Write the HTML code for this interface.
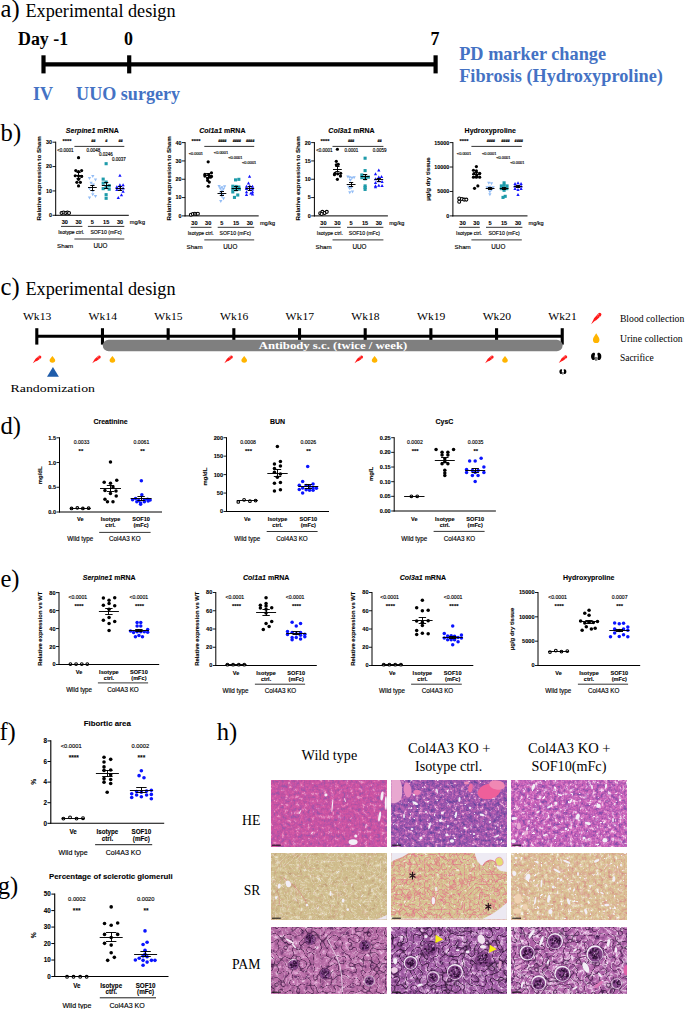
<!DOCTYPE html>
<html><head><meta charset="utf-8"><title>Figure</title>
<style>
html,body{margin:0;padding:0;background:#fff;}
body{width:685px;height:1009px;overflow:hidden;font-family:"Liberation Sans",sans-serif;}
svg{display:block;position:absolute;left:0;top:0;}
.s{font-family:"Liberation Sans",sans-serif;}
.r{font-family:"Liberation Serif",serif;}
text{white-space:pre;}
</style></head><body>
<svg width="685" height="1009" viewBox="0 0 685 1009">
<defs>
<clipPath id="cp00"><rect x="271.2" y="780" width="115.6" height="66.6"/></clipPath>
<clipPath id="cp01"><rect x="391.3" y="780" width="115.6" height="66.6"/></clipPath>
<clipPath id="cp02"><rect x="511.4" y="780" width="115.6" height="66.6"/></clipPath>
<clipPath id="cp10"><rect x="271.2" y="853" width="115.6" height="66.6"/></clipPath>
<clipPath id="cp11"><rect x="391.3" y="853" width="115.6" height="66.6"/></clipPath>
<clipPath id="cp12"><rect x="511.4" y="853" width="115.6" height="66.6"/></clipPath>
<clipPath id="cp20"><rect x="271.2" y="927" width="115.6" height="66.6"/></clipPath>
<clipPath id="cp21"><rect x="391.3" y="927" width="115.6" height="66.6"/></clipPath>
<clipPath id="cp22"><rect x="511.4" y="927" width="115.6" height="66.6"/></clipPath>
<filter id="soft" x="-0.02" y="-0.02" width="1.04" height="1.04"><feGaussianBlur stdDeviation="0.35"/></filter>
<filter id="he1b" x="0" y="0" width="1" height="1" color-interpolation-filters="sRGB"><feTurbulence type="fractalNoise" baseFrequency="0.26" numOctaves="2" seed="11"/><feColorMatrix type="matrix" values="1 0 0 0 0 1 0 0 0 0 1 0 0 0 0 0 0 0 0 1" result="a1"/><feTurbulence type="fractalNoise" baseFrequency="0.7" numOctaves="1" seed="111"/><feColorMatrix type="matrix" values="1 0 0 0 0 1 0 0 0 0 1 0 0 0 0 0 0 0 0 1" result="a2"/><feComposite in="a1" in2="a2" operator="arithmetic" k1="0" k2="0.85" k3="0.4" k4="-0.125"/><feColorMatrix type="matrix" values="2.2 0 0 0 -0.600 2.2 0 0 0 -0.600 2.2 0 0 0 -0.600 0 0 0 0 1"/><feComponentTransfer><feFuncR type="table" tableValues="0.627 0.722 0.776 0.800 0.824 0.855 0.902"/><feFuncG type="table" tableValues="0.337 0.322 0.322 0.329 0.345 0.400 0.565"/><feFuncB type="table" tableValues="0.659 0.635 0.635 0.643 0.643 0.675 0.769"/></feComponentTransfer></filter>
<filter id="he1c" x="0" y="0" width="1" height="1" color-interpolation-filters="sRGB"><feTurbulence type="fractalNoise" baseFrequency="0.2" numOctaves="1" seed="12"/><feColorMatrix type="matrix" values="0 0 0 0 0.604 0 0 0 0 0.329 0 0 0 0 0.706 3.0 0 0 0 -1.000"/><feComponentTransfer><feFuncA type="table" tableValues="0.000 0.000 0.000 0.000 0.400 0.000 0.000 0.000 0.000"/></feComponentTransfer></filter>
<filter id="he1n" x="0" y="0" width="1" height="1" color-interpolation-filters="sRGB"><feTurbulence type="fractalNoise" baseFrequency="0.7" numOctaves="1" seed="13"/><feColorMatrix type="matrix" values="0 0 0 0 0.604 0 0 0 0 0.329 0 0 0 0 0.722 10 0 0 0 -7.000"/><feComponentTransfer><feFuncA type="table" tableValues="0 0.3"/></feComponentTransfer></filter>
<filter id="he2b" x="0" y="0" width="1" height="1" color-interpolation-filters="sRGB"><feTurbulence type="fractalNoise" baseFrequency="0.26" numOctaves="2" seed="21"/><feColorMatrix type="matrix" values="1 0 0 0 0 1 0 0 0 0 1 0 0 0 0 0 0 0 0 1" result="a1"/><feTurbulence type="fractalNoise" baseFrequency="0.7" numOctaves="1" seed="121"/><feColorMatrix type="matrix" values="1 0 0 0 0 1 0 0 0 0 1 0 0 0 0 0 0 0 0 1" result="a2"/><feComposite in="a1" in2="a2" operator="arithmetic" k1="0" k2="0.85" k3="0.4" k4="-0.125"/><feColorMatrix type="matrix" values="2.2 0 0 0 -0.600 2.2 0 0 0 -0.600 2.2 0 0 0 -0.600 0 0 0 0 1"/><feComponentTransfer><feFuncR type="table" tableValues="0.424 0.525 0.604 0.651 0.722 0.800 0.925"/><feFuncG type="table" tableValues="0.282 0.314 0.329 0.345 0.376 0.471 0.722"/><feFuncB type="table" tableValues="0.627 0.651 0.667 0.682 0.698 0.745 0.871"/></feComponentTransfer></filter>
<filter id="he2c" x="0" y="0" width="1" height="1" color-interpolation-filters="sRGB"><feTurbulence type="fractalNoise" baseFrequency="0.2" numOctaves="1" seed="22"/><feColorMatrix type="matrix" values="0 0 0 0 0.392 0 0 0 0 0.267 0 0 0 0 0.643 2.6 0 0 0 -0.800"/><feComponentTransfer><feFuncA type="table" tableValues="0.000 0.000 0.000 0.000 0.450 0.000 0.000 0.000 0.000"/></feComponentTransfer></filter>
<filter id="he2n" x="0" y="0" width="1" height="1" color-interpolation-filters="sRGB"><feTurbulence type="fractalNoise" baseFrequency="0.7" numOctaves="1" seed="23"/><feColorMatrix type="matrix" values="0 0 0 0 0.416 0 0 0 0 0.282 0 0 0 0 0.690 10 0 0 0 -6.800"/><feComponentTransfer><feFuncA type="table" tableValues="0 0.35"/></feComponentTransfer></filter>
<filter id="he2h" x="0" y="0" width="1" height="1" color-interpolation-filters="sRGB"><feTurbulence type="fractalNoise" baseFrequency="0.3" numOctaves="2" seed="24"/><feColorMatrix type="matrix" values="0 0 0 0 0.965 0 0 0 0 0.941 0 0 0 0 0.973 12 0 0 0 -8.820"/><feComponentTransfer><feFuncA type="table" tableValues="0 1.0"/></feComponentTransfer></filter>
<filter id="he3b" x="0" y="0" width="1" height="1" color-interpolation-filters="sRGB"><feTurbulence type="fractalNoise" baseFrequency="0.26" numOctaves="2" seed="31"/><feColorMatrix type="matrix" values="1 0 0 0 0 1 0 0 0 0 1 0 0 0 0 0 0 0 0 1" result="a1"/><feTurbulence type="fractalNoise" baseFrequency="0.7" numOctaves="1" seed="131"/><feColorMatrix type="matrix" values="1 0 0 0 0 1 0 0 0 0 1 0 0 0 0 0 0 0 0 1" result="a2"/><feComposite in="a1" in2="a2" operator="arithmetic" k1="0" k2="0.85" k3="0.4" k4="-0.125"/><feColorMatrix type="matrix" values="2.2 0 0 0 -0.600 2.2 0 0 0 -0.600 2.2 0 0 0 -0.600 0 0 0 0 1"/><feComponentTransfer><feFuncR type="table" tableValues="0.533 0.659 0.753 0.800 0.847 0.894 0.957"/><feFuncG type="table" tableValues="0.314 0.345 0.361 0.392 0.471 0.612 0.831"/><feFuncB type="table" tableValues="0.675 0.690 0.706 0.729 0.769 0.831 0.933"/></feComponentTransfer></filter>
<filter id="he3c" x="0" y="0" width="1" height="1" color-interpolation-filters="sRGB"><feTurbulence type="fractalNoise" baseFrequency="0.2" numOctaves="1" seed="32"/><feColorMatrix type="matrix" values="0 0 0 0 0.502 0 0 0 0 0.314 0 0 0 0 0.690 2.8 0 0 0 -0.900"/><feComponentTransfer><feFuncA type="table" tableValues="0.000 0.000 0.000 0.000 0.400 0.000 0.000 0.000 0.000"/></feComponentTransfer></filter>
<filter id="he3n" x="0" y="0" width="1" height="1" color-interpolation-filters="sRGB"><feTurbulence type="fractalNoise" baseFrequency="0.7" numOctaves="1" seed="33"/><feColorMatrix type="matrix" values="0 0 0 0 0.478 0 0 0 0 0.282 0 0 0 0 0.690 10 0 0 0 -7.000"/><feComponentTransfer><feFuncA type="table" tableValues="0 0.3"/></feComponentTransfer></filter>
<filter id="he3h" x="0" y="0" width="1" height="1" color-interpolation-filters="sRGB"><feTurbulence type="fractalNoise" baseFrequency="0.28" numOctaves="2" seed="34"/><feColorMatrix type="matrix" values="0 0 0 0 0.973 0 0 0 0 0.949 0 0 0 0 0.980 12 0 0 0 -8.580"/><feComponentTransfer><feFuncA type="table" tableValues="0 1.0"/></feComponentTransfer></filter>
<filter id="sr1b" x="0" y="0" width="1" height="1" color-interpolation-filters="sRGB"><feTurbulence type="fractalNoise" baseFrequency="0.25" numOctaves="2" seed="41"/><feColorMatrix type="matrix" values="1 0 0 0 0 1 0 0 0 0 1 0 0 0 0 0 0 0 0 1" result="a1"/><feTurbulence type="fractalNoise" baseFrequency="0.7" numOctaves="1" seed="141"/><feColorMatrix type="matrix" values="1 0 0 0 0 1 0 0 0 0 1 0 0 0 0 0 0 0 0 1" result="a2"/><feComposite in="a1" in2="a2" operator="arithmetic" k1="0" k2="0.8" k3="0.35" k4="-0.075"/><feColorMatrix type="matrix" values="1.7 0 0 0 -0.350 1.7 0 0 0 -0.350 1.7 0 0 0 -0.350 0 0 0 0 1"/><feComponentTransfer><feFuncR type="table" tableValues="0.745 0.784 0.808 0.816 0.831 0.871 0.925"/><feFuncG type="table" tableValues="0.620 0.690 0.729 0.745 0.769 0.816 0.894"/><feFuncB type="table" tableValues="0.471 0.510 0.541 0.557 0.588 0.667 0.816"/></feComponentTransfer></filter>
<filter id="sr1c" x="0" y="0" width="1" height="1" color-interpolation-filters="sRGB"><feTurbulence type="fractalNoise" baseFrequency="0.21" numOctaves="1" seed="42"/><feColorMatrix type="matrix" values="0 0 0 0 0.933 0 0 0 0 0.902 0 0 0 0 0.855 3.2 0 0 0 -1.100"/><feComponentTransfer><feFuncA type="table" tableValues="0.000 0.000 0.000 0.000 0.500 0.000 0.000 0.000 0.000"/></feComponentTransfer></filter>
<filter id="sr1r" x="0" y="0" width="1" height="1" color-interpolation-filters="sRGB"><feTurbulence type="fractalNoise" baseFrequency="0.13" numOctaves="1" seed="43"/><feColorMatrix type="matrix" values="0 0 0 0 0.847 0 0 0 0 0.549 0 0 0 0 0.549 4 0 0 0 -1.500"/><feComponentTransfer><feFuncA type="table" tableValues="0.000 0.000 0.000 0.000 0.300 0.000 0.000 0.000 0.000"/></feComponentTransfer></filter>
<filter id="sr2b" x="0" y="0" width="1" height="1" color-interpolation-filters="sRGB"><feTurbulence type="fractalNoise" baseFrequency="0.25" numOctaves="2" seed="51"/><feColorMatrix type="matrix" values="1 0 0 0 0 1 0 0 0 0 1 0 0 0 0 0 0 0 0 1" result="a1"/><feTurbulence type="fractalNoise" baseFrequency="0.7" numOctaves="1" seed="151"/><feColorMatrix type="matrix" values="1 0 0 0 0 1 0 0 0 0 1 0 0 0 0 0 0 0 0 1" result="a2"/><feComposite in="a1" in2="a2" operator="arithmetic" k1="0" k2="0.8" k3="0.35" k4="-0.075"/><feColorMatrix type="matrix" values="1.8 0 0 0 -0.400 1.8 0 0 0 -0.400 1.8 0 0 0 -0.400 0 0 0 0 1"/><feComponentTransfer><feFuncR type="table" tableValues="0.878 0.863 0.847 0.839 0.847 0.886 0.949"/><feFuncG type="table" tableValues="0.486 0.627 0.729 0.761 0.784 0.831 0.925"/><feFuncB type="table" tableValues="0.565 0.565 0.557 0.565 0.580 0.667 0.878"/></feComponentTransfer></filter>
<filter id="sr2c" x="0" y="0" width="1" height="1" color-interpolation-filters="sRGB"><feTurbulence type="fractalNoise" baseFrequency="0.2" numOctaves="1" seed="52"/><feColorMatrix type="matrix" values="0 0 0 0 0.886 0 0 0 0 0.376 0 0 0 0 0.498 2.2 0 0 0 -0.600"/><feComponentTransfer><feFuncA type="table" tableValues="0.000 0.000 0.000 0.000 0.620 0.000 0.000 0.000 0.000"/></feComponentTransfer></filter>
<filter id="sr2w" x="0" y="0" width="1" height="1" color-interpolation-filters="sRGB"><feTurbulence type="fractalNoise" baseFrequency="0.2" numOctaves="1" seed="53"/><feColorMatrix type="matrix" values="0 0 0 0 0.957 0 0 0 0 0.933 0 0 0 0 0.902 4 0 0 0 -1.500"/><feComponentTransfer><feFuncA type="table" tableValues="0.000 0.000 0.000 0.000 0.350 0.000 0.000 0.000 0.000"/></feComponentTransfer></filter>
<filter id="sr3b" x="0" y="0" width="1" height="1" color-interpolation-filters="sRGB"><feTurbulence type="fractalNoise" baseFrequency="0.25" numOctaves="2" seed="61"/><feColorMatrix type="matrix" values="1 0 0 0 0 1 0 0 0 0 1 0 0 0 0 0 0 0 0 1" result="a1"/><feTurbulence type="fractalNoise" baseFrequency="0.7" numOctaves="1" seed="161"/><feColorMatrix type="matrix" values="1 0 0 0 0 1 0 0 0 0 1 0 0 0 0 0 0 0 0 1" result="a2"/><feComposite in="a1" in2="a2" operator="arithmetic" k1="0" k2="0.8" k3="0.35" k4="-0.075"/><feColorMatrix type="matrix" values="1.8 0 0 0 -0.400 1.8 0 0 0 -0.400 1.8 0 0 0 -0.400 0 0 0 0 1"/><feComponentTransfer><feFuncR type="table" tableValues="0.831 0.847 0.855 0.855 0.878 0.918 0.973"/><feFuncG type="table" tableValues="0.565 0.675 0.737 0.765 0.800 0.863 0.957"/><feFuncB type="table" tableValues="0.533 0.549 0.573 0.588 0.643 0.753 0.941"/></feComponentTransfer></filter>
<filter id="sr3c" x="0" y="0" width="1" height="1" color-interpolation-filters="sRGB"><feTurbulence type="fractalNoise" baseFrequency="0.2" numOctaves="1" seed="62"/><feColorMatrix type="matrix" values="0 0 0 0 0.863 0 0 0 0 0.518 0 0 0 0 0.580 2.6 0 0 0 -0.800"/><feComponentTransfer><feFuncA type="table" tableValues="0.000 0.000 0.000 0.000 0.420 0.000 0.000 0.000 0.000"/></feComponentTransfer></filter>
<filter id="sr3h" x="0" y="0" width="1" height="1" color-interpolation-filters="sRGB"><feTurbulence type="fractalNoise" baseFrequency="0.3" numOctaves="2" seed="63"/><feColorMatrix type="matrix" values="0 0 0 0 0.965 0 0 0 0 0.949 0 0 0 0 0.965 12 0 0 0 -8.400"/><feComponentTransfer><feFuncA type="table" tableValues="0 1.0"/></feComponentTransfer></filter>
<filter id="pm1b" x="0" y="0" width="1" height="1" color-interpolation-filters="sRGB"><feTurbulence type="fractalNoise" baseFrequency="0.2" numOctaves="2" seed="71"/><feColorMatrix type="matrix" values="1 0 0 0 0 1 0 0 0 0 1 0 0 0 0 0 0 0 0 1" result="a1"/><feTurbulence type="fractalNoise" baseFrequency="0.6" numOctaves="1" seed="171"/><feColorMatrix type="matrix" values="1 0 0 0 0 1 0 0 0 0 1 0 0 0 0 0 0 0 0 1" result="a2"/><feComposite in="a1" in2="a2" operator="arithmetic" k1="0" k2="0.85" k3="0.25" k4="-0.050"/><feColorMatrix type="matrix" values="1.8 0 0 0 -0.400 1.8 0 0 0 -0.400 1.8 0 0 0 -0.400 0 0 0 0 1"/><feComponentTransfer><feFuncR type="table" tableValues="0.424 0.596 0.682 0.722 0.761 0.831 0.925"/><feFuncG type="table" tableValues="0.220 0.329 0.400 0.431 0.471 0.573 0.784"/><feFuncB type="table" tableValues="0.439 0.557 0.620 0.659 0.690 0.776 0.894"/></feComponentTransfer></filter>
<filter id="pm1d" x="0" y="0" width="1" height="1" color-interpolation-filters="sRGB"><feTurbulence type="fractalNoise" baseFrequency="0.14" numOctaves="1" seed="72"/><feColorMatrix type="matrix" values="0 0 0 0 0.173 0 0 0 0 0.047 0 0 0 0 0.204 3.2 0 0 0 -1.100"/><feComponentTransfer><feFuncA type="table" tableValues="0.000 0.000 0.000 0.000 0.700 0.000 0.000 0.000 0.000"/></feComponentTransfer></filter>
<filter id="pm1w" x="0" y="0" width="1" height="1" color-interpolation-filters="sRGB"><feTurbulence type="fractalNoise" baseFrequency="0.19" numOctaves="1" seed="73"/><feColorMatrix type="matrix" values="0 0 0 0 0.925 0 0 0 0 0.847 0 0 0 0 0.918 3.4 0 0 0 -1.200"/><feComponentTransfer><feFuncA type="table" tableValues="0.000 0.000 0.000 0.000 0.450 0.000 0.000 0.000 0.000"/></feComponentTransfer></filter>
<filter id="pm2b" x="0" y="0" width="1" height="1" color-interpolation-filters="sRGB"><feTurbulence type="fractalNoise" baseFrequency="0.2" numOctaves="2" seed="81"/><feColorMatrix type="matrix" values="1 0 0 0 0 1 0 0 0 0 1 0 0 0 0 0 0 0 0 1" result="a1"/><feTurbulence type="fractalNoise" baseFrequency="0.6" numOctaves="1" seed="181"/><feColorMatrix type="matrix" values="1 0 0 0 0 1 0 0 0 0 1 0 0 0 0 0 0 0 0 1" result="a2"/><feComposite in="a1" in2="a2" operator="arithmetic" k1="0" k2="0.85" k3="0.25" k4="-0.050"/><feColorMatrix type="matrix" values="1.9 0 0 0 -0.450 1.9 0 0 0 -0.450 1.9 0 0 0 -0.450 0 0 0 0 1"/><feComponentTransfer><feFuncR type="table" tableValues="0.329 0.494 0.588 0.627 0.690 0.800 0.941"/><feFuncG type="table" tableValues="0.157 0.267 0.329 0.361 0.424 0.580 0.847"/><feFuncB type="table" tableValues="0.376 0.518 0.604 0.643 0.698 0.800 0.941"/></feComponentTransfer></filter>
<filter id="pm2d" x="0" y="0" width="1" height="1" color-interpolation-filters="sRGB"><feTurbulence type="fractalNoise" baseFrequency="0.14" numOctaves="1" seed="82"/><feColorMatrix type="matrix" values="0 0 0 0 0.133 0 0 0 0 0.031 0 0 0 0 0.157 2.8 0 0 0 -0.900"/><feComponentTransfer><feFuncA type="table" tableValues="0.000 0.000 0.000 0.000 0.780 0.000 0.000 0.000 0.000"/></feComponentTransfer></filter>
<filter id="pm2w" x="0" y="0" width="1" height="1" color-interpolation-filters="sRGB"><feTurbulence type="fractalNoise" baseFrequency="0.19" numOctaves="1" seed="83"/><feColorMatrix type="matrix" values="0 0 0 0 0.949 0 0 0 0 0.894 0 0 0 0 0.949 3.0 0 0 0 -1.000"/><feComponentTransfer><feFuncA type="table" tableValues="0.000 0.000 0.000 0.000 0.550 0.000 0.000 0.000 0.000"/></feComponentTransfer></filter>
<filter id="pm3b" x="0" y="0" width="1" height="1" color-interpolation-filters="sRGB"><feTurbulence type="fractalNoise" baseFrequency="0.2" numOctaves="2" seed="91"/><feColorMatrix type="matrix" values="1 0 0 0 0 1 0 0 0 0 1 0 0 0 0 0 0 0 0 1" result="a1"/><feTurbulence type="fractalNoise" baseFrequency="0.6" numOctaves="1" seed="191"/><feColorMatrix type="matrix" values="1 0 0 0 0 1 0 0 0 0 1 0 0 0 0 0 0 0 0 1" result="a2"/><feComposite in="a1" in2="a2" operator="arithmetic" k1="0" k2="0.85" k3="0.25" k4="-0.050"/><feColorMatrix type="matrix" values="1.9 0 0 0 -0.450 1.9 0 0 0 -0.450 1.9 0 0 0 -0.450 0 0 0 0 1"/><feComponentTransfer><feFuncR type="table" tableValues="0.369 0.549 0.651 0.698 0.753 0.847 0.965"/><feFuncG type="table" tableValues="0.173 0.298 0.369 0.400 0.471 0.627 0.894"/><feFuncB type="table" tableValues="0.416 0.549 0.635 0.667 0.722 0.824 0.965"/></feComponentTransfer></filter>
<filter id="pm3d" x="0" y="0" width="1" height="1" color-interpolation-filters="sRGB"><feTurbulence type="fractalNoise" baseFrequency="0.14" numOctaves="1" seed="92"/><feColorMatrix type="matrix" values="0 0 0 0 0.165 0 0 0 0 0.047 0 0 0 0 0.204 3.0 0 0 0 -1.000"/><feComponentTransfer><feFuncA type="table" tableValues="0.000 0.000 0.000 0.000 0.700 0.000 0.000 0.000 0.000"/></feComponentTransfer></filter>
<filter id="pm3w" x="0" y="0" width="1" height="1" color-interpolation-filters="sRGB"><feTurbulence type="fractalNoise" baseFrequency="0.17" numOctaves="1" seed="93"/><feColorMatrix type="matrix" values="0 0 0 0 0.965 0 0 0 0 0.918 0 0 0 0 0.965 2.4 0 0 0 -0.700"/><feComponentTransfer><feFuncA type="table" tableValues="0.000 0.000 0.000 0.000 0.700 0.000 0.000 0.000 0.000"/></feComponentTransfer></filter>
</defs>
<rect width="685" height="1009" fill="#fff"/>
<text class="r" x="0.50" y="16.70" font-size="24.6">a)</text>
<text class="r" x="25.50" y="16.80" font-size="18.2">Experimental design</text>
<text class="r" x="18.00" y="45.30" font-size="17.9" font-weight="bold">Day -1</text>
<text class="r" x="124.10" y="45.30" font-size="17.9" font-weight="bold">0</text>
<text class="r" x="430.60" y="45.30" font-size="17.9" font-weight="bold">7</text>
<line x1="43.40" y1="64.30" x2="435.60" y2="64.30" stroke="#000" stroke-width="4.3"/>
<line x1="43.50" y1="55.30" x2="43.50" y2="73.40" stroke="#000" stroke-width="4.2"/>
<line x1="129.20" y1="55.30" x2="129.20" y2="73.40" stroke="#000" stroke-width="4.2"/>
<line x1="435.60" y1="55.30" x2="435.60" y2="73.40" stroke="#000" stroke-width="4.2"/>
<text class="r" x="33.00" y="100.40" font-size="18.1" font-weight="bold" fill="#4472C4">IV</text>
<text class="r" x="76.10" y="100.40" font-size="18.1" font-weight="bold" fill="#4472C4">UUO surgery</text>
<text class="r" x="459.20" y="59.90" font-size="18.3" font-weight="bold" fill="#4472C4">PD marker change</text>
<text class="r" x="459.20" y="82.30" font-size="18.3" font-weight="bold" fill="#4472C4">Fibrosis (Hydroxyproline)</text>
<text class="r" x="0.60" y="141.00" font-size="24.6">b)</text>
<text class="s" x="92.30" y="133.29" font-size="7" font-weight="bold" text-anchor="middle" stroke="#000" stroke-width="0.1"><tspan font-style="italic">Serpine1</tspan><tspan font-style="normal"> mRNA</tspan></text>
<line x1="55.70" y1="141.70" x2="55.70" y2="215.80" stroke="#000" stroke-width="1"/>
<line x1="55.20" y1="215.30" x2="128.80" y2="215.30" stroke="#000" stroke-width="1"/>
<line x1="52.50" y1="215.30" x2="55.70" y2="215.30" stroke="#000" stroke-width="0.9"/>
<text class="s" x="52.10" y="217.22" font-size="5.4" font-weight="bold" text-anchor="end" stroke="#000" stroke-width="0.1">0</text>
<line x1="52.50" y1="190.93" x2="55.70" y2="190.93" stroke="#000" stroke-width="0.9"/>
<text class="s" x="52.10" y="192.85" font-size="5.4" font-weight="bold" text-anchor="end" stroke="#000" stroke-width="0.1">10</text>
<line x1="52.50" y1="166.57" x2="55.70" y2="166.57" stroke="#000" stroke-width="0.9"/>
<text class="s" x="52.10" y="168.48" font-size="5.4" font-weight="bold" text-anchor="end" stroke="#000" stroke-width="0.1">20</text>
<line x1="52.50" y1="142.20" x2="55.70" y2="142.20" stroke="#000" stroke-width="0.9"/>
<text class="s" x="52.10" y="144.12" font-size="5.4" font-weight="bold" text-anchor="end" stroke="#000" stroke-width="0.1">30</text>
<text class="s" transform="translate(41.40,178.40) rotate(-90)" font-size="6.2" font-weight="bold" text-anchor="middle" stroke="#000" stroke-width="0.1">Relative expression to Sham</text>
<circle cx="61.57" cy="212.96" r="1.50" fill="#fff" stroke="#000" stroke-width="1.05"/>
<circle cx="63.54" cy="212.52" r="1.50" fill="#fff" stroke="#000" stroke-width="1.05"/>
<circle cx="65.51" cy="212.96" r="1.50" fill="#fff" stroke="#000" stroke-width="1.05"/>
<circle cx="67.48" cy="212.52" r="1.50" fill="#fff" stroke="#000" stroke-width="1.05"/>
<circle cx="69.02" cy="212.96" r="1.50" fill="#fff" stroke="#000" stroke-width="1.05"/>
<circle cx="78.54" cy="157.67" r="1.6" fill="#000"/>
<circle cx="75.80" cy="170.59" r="1.6" fill="#000"/>
<circle cx="78.54" cy="171.68" r="1.6" fill="#000"/>
<circle cx="81.61" cy="170.59" r="1.6" fill="#000"/>
<circle cx="75.26" cy="175.73" r="1.6" fill="#000"/>
<circle cx="78.54" cy="176.06" r="1.6" fill="#000"/>
<circle cx="81.61" cy="176.39" r="1.6" fill="#000"/>
<circle cx="78.54" cy="179.34" r="1.6" fill="#000"/>
<circle cx="76.90" cy="182.30" r="1.6" fill="#000"/>
<circle cx="80.40" cy="182.30" r="1.6" fill="#000"/>
<circle cx="78.54" cy="185.91" r="1.6" fill="#000"/>
<line x1="74.20" y1="175.50" x2="83.00" y2="175.50" stroke="#000" stroke-width="0.95"/>
<line x1="78.50" y1="172.00" x2="78.50" y2="179.00" stroke="#000" stroke-width="0.95"/>
<line x1="76.50" y1="172.50" x2="80.70" y2="172.50" stroke="#000" stroke-width="0.95"/>
<line x1="76.50" y1="178.50" x2="80.70" y2="178.50" stroke="#000" stroke-width="0.95"/>
<path d="M91.13 175.04h3.30L92.78 178.04z" fill="#93BDF5"/>
<path d="M87.84 176.90h3.30L89.49 179.90z" fill="#93BDF5"/>
<path d="M93.86 178.54h3.30L95.51 181.54z" fill="#93BDF5"/>
<path d="M89.48 181.83h3.30L91.13 184.83z" fill="#93BDF5"/>
<path d="M91.67 183.47h3.30L93.32 186.47z" fill="#93BDF5"/>
<path d="M87.84 187.30h3.30L89.49 190.30z" fill="#93BDF5"/>
<path d="M91.13 190.04h3.30L92.78 193.04z" fill="#93BDF5"/>
<path d="M91.13 193.32h3.30L92.78 196.32z" fill="#93BDF5"/>
<path d="M93.86 194.97h3.30L95.51 197.97z" fill="#93BDF5"/>
<path d="M87.84 196.61h3.30L89.49 199.61z" fill="#93BDF5"/>
<line x1="88.00" y1="187.50" x2="96.80" y2="187.50" stroke="#000" stroke-width="0.95"/>
<line x1="92.50" y1="185.00" x2="92.50" y2="191.00" stroke="#000" stroke-width="0.95"/>
<line x1="90.30" y1="185.50" x2="94.50" y2="185.50" stroke="#000" stroke-width="0.95"/>
<line x1="90.30" y1="190.50" x2="94.50" y2="190.50" stroke="#000" stroke-width="0.95"/>
<rect x="104.58" y="162.14" width="3.1" height="3.1" fill="#1E9BAA"/>
<rect x="101.63" y="177.58" width="3.1" height="3.1" fill="#1E9BAA"/>
<rect x="104.58" y="180.53" width="3.1" height="3.1" fill="#1E9BAA"/>
<rect x="101.63" y="181.63" width="3.1" height="3.1" fill="#1E9BAA"/>
<rect x="107.65" y="184.04" width="3.1" height="3.1" fill="#1E9BAA"/>
<rect x="101.63" y="187.10" width="3.1" height="3.1" fill="#1E9BAA"/>
<rect x="107.65" y="187.65" width="3.1" height="3.1" fill="#1E9BAA"/>
<rect x="104.58" y="186.01" width="3.1" height="3.1" fill="#1E9BAA"/>
<rect x="104.58" y="193.12" width="3.1" height="3.1" fill="#1E9BAA"/>
<rect x="104.58" y="196.74" width="3.1" height="3.1" fill="#1E9BAA"/>
<line x1="101.80" y1="185.50" x2="110.60" y2="185.50" stroke="#000" stroke-width="0.95"/>
<line x1="106.50" y1="182.00" x2="106.50" y2="189.00" stroke="#000" stroke-width="0.95"/>
<line x1="104.10" y1="182.50" x2="108.30" y2="182.50" stroke="#000" stroke-width="0.95"/>
<line x1="104.10" y1="188.50" x2="108.30" y2="188.50" stroke="#000" stroke-width="0.95"/>
<path d="M118.28 176.64h3.30L119.93 173.64z" fill="#1414FF"/>
<path d="M118.28 186.17h3.30L119.93 183.17z" fill="#1414FF"/>
<path d="M121.45 186.17h3.30L123.10 183.17z" fill="#1414FF"/>
<path d="M115.21 188.36h3.30L116.86 185.36z" fill="#1414FF"/>
<path d="M118.28 189.45h3.30L119.93 186.45z" fill="#1414FF"/>
<path d="M121.45 189.45h3.30L123.10 186.45z" fill="#1414FF"/>
<path d="M121.45 192.74h3.30L123.10 189.74z" fill="#1414FF"/>
<path d="M115.21 191.10h3.30L116.86 188.10z" fill="#1414FF"/>
<path d="M119.81 196.35h3.30L121.46 193.35z" fill="#1414FF"/>
<path d="M116.64 199.09h3.30L118.29 196.09z" fill="#1414FF"/>
<line x1="115.60" y1="188.50" x2="124.40" y2="188.50" stroke="#000" stroke-width="0.95"/>
<line x1="120.50" y1="186.00" x2="120.50" y2="191.00" stroke="#000" stroke-width="0.95"/>
<line x1="117.90" y1="186.50" x2="122.10" y2="186.50" stroke="#000" stroke-width="0.95"/>
<line x1="117.90" y1="190.50" x2="122.10" y2="190.50" stroke="#000" stroke-width="0.95"/>
<text class="s" x="67.00" y="143.46" font-size="5.8" font-weight="bold" text-anchor="middle" stroke="#000" stroke-width="0.1">****</text>
<text class="s" x="93.20" y="142.11" font-size="3.7" font-weight="bold" font-style="italic" text-anchor="middle" stroke="#000" stroke-width="0.1">##</text>
<text class="s" x="106.20" y="142.11" font-size="3.7" font-weight="bold" font-style="italic" text-anchor="middle" stroke="#000" stroke-width="0.1">#</text>
<text class="s" x="120.50" y="142.11" font-size="3.7" font-weight="bold" font-style="italic" text-anchor="middle" stroke="#000" stroke-width="0.1">##</text>
<text class="s" x="65.40" y="151.90" font-size="4.5" text-anchor="middle" stroke="#000" stroke-width="0.14">&lt;0.0001</text>
<text class="s" x="93.30" y="151.90" font-size="4.5" text-anchor="middle" stroke="#000" stroke-width="0.14">0.0048</text>
<text class="s" x="105.80" y="156.40" font-size="4.5" text-anchor="middle" stroke="#000" stroke-width="0.14">0.0246</text>
<text class="s" x="119.00" y="161.10" font-size="4.5" text-anchor="middle" stroke="#000" stroke-width="0.14">0.0037</text>
<text class="s" x="64.80" y="223.89" font-size="5.6" font-weight="bold" text-anchor="middle" stroke="#000" stroke-width="0.1">30</text>
<text class="s" x="78.60" y="223.89" font-size="5.6" font-weight="bold" text-anchor="middle" stroke="#000" stroke-width="0.1">30</text>
<text class="s" x="92.40" y="223.89" font-size="5.6" font-weight="bold" text-anchor="middle" stroke="#000" stroke-width="0.1">5</text>
<text class="s" x="106.20" y="223.89" font-size="5.6" font-weight="bold" text-anchor="middle" stroke="#000" stroke-width="0.1">15</text>
<text class="s" x="120.00" y="223.89" font-size="5.6" font-weight="bold" text-anchor="middle" stroke="#000" stroke-width="0.1">30</text>
<text class="s" x="129.80" y="223.89" font-size="5.6" stroke="#000" stroke-width="0.14">mg/kg</text>
<line x1="61.00" y1="226.40" x2="82.40" y2="226.40" stroke="#000" stroke-width="0.8"/>
<line x1="87.90" y1="226.40" x2="124.30" y2="226.40" stroke="#000" stroke-width="0.8"/>
<text class="s" x="71.20" y="234.21" font-size="5.1" text-anchor="middle" stroke="#000" stroke-width="0.14">Isotype ctrl.</text>
<text class="s" x="106.10" y="234.25" font-size="5.2" text-anchor="middle" stroke="#000" stroke-width="0.14">SOF10 (mFc)</text>
<line x1="74.40" y1="239.00" x2="124.30" y2="239.00" stroke="#000" stroke-width="0.8"/>
<line x1="74.40" y1="146.40" x2="124.30" y2="146.40" stroke="#000" stroke-width="0.8"/>
<text class="s" x="65.20" y="247.90" font-size="6.2" text-anchor="middle" stroke="#000" stroke-width="0.14">Sham</text>
<text class="s" x="100.40" y="247.94" font-size="6.3" text-anchor="middle" stroke="#000" stroke-width="0.14">UUO</text>
<text class="s" x="222.30" y="133.29" font-size="7" font-weight="bold" text-anchor="middle" stroke="#000" stroke-width="0.1"><tspan font-style="italic">Col1a1</tspan><tspan font-style="normal"> mRNA</tspan></text>
<line x1="185.10" y1="142.10" x2="185.10" y2="216.40" stroke="#000" stroke-width="1"/>
<line x1="184.60" y1="215.90" x2="258.70" y2="215.90" stroke="#000" stroke-width="1"/>
<line x1="181.90" y1="215.90" x2="185.10" y2="215.90" stroke="#000" stroke-width="0.9"/>
<text class="s" x="181.50" y="217.82" font-size="5.4" font-weight="bold" text-anchor="end" stroke="#000" stroke-width="0.1">0</text>
<line x1="181.90" y1="197.57" x2="185.10" y2="197.57" stroke="#000" stroke-width="0.9"/>
<text class="s" x="181.50" y="199.49" font-size="5.4" font-weight="bold" text-anchor="end" stroke="#000" stroke-width="0.1">10</text>
<line x1="181.90" y1="179.25" x2="185.10" y2="179.25" stroke="#000" stroke-width="0.9"/>
<text class="s" x="181.50" y="181.17" font-size="5.4" font-weight="bold" text-anchor="end" stroke="#000" stroke-width="0.1">20</text>
<line x1="181.90" y1="160.93" x2="185.10" y2="160.93" stroke="#000" stroke-width="0.9"/>
<text class="s" x="181.50" y="162.84" font-size="5.4" font-weight="bold" text-anchor="end" stroke="#000" stroke-width="0.1">30</text>
<line x1="181.90" y1="142.60" x2="185.10" y2="142.60" stroke="#000" stroke-width="0.9"/>
<text class="s" x="181.50" y="144.52" font-size="5.4" font-weight="bold" text-anchor="end" stroke="#000" stroke-width="0.1">40</text>
<text class="s" transform="translate(171.00,178.40) rotate(-90)" font-size="6.2" font-weight="bold" text-anchor="middle" stroke="#000" stroke-width="0.1">Relative expression to Sham</text>
<circle cx="190.88" cy="214.71" r="1.50" fill="#fff" stroke="#000" stroke-width="1.05"/>
<circle cx="192.85" cy="214.05" r="1.50" fill="#fff" stroke="#000" stroke-width="1.05"/>
<circle cx="194.83" cy="213.83" r="1.50" fill="#fff" stroke="#000" stroke-width="1.05"/>
<circle cx="196.36" cy="214.05" r="1.50" fill="#fff" stroke="#000" stroke-width="1.05"/>
<circle cx="197.89" cy="213.83" r="1.50" fill="#fff" stroke="#000" stroke-width="1.05"/>
<circle cx="208.18" cy="161.83" r="1.6" fill="#000"/>
<circle cx="211.47" cy="172.78" r="1.6" fill="#000"/>
<circle cx="204.90" cy="174.42" r="1.6" fill="#000"/>
<circle cx="208.73" cy="174.64" r="1.6" fill="#000"/>
<circle cx="211.47" cy="176.61" r="1.6" fill="#000"/>
<circle cx="204.90" cy="176.06" r="1.6" fill="#000"/>
<circle cx="207.64" cy="178.25" r="1.6" fill="#000"/>
<circle cx="210.37" cy="177.15" r="1.6" fill="#000"/>
<circle cx="207.64" cy="180.44" r="1.6" fill="#000"/>
<circle cx="209.28" cy="182.08" r="1.6" fill="#000"/>
<circle cx="208.18" cy="186.24" r="1.6" fill="#000"/>
<line x1="203.80" y1="175.50" x2="212.60" y2="175.50" stroke="#000" stroke-width="0.95"/>
<line x1="208.50" y1="173.00" x2="208.50" y2="178.00" stroke="#000" stroke-width="0.95"/>
<line x1="206.10" y1="173.50" x2="210.30" y2="173.50" stroke="#000" stroke-width="0.95"/>
<line x1="206.10" y1="177.50" x2="210.30" y2="177.50" stroke="#000" stroke-width="0.95"/>
<path d="M217.48 185.11h3.30L219.13 188.11z" fill="#93BDF5"/>
<path d="M220.22 186.21h3.30L221.87 189.21z" fill="#93BDF5"/>
<path d="M222.96 185.33h3.30L224.61 188.33z" fill="#93BDF5"/>
<path d="M218.58 187.30h3.30L220.23 190.30z" fill="#93BDF5"/>
<path d="M221.86 187.85h3.30L223.51 190.85z" fill="#93BDF5"/>
<path d="M220.22 189.49h3.30L221.87 192.49z" fill="#93BDF5"/>
<path d="M219.13 191.68h3.30L220.78 194.68z" fill="#93BDF5"/>
<path d="M221.31 193.32h3.30L222.96 196.32z" fill="#93BDF5"/>
<path d="M220.22 194.97h3.30L221.87 197.97z" fill="#93BDF5"/>
<path d="M221.86 197.16h3.30L223.51 200.16z" fill="#93BDF5"/>
<path d="M219.13 199.89h3.30L220.78 202.89z" fill="#93BDF5"/>
<line x1="217.50" y1="193.50" x2="226.30" y2="193.50" stroke="#000" stroke-width="0.95"/>
<line x1="221.50" y1="191.00" x2="221.50" y2="196.00" stroke="#000" stroke-width="0.95"/>
<line x1="219.80" y1="191.50" x2="224.00" y2="191.50" stroke="#000" stroke-width="0.95"/>
<line x1="219.80" y1="195.50" x2="224.00" y2="195.50" stroke="#000" stroke-width="0.95"/>
<rect x="234.01" y="178.34" width="3.1" height="3.1" fill="#1E9BAA"/>
<rect x="237.29" y="177.79" width="3.1" height="3.1" fill="#1E9BAA"/>
<rect x="231.27" y="184.69" width="3.1" height="3.1" fill="#1E9BAA"/>
<rect x="234.55" y="184.91" width="3.1" height="3.1" fill="#1E9BAA"/>
<rect x="237.29" y="185.46" width="3.1" height="3.1" fill="#1E9BAA"/>
<rect x="231.27" y="187.65" width="3.1" height="3.1" fill="#1E9BAA"/>
<rect x="234.55" y="188.20" width="3.1" height="3.1" fill="#1E9BAA"/>
<rect x="237.84" y="187.65" width="3.1" height="3.1" fill="#1E9BAA"/>
<rect x="231.27" y="190.39" width="3.1" height="3.1" fill="#1E9BAA"/>
<rect x="236.20" y="193.45" width="3.1" height="3.1" fill="#1E9BAA"/>
<rect x="232.91" y="195.86" width="3.1" height="3.1" fill="#1E9BAA"/>
<line x1="231.70" y1="188.50" x2="240.50" y2="188.50" stroke="#000" stroke-width="0.95"/>
<line x1="236.50" y1="186.00" x2="236.50" y2="191.00" stroke="#000" stroke-width="0.95"/>
<line x1="234.00" y1="186.50" x2="238.20" y2="186.50" stroke="#000" stroke-width="0.95"/>
<line x1="234.00" y1="190.50" x2="238.20" y2="190.50" stroke="#000" stroke-width="0.95"/>
<path d="M247.92 177.74h3.30L249.57 174.74z" fill="#1414FF"/>
<path d="M246.83 184.53h3.30L248.48 181.53z" fill="#1414FF"/>
<path d="M244.86 187.81h3.30L246.51 184.81z" fill="#1414FF"/>
<path d="M248.14 187.26h3.30L249.79 184.26z" fill="#1414FF"/>
<path d="M250.88 187.81h3.30L252.53 184.81z" fill="#1414FF"/>
<path d="M244.86 190.00h3.30L246.51 187.00z" fill="#1414FF"/>
<path d="M250.88 190.55h3.30L252.53 187.55z" fill="#1414FF"/>
<path d="M244.86 193.29h3.30L246.51 190.29z" fill="#1414FF"/>
<path d="M248.14 191.10h3.30L249.79 188.10z" fill="#1414FF"/>
<path d="M250.88 193.29h3.30L252.53 190.29z" fill="#1414FF"/>
<path d="M244.86 196.02h3.30L246.51 193.02z" fill="#1414FF"/>
<path d="M250.88 195.48h3.30L252.53 192.48z" fill="#1414FF"/>
<path d="M249.24 194.38h3.30L250.89 191.38z" fill="#1414FF"/>
<line x1="245.40" y1="188.50" x2="254.20" y2="188.50" stroke="#000" stroke-width="0.95"/>
<line x1="249.50" y1="186.00" x2="249.50" y2="191.00" stroke="#000" stroke-width="0.95"/>
<line x1="247.70" y1="186.50" x2="251.90" y2="186.50" stroke="#000" stroke-width="0.95"/>
<line x1="247.70" y1="190.50" x2="251.90" y2="190.50" stroke="#000" stroke-width="0.95"/>
<text class="s" x="196.00" y="143.46" font-size="5.8" font-weight="bold" text-anchor="middle" stroke="#000" stroke-width="0.1">****</text>
<text class="s" x="222.30" y="142.11" font-size="3.7" font-weight="bold" font-style="italic" text-anchor="middle" stroke="#000" stroke-width="0.1">####</text>
<text class="s" x="236.80" y="142.11" font-size="3.7" font-weight="bold" font-style="italic" text-anchor="middle" stroke="#000" stroke-width="0.1">####</text>
<text class="s" x="250.10" y="142.11" font-size="3.7" font-weight="bold" font-style="italic" text-anchor="middle" stroke="#000" stroke-width="0.1">####</text>
<text class="s" x="195.90" y="154.60" font-size="3.95" text-anchor="middle" stroke="#000" stroke-width="0.14">&lt;0.0001</text>
<text class="s" x="221.00" y="154.10" font-size="3.95" text-anchor="middle" stroke="#000" stroke-width="0.14">&lt;0.0001</text>
<text class="s" x="235.30" y="159.10" font-size="3.95" text-anchor="middle" stroke="#000" stroke-width="0.14">&lt;0.0001</text>
<text class="s" x="249.10" y="163.60" font-size="3.95" text-anchor="middle" stroke="#000" stroke-width="0.14">&lt;0.0001</text>
<text class="s" x="194.40" y="224.79" font-size="5.6" font-weight="bold" text-anchor="middle" stroke="#000" stroke-width="0.1">30</text>
<text class="s" x="208.20" y="224.79" font-size="5.6" font-weight="bold" text-anchor="middle" stroke="#000" stroke-width="0.1">30</text>
<text class="s" x="221.90" y="224.79" font-size="5.6" font-weight="bold" text-anchor="middle" stroke="#000" stroke-width="0.1">5</text>
<text class="s" x="236.10" y="224.79" font-size="5.6" font-weight="bold" text-anchor="middle" stroke="#000" stroke-width="0.1">15</text>
<text class="s" x="249.80" y="224.79" font-size="5.6" font-weight="bold" text-anchor="middle" stroke="#000" stroke-width="0.1">30</text>
<text class="s" x="259.90" y="224.79" font-size="5.6" stroke="#000" stroke-width="0.14">mg/kg</text>
<line x1="190.60" y1="227.30" x2="211.50" y2="227.30" stroke="#000" stroke-width="0.8"/>
<line x1="217.70" y1="227.30" x2="254.20" y2="227.30" stroke="#000" stroke-width="0.8"/>
<text class="s" x="200.70" y="235.11" font-size="5.1" text-anchor="middle" stroke="#000" stroke-width="0.14">Isotype ctrl.</text>
<text class="s" x="235.30" y="235.15" font-size="5.2" text-anchor="middle" stroke="#000" stroke-width="0.14">SOF10 (mFc)</text>
<line x1="204.30" y1="239.90" x2="254.20" y2="239.90" stroke="#000" stroke-width="0.8"/>
<line x1="204.30" y1="146.40" x2="254.20" y2="146.40" stroke="#000" stroke-width="0.8"/>
<text class="s" x="194.60" y="248.80" font-size="6.2" text-anchor="middle" stroke="#000" stroke-width="0.14">Sham</text>
<text class="s" x="230.30" y="248.84" font-size="6.3" text-anchor="middle" stroke="#000" stroke-width="0.14">UUO</text>
<text class="s" x="351.50" y="133.29" font-size="7" font-weight="bold" text-anchor="middle" stroke="#000" stroke-width="0.1"><tspan font-style="italic">Col3a1</tspan><tspan font-style="normal"> mRNA</tspan></text>
<line x1="314.40" y1="142.10" x2="314.40" y2="216.40" stroke="#000" stroke-width="1"/>
<line x1="313.90" y1="215.90" x2="387.90" y2="215.90" stroke="#000" stroke-width="1"/>
<line x1="311.20" y1="215.90" x2="314.40" y2="215.90" stroke="#000" stroke-width="0.9"/>
<text class="s" x="310.80" y="217.82" font-size="5.4" font-weight="bold" text-anchor="end" stroke="#000" stroke-width="0.1">0</text>
<line x1="311.20" y1="197.57" x2="314.40" y2="197.57" stroke="#000" stroke-width="0.9"/>
<text class="s" x="310.80" y="199.49" font-size="5.4" font-weight="bold" text-anchor="end" stroke="#000" stroke-width="0.1">5</text>
<line x1="311.20" y1="179.25" x2="314.40" y2="179.25" stroke="#000" stroke-width="0.9"/>
<text class="s" x="310.80" y="181.17" font-size="5.4" font-weight="bold" text-anchor="end" stroke="#000" stroke-width="0.1">10</text>
<line x1="311.20" y1="160.93" x2="314.40" y2="160.93" stroke="#000" stroke-width="0.9"/>
<text class="s" x="310.80" y="162.84" font-size="5.4" font-weight="bold" text-anchor="end" stroke="#000" stroke-width="0.1">15</text>
<line x1="311.20" y1="142.60" x2="314.40" y2="142.60" stroke="#000" stroke-width="0.9"/>
<text class="s" x="310.80" y="144.52" font-size="5.4" font-weight="bold" text-anchor="end" stroke="#000" stroke-width="0.1">20</text>
<text class="s" transform="translate(300.20,178.40) rotate(-90)" font-size="6.2" font-weight="bold" text-anchor="middle" stroke="#000" stroke-width="0.1">Relative expression to Sham</text>
<circle cx="320.21" cy="213.29" r="1.50" fill="#fff" stroke="#000" stroke-width="1.05"/>
<circle cx="322.40" cy="211.86" r="1.50" fill="#fff" stroke="#000" stroke-width="1.05"/>
<circle cx="324.59" cy="212.96" r="1.50" fill="#fff" stroke="#000" stroke-width="1.05"/>
<circle cx="326.78" cy="211.86" r="1.50" fill="#fff" stroke="#000" stroke-width="1.05"/>
<circle cx="321.64" cy="214.05" r="1.50" fill="#fff" stroke="#000" stroke-width="1.05"/>
<circle cx="337.40" cy="149.23" r="1.6" fill="#000"/>
<circle cx="336.31" cy="161.28" r="1.6" fill="#000"/>
<circle cx="338.28" cy="164.34" r="1.6" fill="#000"/>
<circle cx="336.31" cy="164.78" r="1.6" fill="#000"/>
<circle cx="334.99" cy="173.32" r="1.6" fill="#000"/>
<circle cx="337.73" cy="173.87" r="1.6" fill="#000"/>
<circle cx="340.69" cy="173.32" r="1.6" fill="#000"/>
<circle cx="334.45" cy="174.64" r="1.6" fill="#000"/>
<circle cx="340.47" cy="176.06" r="1.6" fill="#000"/>
<circle cx="337.40" cy="179.34" r="1.6" fill="#000"/>
<line x1="333.00" y1="169.50" x2="341.80" y2="169.50" stroke="#000" stroke-width="0.95"/>
<line x1="337.50" y1="166.00" x2="337.50" y2="172.00" stroke="#000" stroke-width="0.95"/>
<line x1="335.30" y1="166.50" x2="339.50" y2="166.50" stroke="#000" stroke-width="0.95"/>
<line x1="335.30" y1="171.50" x2="339.50" y2="171.50" stroke="#000" stroke-width="0.95"/>
<path d="M346.26 175.59h3.30L347.91 178.59z" fill="#93BDF5"/>
<path d="M348.13 176.35h3.30L349.78 179.35z" fill="#93BDF5"/>
<path d="M350.31 176.68h3.30L351.96 179.68z" fill="#93BDF5"/>
<path d="M352.50 176.35h3.30L354.15 179.35z" fill="#93BDF5"/>
<path d="M348.67 179.09h3.30L350.32 182.09z" fill="#93BDF5"/>
<path d="M347.03 185.66h3.30L348.68 188.66z" fill="#93BDF5"/>
<path d="M349.77 186.21h3.30L351.42 189.21z" fill="#93BDF5"/>
<path d="M348.13 187.30h3.30L349.78 190.30z" fill="#93BDF5"/>
<path d="M348.13 191.13h3.30L349.78 194.13z" fill="#93BDF5"/>
<path d="M350.86 190.59h3.30L352.51 193.59z" fill="#93BDF5"/>
<line x1="346.70" y1="184.50" x2="355.50" y2="184.50" stroke="#000" stroke-width="0.95"/>
<line x1="351.50" y1="182.00" x2="351.50" y2="187.00" stroke="#000" stroke-width="0.95"/>
<line x1="349.00" y1="182.50" x2="353.20" y2="182.50" stroke="#000" stroke-width="0.95"/>
<line x1="349.00" y1="186.50" x2="353.20" y2="186.50" stroke="#000" stroke-width="0.95"/>
<rect x="363.55" y="156.66" width="3.1" height="3.1" fill="#1E9BAA"/>
<rect x="363.55" y="169.04" width="3.1" height="3.1" fill="#1E9BAA"/>
<rect x="360.27" y="173.41" width="3.1" height="3.1" fill="#1E9BAA"/>
<rect x="363.55" y="175.60" width="3.1" height="3.1" fill="#1E9BAA"/>
<rect x="366.84" y="175.60" width="3.1" height="3.1" fill="#1E9BAA"/>
<rect x="360.27" y="176.15" width="3.1" height="3.1" fill="#1E9BAA"/>
<rect x="363.55" y="177.25" width="3.1" height="3.1" fill="#1E9BAA"/>
<rect x="363.55" y="184.36" width="3.1" height="3.1" fill="#1E9BAA"/>
<rect x="363.55" y="186.01" width="3.1" height="3.1" fill="#1E9BAA"/>
<rect x="363.55" y="187.87" width="3.1" height="3.1" fill="#1E9BAA"/>
<line x1="360.70" y1="176.50" x2="369.50" y2="176.50" stroke="#000" stroke-width="0.95"/>
<line x1="365.50" y1="174.00" x2="365.50" y2="180.00" stroke="#000" stroke-width="0.95"/>
<line x1="363.00" y1="174.50" x2="367.20" y2="174.50" stroke="#000" stroke-width="0.95"/>
<line x1="363.00" y1="179.50" x2="367.20" y2="179.50" stroke="#000" stroke-width="0.95"/>
<path d="M377.14 171.61h3.30L378.79 168.61z" fill="#1414FF"/>
<path d="M373.86 175.22h3.30L375.51 172.22z" fill="#1414FF"/>
<path d="M379.88 177.96h3.30L381.53 174.96z" fill="#1414FF"/>
<path d="M377.14 178.50h3.30L378.79 175.50z" fill="#1414FF"/>
<path d="M373.86 180.15h3.30L375.51 177.15z" fill="#1414FF"/>
<path d="M377.14 182.34h3.30L378.79 179.34z" fill="#1414FF"/>
<path d="M380.43 182.88h3.30L382.08 179.88z" fill="#1414FF"/>
<path d="M373.86 183.98h3.30L375.51 180.98z" fill="#1414FF"/>
<path d="M373.86 187.26h3.30L375.51 184.26z" fill="#1414FF"/>
<path d="M377.14 186.72h3.30L378.79 183.72z" fill="#1414FF"/>
<path d="M380.43 186.94h3.30L382.08 183.94z" fill="#1414FF"/>
<path d="M373.86 188.36h3.30L375.51 185.36z" fill="#1414FF"/>
<line x1="374.40" y1="179.50" x2="383.20" y2="179.50" stroke="#000" stroke-width="0.95"/>
<line x1="378.50" y1="178.00" x2="378.50" y2="182.00" stroke="#000" stroke-width="0.95"/>
<line x1="376.70" y1="178.50" x2="380.90" y2="178.50" stroke="#000" stroke-width="0.95"/>
<line x1="376.70" y1="181.50" x2="380.90" y2="181.50" stroke="#000" stroke-width="0.95"/>
<text class="s" x="325.10" y="143.46" font-size="5.8" font-weight="bold" text-anchor="middle" stroke="#000" stroke-width="0.1">****</text>
<text class="s" x="351.00" y="142.11" font-size="3.7" font-weight="bold" font-style="italic" text-anchor="middle" stroke="#000" stroke-width="0.1">###</text>
<text class="s" x="379.60" y="142.11" font-size="3.7" font-weight="bold" font-style="italic" text-anchor="middle" stroke="#000" stroke-width="0.1">##</text>
<text class="s" x="324.40" y="152.30" font-size="4.5" text-anchor="middle" stroke="#000" stroke-width="0.14">&lt;0.0001</text>
<text class="s" x="351.50" y="152.30" font-size="4.5" text-anchor="middle" stroke="#000" stroke-width="0.14">0.0001</text>
<text class="s" x="379.60" y="152.30" font-size="4.5" text-anchor="middle" stroke="#000" stroke-width="0.14">0.0059</text>
<text class="s" x="323.40" y="224.79" font-size="5.6" font-weight="bold" text-anchor="middle" stroke="#000" stroke-width="0.1">30</text>
<text class="s" x="337.40" y="224.79" font-size="5.6" font-weight="bold" text-anchor="middle" stroke="#000" stroke-width="0.1">30</text>
<text class="s" x="351.10" y="224.79" font-size="5.6" font-weight="bold" text-anchor="middle" stroke="#000" stroke-width="0.1">5</text>
<text class="s" x="365.10" y="224.79" font-size="5.6" font-weight="bold" text-anchor="middle" stroke="#000" stroke-width="0.1">15</text>
<text class="s" x="378.80" y="224.79" font-size="5.6" font-weight="bold" text-anchor="middle" stroke="#000" stroke-width="0.1">30</text>
<text class="s" x="389.20" y="224.79" font-size="5.6" stroke="#000" stroke-width="0.14">mg/kg</text>
<line x1="319.60" y1="227.30" x2="340.70" y2="227.30" stroke="#000" stroke-width="0.8"/>
<line x1="347.00" y1="227.30" x2="383.40" y2="227.30" stroke="#000" stroke-width="0.8"/>
<text class="s" x="329.80" y="235.11" font-size="5.1" text-anchor="middle" stroke="#000" stroke-width="0.14">Isotype ctrl.</text>
<text class="s" x="364.40" y="235.15" font-size="5.2" text-anchor="middle" stroke="#000" stroke-width="0.14">SOF10 (mFc)</text>
<line x1="332.50" y1="239.90" x2="383.40" y2="239.90" stroke="#000" stroke-width="0.8"/>
<line x1="332.50" y1="146.40" x2="383.40" y2="146.40" stroke="#000" stroke-width="0.8"/>
<text class="s" x="323.60" y="248.80" font-size="6.2" text-anchor="middle" stroke="#000" stroke-width="0.14">Sham</text>
<text class="s" x="359.50" y="248.84" font-size="6.3" text-anchor="middle" stroke="#000" stroke-width="0.14">UUO</text>
<text class="s" x="490.30" y="133.29" font-size="7" font-weight="bold" text-anchor="middle" stroke="#000" stroke-width="0.1"><tspan font-style="normal">Hydroxyproline</tspan></text>
<line x1="452.90" y1="142.10" x2="452.90" y2="216.40" stroke="#000" stroke-width="1"/>
<line x1="452.40" y1="215.90" x2="527.50" y2="215.90" stroke="#000" stroke-width="1"/>
<line x1="449.70" y1="215.90" x2="452.90" y2="215.90" stroke="#000" stroke-width="0.9"/>
<text class="s" x="449.30" y="217.82" font-size="5.4" font-weight="bold" text-anchor="end" stroke="#000" stroke-width="0.1">0</text>
<line x1="449.70" y1="191.47" x2="452.90" y2="191.47" stroke="#000" stroke-width="0.9"/>
<text class="s" x="449.30" y="193.38" font-size="5.4" font-weight="bold" text-anchor="end" stroke="#000" stroke-width="0.1">5000</text>
<line x1="449.70" y1="167.03" x2="452.90" y2="167.03" stroke="#000" stroke-width="0.9"/>
<text class="s" x="449.30" y="168.95" font-size="5.4" font-weight="bold" text-anchor="end" stroke="#000" stroke-width="0.1">10000</text>
<line x1="449.70" y1="142.60" x2="452.90" y2="142.60" stroke="#000" stroke-width="0.9"/>
<text class="s" x="449.30" y="144.52" font-size="5.4" font-weight="bold" text-anchor="end" stroke="#000" stroke-width="0.1">15000</text>
<text class="s" transform="translate(430.48,179.00) rotate(-90)" font-size="6.15" font-weight="bold" text-anchor="middle" stroke="#000" stroke-width="0.1">µg/g dry tissue</text>
<circle cx="459.21" cy="198.51" r="1.50" fill="#fff" stroke="#000" stroke-width="1.05"/>
<circle cx="461.95" cy="199.05" r="1.50" fill="#fff" stroke="#000" stroke-width="1.05"/>
<circle cx="464.14" cy="199.60" r="1.50" fill="#fff" stroke="#000" stroke-width="1.05"/>
<circle cx="466.33" cy="199.60" r="1.50" fill="#fff" stroke="#000" stroke-width="1.05"/>
<circle cx="459.21" cy="201.79" r="1.50" fill="#fff" stroke="#000" stroke-width="1.05"/>
<circle cx="476.40" cy="166.53" r="1.6" fill="#000"/>
<circle cx="473.45" cy="170.26" r="1.6" fill="#000"/>
<circle cx="476.40" cy="170.91" r="1.6" fill="#000"/>
<circle cx="479.69" cy="173.32" r="1.6" fill="#000"/>
<circle cx="473.99" cy="173.54" r="1.6" fill="#000"/>
<circle cx="476.73" cy="174.96" r="1.6" fill="#000"/>
<circle cx="473.45" cy="177.15" r="1.6" fill="#000"/>
<circle cx="476.40" cy="177.15" r="1.6" fill="#000"/>
<circle cx="479.69" cy="177.15" r="1.6" fill="#000"/>
<circle cx="477.83" cy="185.91" r="1.6" fill="#000"/>
<circle cx="474.54" cy="188.32" r="1.6" fill="#000"/>
<line x1="472.00" y1="174.50" x2="480.80" y2="174.50" stroke="#000" stroke-width="0.95"/>
<line x1="476.50" y1="172.00" x2="476.50" y2="177.00" stroke="#000" stroke-width="0.95"/>
<line x1="474.30" y1="172.50" x2="478.50" y2="172.50" stroke="#000" stroke-width="0.95"/>
<line x1="474.30" y1="176.50" x2="478.50" y2="176.50" stroke="#000" stroke-width="0.95"/>
<path d="M487.13 181.83h3.30L488.78 184.83z" fill="#93BDF5"/>
<path d="M489.86 182.37h3.30L491.51 185.37z" fill="#93BDF5"/>
<path d="M485.48 186.21h3.30L487.13 189.21z" fill="#93BDF5"/>
<path d="M488.22 185.66h3.30L489.87 188.66z" fill="#93BDF5"/>
<path d="M491.50 186.21h3.30L493.15 189.21z" fill="#93BDF5"/>
<path d="M487.13 187.85h3.30L488.78 190.85z" fill="#93BDF5"/>
<path d="M489.86 188.40h3.30L491.51 191.40z" fill="#93BDF5"/>
<path d="M488.22 190.59h3.30L489.87 193.59z" fill="#93BDF5"/>
<path d="M488.22 193.32h3.30L489.87 196.32z" fill="#93BDF5"/>
<line x1="485.70" y1="188.50" x2="494.50" y2="188.50" stroke="#000" stroke-width="0.95"/>
<line x1="490.50" y1="187.00" x2="490.50" y2="190.00" stroke="#000" stroke-width="0.95"/>
<line x1="488.00" y1="187.50" x2="492.20" y2="187.50" stroke="#000" stroke-width="0.95"/>
<line x1="488.00" y1="189.50" x2="492.20" y2="189.50" stroke="#000" stroke-width="0.95"/>
<rect x="502.55" y="181.30" width="3.1" height="3.1" fill="#1E9BAA"/>
<rect x="499.82" y="184.36" width="3.1" height="3.1" fill="#1E9BAA"/>
<rect x="502.55" y="183.82" width="3.1" height="3.1" fill="#1E9BAA"/>
<rect x="505.51" y="184.36" width="3.1" height="3.1" fill="#1E9BAA"/>
<rect x="499.82" y="187.10" width="3.1" height="3.1" fill="#1E9BAA"/>
<rect x="505.29" y="187.10" width="3.1" height="3.1" fill="#1E9BAA"/>
<rect x="502.55" y="188.74" width="3.1" height="3.1" fill="#1E9BAA"/>
<rect x="503.65" y="194.77" width="3.1" height="3.1" fill="#1E9BAA"/>
<rect x="501.46" y="195.86" width="3.1" height="3.1" fill="#1E9BAA"/>
<line x1="499.70" y1="188.50" x2="508.50" y2="188.50" stroke="#000" stroke-width="0.95"/>
<line x1="504.50" y1="187.00" x2="504.50" y2="190.00" stroke="#000" stroke-width="0.95"/>
<line x1="502.00" y1="187.50" x2="506.20" y2="187.50" stroke="#000" stroke-width="0.95"/>
<line x1="502.00" y1="189.50" x2="506.20" y2="189.50" stroke="#000" stroke-width="0.95"/>
<path d="M516.36 184.20h3.30L518.01 181.20z" fill="#1414FF"/>
<path d="M513.40 185.07h3.30L515.05 182.07z" fill="#1414FF"/>
<path d="M519.43 185.07h3.30L521.08 182.07z" fill="#1414FF"/>
<path d="M513.40 187.59h3.30L515.05 184.59z" fill="#1414FF"/>
<path d="M516.36 187.81h3.30L518.01 184.81z" fill="#1414FF"/>
<path d="M519.43 187.59h3.30L521.08 184.59z" fill="#1414FF"/>
<path d="M513.40 190.00h3.30L515.05 187.00z" fill="#1414FF"/>
<path d="M519.43 190.00h3.30L521.08 187.00z" fill="#1414FF"/>
<path d="M516.36 191.10h3.30L518.01 188.10z" fill="#1414FF"/>
<path d="M516.36 196.02h3.30L518.01 193.02z" fill="#1414FF"/>
<line x1="513.60" y1="186.50" x2="522.40" y2="186.50" stroke="#000" stroke-width="0.95"/>
<line x1="518.50" y1="185.00" x2="518.50" y2="188.00" stroke="#000" stroke-width="0.95"/>
<line x1="515.90" y1="185.50" x2="520.10" y2="185.50" stroke="#000" stroke-width="0.95"/>
<line x1="515.90" y1="187.50" x2="520.10" y2="187.50" stroke="#000" stroke-width="0.95"/>
<text class="s" x="463.90" y="143.46" font-size="5.8" font-weight="bold" text-anchor="middle" stroke="#000" stroke-width="0.1">****</text>
<text class="s" x="490.80" y="142.11" font-size="3.7" font-weight="bold" font-style="italic" text-anchor="middle" stroke="#000" stroke-width="0.1">####</text>
<text class="s" x="505.40" y="142.11" font-size="3.7" font-weight="bold" font-style="italic" text-anchor="middle" stroke="#000" stroke-width="0.1">####</text>
<text class="s" x="518.70" y="142.11" font-size="3.7" font-weight="bold" font-style="italic" text-anchor="middle" stroke="#000" stroke-width="0.1">####</text>
<text class="s" x="464.00" y="154.50" font-size="3.95" text-anchor="middle" stroke="#000" stroke-width="0.14">&lt;0.0001</text>
<text class="s" x="489.20" y="154.50" font-size="3.95" text-anchor="middle" stroke="#000" stroke-width="0.14">&lt;0.0001</text>
<text class="s" x="503.30" y="159.20" font-size="3.95" text-anchor="middle" stroke="#000" stroke-width="0.14">&lt;0.0001</text>
<text class="s" x="517.30" y="163.80" font-size="3.95" text-anchor="middle" stroke="#000" stroke-width="0.14">&lt;0.0001</text>
<text class="s" x="462.70" y="224.79" font-size="5.6" font-weight="bold" text-anchor="middle" stroke="#000" stroke-width="0.1">30</text>
<text class="s" x="476.40" y="224.79" font-size="5.6" font-weight="bold" text-anchor="middle" stroke="#000" stroke-width="0.1">30</text>
<text class="s" x="490.10" y="224.79" font-size="5.6" font-weight="bold" text-anchor="middle" stroke="#000" stroke-width="0.1">5</text>
<text class="s" x="504.10" y="224.79" font-size="5.6" font-weight="bold" text-anchor="middle" stroke="#000" stroke-width="0.1">15</text>
<text class="s" x="518.00" y="224.79" font-size="5.6" font-weight="bold" text-anchor="middle" stroke="#000" stroke-width="0.1">30</text>
<text class="s" x="528.50" y="224.79" font-size="5.6" stroke="#000" stroke-width="0.14">mg/kg</text>
<line x1="458.90" y1="227.30" x2="479.80" y2="227.30" stroke="#000" stroke-width="0.8"/>
<line x1="486.00" y1="227.30" x2="522.40" y2="227.30" stroke="#000" stroke-width="0.8"/>
<text class="s" x="469.00" y="235.11" font-size="5.1" text-anchor="middle" stroke="#000" stroke-width="0.14">Isotype ctrl.</text>
<text class="s" x="504.10" y="235.15" font-size="5.2" text-anchor="middle" stroke="#000" stroke-width="0.14">SOF10 (mFc)</text>
<line x1="471.40" y1="239.90" x2="521.80" y2="239.90" stroke="#000" stroke-width="0.8"/>
<line x1="471.40" y1="146.40" x2="521.80" y2="146.40" stroke="#000" stroke-width="0.8"/>
<text class="s" x="462.70" y="248.80" font-size="6.2" text-anchor="middle" stroke="#000" stroke-width="0.14">Sham</text>
<text class="s" x="498.30" y="248.84" font-size="6.3" text-anchor="middle" stroke="#000" stroke-width="0.14">UUO</text>
<text class="r" x="0.50" y="294.50" font-size="24.6">c)</text>
<text class="r" x="25.50" y="294.50" font-size="18.2">Experimental design</text>
<text class="r" x="37.10" y="320.20" font-size="10" text-anchor="middle" textLength="28.4" lengthAdjust="spacingAndGlyphs">Wk13</text>
<text class="r" x="102.78" y="320.20" font-size="10" text-anchor="middle" textLength="28.4" lengthAdjust="spacingAndGlyphs">Wk14</text>
<text class="r" x="168.46" y="320.20" font-size="10" text-anchor="middle" textLength="28.4" lengthAdjust="spacingAndGlyphs">Wk15</text>
<text class="r" x="234.14" y="320.20" font-size="10" text-anchor="middle" textLength="28.4" lengthAdjust="spacingAndGlyphs">Wk16</text>
<text class="r" x="299.82" y="320.20" font-size="10" text-anchor="middle" textLength="28.4" lengthAdjust="spacingAndGlyphs">Wk17</text>
<text class="r" x="365.50" y="320.20" font-size="10" text-anchor="middle" textLength="28.4" lengthAdjust="spacingAndGlyphs">Wk18</text>
<text class="r" x="431.18" y="320.20" font-size="10" text-anchor="middle" textLength="28.4" lengthAdjust="spacingAndGlyphs">Wk19</text>
<text class="r" x="496.86" y="320.20" font-size="10" text-anchor="middle" textLength="28.4" lengthAdjust="spacingAndGlyphs">Wk20</text>
<text class="r" x="562.54" y="320.20" font-size="10" text-anchor="middle" textLength="28.4" lengthAdjust="spacingAndGlyphs">Wk21</text>
<line x1="36.80" y1="336.30" x2="562.24" y2="336.30" stroke="#000" stroke-width="3.1"/>
<line x1="36.80" y1="328.20" x2="36.80" y2="344.60" stroke="#000" stroke-width="3.1"/>
<line x1="102.48" y1="328.20" x2="102.48" y2="344.60" stroke="#000" stroke-width="3.1"/>
<line x1="168.16" y1="328.20" x2="168.16" y2="344.60" stroke="#000" stroke-width="3.1"/>
<line x1="233.84" y1="328.20" x2="233.84" y2="344.60" stroke="#000" stroke-width="3.1"/>
<line x1="299.52" y1="328.20" x2="299.52" y2="344.60" stroke="#000" stroke-width="3.1"/>
<line x1="365.20" y1="328.20" x2="365.20" y2="344.60" stroke="#000" stroke-width="3.1"/>
<line x1="430.88" y1="328.20" x2="430.88" y2="344.60" stroke="#000" stroke-width="3.1"/>
<line x1="496.56" y1="328.20" x2="496.56" y2="344.60" stroke="#000" stroke-width="3.1"/>
<line x1="562.24" y1="328.20" x2="562.24" y2="344.60" stroke="#000" stroke-width="3.1"/>
<rect x="102.8" y="339.7" width="459.8" height="11.6" rx="5.8" fill="#7F7F7F"/>
<text class="r" x="333.00" y="349.20" font-size="10.2" font-weight="bold" text-anchor="middle" fill="#fff" textLength="148.5" lengthAdjust="spacingAndGlyphs">Antibody s.c. (twice / week)</text>
<g transform="translate(36.80,359.50) rotate(-40) scale(0.74,0.888)"><path d="M-7.3 0.3 L-2.6 -1.0 L-1.0 -1.6 L5.4 -1.8 Q7.5 -1.5 7.3 0 Q7.5 1.5 5.4 1.8 L-1.0 1.4 L-2.6 0.8 Z" fill="#FF1A1A"/><path d="M3.0 -1.8v1.4M4.7 -1.8v1.4M3.8 1.8v-1.2" stroke="#fff" stroke-width="0.5" fill="none"/></g>
<g transform="translate(52.40,359.30) scale(1.3125,1.05)"><path d="M0 -3.2 C0.7 -1.8 2.15 -0.3 2.15 1.0 A2.15 2.2 0 0 1 -2.15 1.0 C-2.15 -0.3 -0.7 -1.8 0 -3.2Z" fill="#FFB400"/></g>
<g transform="translate(96.20,359.50) rotate(-40) scale(0.74,0.888)"><path d="M-7.3 0.3 L-2.6 -1.0 L-1.0 -1.6 L5.4 -1.8 Q7.5 -1.5 7.3 0 Q7.5 1.5 5.4 1.8 L-1.0 1.4 L-2.6 0.8 Z" fill="#FF1A1A"/><path d="M3.0 -1.8v1.4M4.7 -1.8v1.4M3.8 1.8v-1.2" stroke="#fff" stroke-width="0.5" fill="none"/></g>
<g transform="translate(112.40,359.30) scale(1.3125,1.05)"><path d="M0 -3.2 C0.7 -1.8 2.15 -0.3 2.15 1.0 A2.15 2.2 0 0 1 -2.15 1.0 C-2.15 -0.3 -0.7 -1.8 0 -3.2Z" fill="#FFB400"/></g>
<g transform="translate(228.30,359.50) rotate(-40) scale(0.74,0.888)"><path d="M-7.3 0.3 L-2.6 -1.0 L-1.0 -1.6 L5.4 -1.8 Q7.5 -1.5 7.3 0 Q7.5 1.5 5.4 1.8 L-1.0 1.4 L-2.6 0.8 Z" fill="#FF1A1A"/><path d="M3.0 -1.8v1.4M4.7 -1.8v1.4M3.8 1.8v-1.2" stroke="#fff" stroke-width="0.5" fill="none"/></g>
<g transform="translate(244.20,359.30) scale(1.3125,1.05)"><path d="M0 -3.2 C0.7 -1.8 2.15 -0.3 2.15 1.0 A2.15 2.2 0 0 1 -2.15 1.0 C-2.15 -0.3 -0.7 -1.8 0 -3.2Z" fill="#FFB400"/></g>
<g transform="translate(358.50,359.50) rotate(-40) scale(0.74,0.888)"><path d="M-7.3 0.3 L-2.6 -1.0 L-1.0 -1.6 L5.4 -1.8 Q7.5 -1.5 7.3 0 Q7.5 1.5 5.4 1.8 L-1.0 1.4 L-2.6 0.8 Z" fill="#FF1A1A"/><path d="M3.0 -1.8v1.4M4.7 -1.8v1.4M3.8 1.8v-1.2" stroke="#fff" stroke-width="0.5" fill="none"/></g>
<g transform="translate(374.60,359.30) scale(1.3125,1.05)"><path d="M0 -3.2 C0.7 -1.8 2.15 -0.3 2.15 1.0 A2.15 2.2 0 0 1 -2.15 1.0 C-2.15 -0.3 -0.7 -1.8 0 -3.2Z" fill="#FFB400"/></g>
<g transform="translate(489.10,359.50) rotate(-40) scale(0.74,0.888)"><path d="M-7.3 0.3 L-2.6 -1.0 L-1.0 -1.6 L5.4 -1.8 Q7.5 -1.5 7.3 0 Q7.5 1.5 5.4 1.8 L-1.0 1.4 L-2.6 0.8 Z" fill="#FF1A1A"/><path d="M3.0 -1.8v1.4M4.7 -1.8v1.4M3.8 1.8v-1.2" stroke="#fff" stroke-width="0.5" fill="none"/></g>
<g transform="translate(505.00,359.30) scale(1.3125,1.05)"><path d="M0 -3.2 C0.7 -1.8 2.15 -0.3 2.15 1.0 A2.15 2.2 0 0 1 -2.15 1.0 C-2.15 -0.3 -0.7 -1.8 0 -3.2Z" fill="#FFB400"/></g>
<g transform="translate(562.70,359.40) rotate(-40) scale(0.74,0.888)"><path d="M-7.3 0.3 L-2.6 -1.0 L-1.0 -1.6 L5.4 -1.8 Q7.5 -1.5 7.3 0 Q7.5 1.5 5.4 1.8 L-1.0 1.4 L-2.6 0.8 Z" fill="#FF1A1A"/><path d="M3.0 -1.8v1.4M4.7 -1.8v1.4M3.8 1.8v-1.2" stroke="#fff" stroke-width="0.5" fill="none"/></g>
<g transform="translate(562.90,371.80) scale(0.7)"><path d="M-1.5 -3.7 C-4.3 -4.3 -5.3 -1.5 -4.9 0.7 C-4.5 2.9 -2.5 4.0 -1.5 2.7 C-0.9 1.8 -1.6 1.0 -1.6 -0.3 C-1.6 -1.6 -0.6 -2.7 -1.5 -3.7Z" fill="#000"/><path d="M1.5 -3.7 C4.3 -4.3 5.3 -1.5 4.9 0.7 C4.5 2.9 2.5 4.0 1.5 2.7 C0.9 1.8 1.6 1.0 1.6 -0.3 C1.6 -1.6 0.6 -2.7 1.5 -3.7Z" fill="#000"/><path d="M-0.55 0.3v3.7M0.55 0.3v3.7" stroke="#000" stroke-width="0.6"/></g>
<path d="M47 376.7 L58.9 376.7 L52.95 366.9 Z" fill="#1F5CAA"/>
<text class="r" x="10.60" y="392.00" font-size="10.3" textLength="84.4" lengthAdjust="spacingAndGlyphs">Randomization</text>
<g transform="translate(595.90,318.60) rotate(-47) scale(1.0,1.0)"><path d="M-7.3 0.3 L-2.6 -1.0 L-1.0 -1.6 L5.4 -1.8 Q7.5 -1.5 7.3 0 Q7.5 1.5 5.4 1.8 L-1.0 1.4 L-2.6 0.8 Z" fill="#FF1A1A"/><path d="M3.0 -1.8v1.4M4.7 -1.8v1.4M3.8 1.8v-1.2" stroke="#fff" stroke-width="0.5" fill="none"/></g>
<g transform="translate(596.20,338.20) scale(1.52,1.52)"><path d="M0 -3.2 C0.7 -1.8 2.15 -0.3 2.15 1.0 A2.15 2.2 0 0 1 -2.15 1.0 C-2.15 -0.3 -0.7 -1.8 0 -3.2Z" fill="#FFB400"/></g>
<g transform="translate(596.20,356.70) scale(1.03)"><path d="M-1.5 -3.7 C-4.3 -4.3 -5.3 -1.5 -4.9 0.7 C-4.5 2.9 -2.5 4.0 -1.5 2.7 C-0.9 1.8 -1.6 1.0 -1.6 -0.3 C-1.6 -1.6 -0.6 -2.7 -1.5 -3.7Z" fill="#000"/><path d="M1.5 -3.7 C4.3 -4.3 5.3 -1.5 4.9 0.7 C4.5 2.9 2.5 4.0 1.5 2.7 C0.9 1.8 1.6 1.0 1.6 -0.3 C1.6 -1.6 0.6 -2.7 1.5 -3.7Z" fill="#000"/><path d="M-0.55 0.3v3.7M0.55 0.3v3.7" stroke="#000" stroke-width="0.6"/></g>
<text class="r" x="619.90" y="322.30" font-size="11.2" textLength="64.4" lengthAdjust="spacingAndGlyphs">Blood collection</text>
<text class="r" x="619.90" y="342.10" font-size="11.2" textLength="62.8" lengthAdjust="spacingAndGlyphs">Urine collection</text>
<text class="r" x="619.90" y="360.90" font-size="11.2" textLength="33.8" lengthAdjust="spacingAndGlyphs">Sacrifice</text>
<text class="r" x="0.40" y="433.60" font-size="24.6">d)</text>
<text class="s" x="110.50" y="424.49" font-size="7.0" font-weight="bold" text-anchor="middle" stroke="#000" stroke-width="0.1">Creatinine</text>
<line x1="59.50" y1="437.30" x2="59.50" y2="512.50" stroke="#000" stroke-width="1.0"/>
<line x1="59.00" y1="512.00" x2="162.00" y2="512.00" stroke="#000" stroke-width="1.0"/>
<line x1="56.50" y1="512.00" x2="59.50" y2="512.00" stroke="#000" stroke-width="0.9"/>
<text class="s" x="56.00" y="513.99" font-size="5.6" font-weight="bold" text-anchor="end" stroke="#000" stroke-width="0.1">0.0</text>
<line x1="56.50" y1="487.27" x2="59.50" y2="487.27" stroke="#000" stroke-width="0.9"/>
<text class="s" x="56.00" y="489.25" font-size="5.6" font-weight="bold" text-anchor="end" stroke="#000" stroke-width="0.1">0.5</text>
<line x1="56.50" y1="462.53" x2="59.50" y2="462.53" stroke="#000" stroke-width="0.9"/>
<text class="s" x="56.00" y="464.52" font-size="5.6" font-weight="bold" text-anchor="end" stroke="#000" stroke-width="0.1">1.0</text>
<line x1="56.50" y1="437.80" x2="59.50" y2="437.80" stroke="#000" stroke-width="0.9"/>
<text class="s" x="56.00" y="439.79" font-size="5.6" font-weight="bold" text-anchor="end" stroke="#000" stroke-width="0.1">1.5</text>
<text class="s" transform="translate(41.79,475.30) rotate(-90)" font-size="5.9" font-weight="bold" text-anchor="middle" stroke="#000" stroke-width="0.1">mg/dL</text>
<circle cx="71.55" cy="508.46" r="1.35" fill="#fff" stroke="#000" stroke-width="1.05"/>
<circle cx="77.33" cy="507.96" r="1.35" fill="#fff" stroke="#000" stroke-width="1.05"/>
<circle cx="82.85" cy="508.46" r="1.35" fill="#fff" stroke="#000" stroke-width="1.05"/>
<circle cx="88.63" cy="508.21" r="1.35" fill="#fff" stroke="#000" stroke-width="1.05"/>
<line x1="69.80" y1="508.50" x2="90.80" y2="508.50" stroke="#000" stroke-width="0.95"/>
<circle cx="110.47" cy="462.01" r="1.75" fill="#000"/>
<circle cx="116.75" cy="480.34" r="1.75" fill="#000"/>
<circle cx="104.19" cy="482.35" r="1.75" fill="#000"/>
<circle cx="110.47" cy="483.35" r="1.75" fill="#000"/>
<circle cx="112.98" cy="487.12" r="1.75" fill="#000"/>
<circle cx="104.95" cy="490.38" r="1.75" fill="#000"/>
<circle cx="115.99" cy="490.89" r="1.75" fill="#000"/>
<circle cx="110.47" cy="493.40" r="1.75" fill="#000"/>
<circle cx="116.24" cy="495.91" r="1.75" fill="#000"/>
<circle cx="104.95" cy="499.17" r="1.75" fill="#000"/>
<circle cx="107.46" cy="501.68" r="1.75" fill="#000"/>
<circle cx="112.98" cy="501.68" r="1.75" fill="#000"/>
<line x1="100.00" y1="488.50" x2="121.00" y2="488.50" stroke="#000" stroke-width="0.95"/>
<line x1="110.50" y1="485.00" x2="110.50" y2="492.00" stroke="#000" stroke-width="0.95"/>
<line x1="106.80" y1="485.50" x2="114.20" y2="485.50" stroke="#000" stroke-width="0.95"/>
<line x1="106.80" y1="491.50" x2="114.20" y2="491.50" stroke="#000" stroke-width="0.95"/>
<circle cx="141.35" cy="480.84" r="1.75" fill="#0A14FF"/>
<circle cx="141.85" cy="494.65" r="1.75" fill="#0A14FF"/>
<circle cx="132.56" cy="499.67" r="1.75" fill="#0A14FF"/>
<circle cx="135.58" cy="498.42" r="1.75" fill="#0A14FF"/>
<circle cx="138.59" cy="500.43" r="1.75" fill="#0A14FF"/>
<circle cx="144.36" cy="499.92" r="1.75" fill="#0A14FF"/>
<circle cx="147.63" cy="499.17" r="1.75" fill="#0A14FF"/>
<circle cx="150.14" cy="499.92" r="1.75" fill="#0A14FF"/>
<circle cx="136.83" cy="501.68" r="1.75" fill="#0A14FF"/>
<circle cx="140.60" cy="502.94" r="1.75" fill="#0A14FF"/>
<circle cx="144.36" cy="501.68" r="1.75" fill="#0A14FF"/>
<circle cx="140.60" cy="504.19" r="1.75" fill="#0A14FF"/>
<circle cx="148.13" cy="500.93" r="1.75" fill="#0A14FF"/>
<line x1="130.60" y1="498.50" x2="151.60" y2="498.50" stroke="#000" stroke-width="0.95"/>
<line x1="141.50" y1="496.00" x2="141.50" y2="501.00" stroke="#000" stroke-width="0.95"/>
<line x1="137.40" y1="496.50" x2="144.80" y2="496.50" stroke="#000" stroke-width="0.95"/>
<line x1="137.40" y1="500.50" x2="144.80" y2="500.50" stroke="#000" stroke-width="0.95"/>
<text class="s" x="81.60" y="444.43" font-size="5.15" text-anchor="middle" stroke="#000" stroke-width="0.14">0.0033</text>
<text class="s" x="80.90" y="453.49" font-size="5.9" font-weight="bold" text-anchor="middle" stroke="#000" stroke-width="0.1">**</text>
<text class="s" x="141.40" y="444.43" font-size="5.15" text-anchor="middle" stroke="#000" stroke-width="0.14">0.0061</text>
<text class="s" x="142.60" y="453.49" font-size="5.9" font-weight="bold" text-anchor="middle" stroke="#000" stroke-width="0.1">**</text>
<text class="s" x="80.30" y="520.99" font-size="5.6" font-weight="bold" text-anchor="middle" stroke="#000" stroke-width="0.1">Ve</text>
<text class="s" x="110.50" y="520.99" font-size="5.6" font-weight="bold" text-anchor="middle" stroke="#000" stroke-width="0.1">Isotype</text>
<text class="s" x="110.50" y="526.79" font-size="5.6" font-weight="bold" text-anchor="middle" stroke="#000" stroke-width="0.1">ctrl.</text>
<text class="s" x="141.10" y="520.99" font-size="5.6" font-weight="bold" text-anchor="middle" stroke="#000" stroke-width="0.1">SOF10</text>
<text class="s" x="141.10" y="526.79" font-size="5.6" font-weight="bold" text-anchor="middle" stroke="#000" stroke-width="0.1">(mFc)</text>
<line x1="99.20" y1="532.40" x2="150.60" y2="532.40" stroke="#000" stroke-width="0.8"/>
<text class="s" x="80.30" y="540.84" font-size="6.3" text-anchor="middle" stroke="#000" stroke-width="0.14">Wild type</text>
<text class="s" x="124.80" y="540.84" font-size="6.3" text-anchor="middle" stroke="#000" stroke-width="0.14">Col4A3 KO</text>
<text class="s" x="277.50" y="424.49" font-size="7.0" font-weight="bold" text-anchor="middle" stroke="#000" stroke-width="0.1">BUN</text>
<line x1="226.50" y1="437.20" x2="226.50" y2="512.00" stroke="#000" stroke-width="1.0"/>
<line x1="226.00" y1="511.50" x2="329.00" y2="511.50" stroke="#000" stroke-width="1.0"/>
<line x1="223.50" y1="511.50" x2="226.50" y2="511.50" stroke="#000" stroke-width="0.9"/>
<text class="s" x="223.00" y="513.49" font-size="5.6" font-weight="bold" text-anchor="end" stroke="#000" stroke-width="0.1">0</text>
<line x1="223.50" y1="493.05" x2="226.50" y2="493.05" stroke="#000" stroke-width="0.9"/>
<text class="s" x="223.00" y="495.04" font-size="5.6" font-weight="bold" text-anchor="end" stroke="#000" stroke-width="0.1">50</text>
<line x1="223.50" y1="474.60" x2="226.50" y2="474.60" stroke="#000" stroke-width="0.9"/>
<text class="s" x="223.00" y="476.59" font-size="5.6" font-weight="bold" text-anchor="end" stroke="#000" stroke-width="0.1">100</text>
<line x1="223.50" y1="456.15" x2="226.50" y2="456.15" stroke="#000" stroke-width="0.9"/>
<text class="s" x="223.00" y="458.14" font-size="5.6" font-weight="bold" text-anchor="end" stroke="#000" stroke-width="0.1">150</text>
<line x1="223.50" y1="437.70" x2="226.50" y2="437.70" stroke="#000" stroke-width="0.9"/>
<text class="s" x="223.00" y="439.69" font-size="5.6" font-weight="bold" text-anchor="end" stroke="#000" stroke-width="0.1">200</text>
<text class="s" transform="translate(207.49,476.60) rotate(-90)" font-size="5.9" font-weight="bold" text-anchor="middle" stroke="#000" stroke-width="0.1">mg/dL</text>
<circle cx="238.27" cy="501.98" r="1.35" fill="#fff" stroke="#000" stroke-width="1.05"/>
<circle cx="244.09" cy="499.84" r="1.35" fill="#fff" stroke="#000" stroke-width="1.05"/>
<circle cx="249.92" cy="501.22" r="1.35" fill="#fff" stroke="#000" stroke-width="1.05"/>
<circle cx="255.59" cy="500.60" r="1.35" fill="#fff" stroke="#000" stroke-width="1.05"/>
<line x1="236.80" y1="500.50" x2="257.80" y2="500.50" stroke="#000" stroke-width="0.95"/>
<circle cx="277.36" cy="446.50" r="1.75" fill="#000"/>
<circle cx="280.42" cy="461.52" r="1.75" fill="#000"/>
<circle cx="274.44" cy="464.12" r="1.75" fill="#000"/>
<circle cx="280.42" cy="466.12" r="1.75" fill="#000"/>
<circle cx="274.44" cy="468.42" r="1.75" fill="#000"/>
<circle cx="274.44" cy="472.25" r="1.75" fill="#000"/>
<circle cx="280.42" cy="474.09" r="1.75" fill="#000"/>
<circle cx="277.36" cy="477.15" r="1.75" fill="#000"/>
<circle cx="274.44" cy="483.28" r="1.75" fill="#000"/>
<circle cx="280.42" cy="482.52" r="1.75" fill="#000"/>
<circle cx="274.44" cy="490.95" r="1.75" fill="#000"/>
<circle cx="280.42" cy="489.87" r="1.75" fill="#000"/>
<line x1="267.30" y1="473.50" x2="287.70" y2="473.50" stroke="#000" stroke-width="0.95"/>
<line x1="277.50" y1="469.00" x2="277.50" y2="477.00" stroke="#000" stroke-width="0.95"/>
<line x1="273.80" y1="469.50" x2="281.20" y2="469.50" stroke="#000" stroke-width="0.95"/>
<line x1="273.80" y1="476.50" x2="281.20" y2="476.50" stroke="#000" stroke-width="0.95"/>
<circle cx="307.71" cy="466.42" r="1.75" fill="#0A14FF"/>
<circle cx="302.65" cy="481.44" r="1.75" fill="#0A14FF"/>
<circle cx="313.07" cy="484.05" r="1.75" fill="#0A14FF"/>
<circle cx="299.28" cy="485.28" r="1.75" fill="#0A14FF"/>
<circle cx="306.17" cy="485.58" r="1.75" fill="#0A14FF"/>
<circle cx="309.55" cy="486.35" r="1.75" fill="#0A14FF"/>
<circle cx="302.65" cy="487.88" r="1.75" fill="#0A14FF"/>
<circle cx="313.07" cy="487.88" r="1.75" fill="#0A14FF"/>
<circle cx="316.44" cy="488.19" r="1.75" fill="#0A14FF"/>
<circle cx="299.28" cy="489.41" r="1.75" fill="#0A14FF"/>
<circle cx="306.17" cy="489.87" r="1.75" fill="#0A14FF"/>
<circle cx="309.55" cy="490.18" r="1.75" fill="#0A14FF"/>
<circle cx="313.07" cy="490.18" r="1.75" fill="#0A14FF"/>
<circle cx="302.65" cy="492.94" r="1.75" fill="#0A14FF"/>
<line x1="298.30" y1="486.50" x2="318.30" y2="486.50" stroke="#000" stroke-width="0.95"/>
<line x1="308.50" y1="484.00" x2="308.50" y2="489.00" stroke="#000" stroke-width="0.95"/>
<line x1="304.60" y1="484.50" x2="312.00" y2="484.50" stroke="#000" stroke-width="0.95"/>
<line x1="304.60" y1="488.50" x2="312.00" y2="488.50" stroke="#000" stroke-width="0.95"/>
<text class="s" x="248.10" y="444.43" font-size="5.15" text-anchor="middle" stroke="#000" stroke-width="0.14">0.0008</text>
<text class="s" x="248.50" y="453.49" font-size="5.9" font-weight="bold" text-anchor="middle" stroke="#000" stroke-width="0.1">***</text>
<text class="s" x="308.30" y="444.43" font-size="5.15" text-anchor="middle" stroke="#000" stroke-width="0.14">0.0026</text>
<text class="s" x="308.60" y="453.49" font-size="5.9" font-weight="bold" text-anchor="middle" stroke="#000" stroke-width="0.1">**</text>
<text class="s" x="247.30" y="520.99" font-size="5.6" font-weight="bold" text-anchor="middle" stroke="#000" stroke-width="0.1">Ve</text>
<text class="s" x="277.50" y="520.99" font-size="5.6" font-weight="bold" text-anchor="middle" stroke="#000" stroke-width="0.1">Isotype</text>
<text class="s" x="277.50" y="526.79" font-size="5.6" font-weight="bold" text-anchor="middle" stroke="#000" stroke-width="0.1">ctrl.</text>
<text class="s" x="308.30" y="520.99" font-size="5.6" font-weight="bold" text-anchor="middle" stroke="#000" stroke-width="0.1">SOF10</text>
<text class="s" x="308.30" y="526.79" font-size="5.6" font-weight="bold" text-anchor="middle" stroke="#000" stroke-width="0.1">(mFc)</text>
<line x1="266.70" y1="531.50" x2="317.60" y2="531.50" stroke="#000" stroke-width="0.8"/>
<text class="s" x="247.30" y="540.84" font-size="6.3" text-anchor="middle" stroke="#000" stroke-width="0.14">Wild type</text>
<text class="s" x="292.00" y="540.84" font-size="6.3" text-anchor="middle" stroke="#000" stroke-width="0.14">Col4A3 KO</text>
<text class="s" x="444.40" y="424.49" font-size="7.0" font-weight="bold" text-anchor="middle" stroke="#000" stroke-width="0.1">CysC</text>
<line x1="394.20" y1="437.20" x2="394.20" y2="511.50" stroke="#000" stroke-width="1.0"/>
<line x1="393.70" y1="511.00" x2="495.90" y2="511.00" stroke="#000" stroke-width="1.0"/>
<line x1="391.20" y1="511.00" x2="394.20" y2="511.00" stroke="#000" stroke-width="0.9"/>
<text class="s" x="390.70" y="512.99" font-size="5.6" font-weight="bold" text-anchor="end" stroke="#000" stroke-width="0.1">0.00</text>
<line x1="391.20" y1="496.34" x2="394.20" y2="496.34" stroke="#000" stroke-width="0.9"/>
<text class="s" x="390.70" y="498.33" font-size="5.6" font-weight="bold" text-anchor="end" stroke="#000" stroke-width="0.1">0.05</text>
<line x1="391.20" y1="481.68" x2="394.20" y2="481.68" stroke="#000" stroke-width="0.9"/>
<text class="s" x="390.70" y="483.67" font-size="5.6" font-weight="bold" text-anchor="end" stroke="#000" stroke-width="0.1">0.10</text>
<line x1="391.20" y1="467.02" x2="394.20" y2="467.02" stroke="#000" stroke-width="0.9"/>
<text class="s" x="390.70" y="469.01" font-size="5.6" font-weight="bold" text-anchor="end" stroke="#000" stroke-width="0.1">0.15</text>
<line x1="391.20" y1="452.36" x2="394.20" y2="452.36" stroke="#000" stroke-width="0.9"/>
<text class="s" x="390.70" y="454.35" font-size="5.6" font-weight="bold" text-anchor="end" stroke="#000" stroke-width="0.1">0.20</text>
<line x1="391.20" y1="437.70" x2="394.20" y2="437.70" stroke="#000" stroke-width="0.9"/>
<text class="s" x="390.70" y="439.69" font-size="5.6" font-weight="bold" text-anchor="end" stroke="#000" stroke-width="0.1">0.25</text>
<text class="s" transform="translate(373.19,474.00) rotate(-90)" font-size="5.9" font-weight="bold" text-anchor="middle" stroke="#000" stroke-width="0.1">mg/L</text>
<circle cx="411.40" cy="496.31" r="1.35" fill="#fff" stroke="#000" stroke-width="1.05"/>
<circle cx="417.23" cy="496.31" r="1.35" fill="#fff" stroke="#000" stroke-width="1.05"/>
<line x1="404.10" y1="496.50" x2="424.50" y2="496.50" stroke="#000" stroke-width="0.95"/>
<circle cx="436.08" cy="449.56" r="1.75" fill="#000"/>
<circle cx="453.55" cy="449.56" r="1.75" fill="#000"/>
<circle cx="442.06" cy="452.32" r="1.75" fill="#000"/>
<circle cx="447.88" cy="452.32" r="1.75" fill="#000"/>
<circle cx="442.06" cy="454.93" r="1.75" fill="#000"/>
<circle cx="447.88" cy="454.93" r="1.75" fill="#000"/>
<circle cx="444.82" cy="458.76" r="1.75" fill="#000"/>
<circle cx="444.82" cy="461.82" r="1.75" fill="#000"/>
<circle cx="442.06" cy="463.82" r="1.75" fill="#000"/>
<circle cx="447.88" cy="463.82" r="1.75" fill="#000"/>
<circle cx="444.82" cy="470.25" r="1.75" fill="#000"/>
<circle cx="444.82" cy="473.01" r="1.75" fill="#000"/>
<circle cx="444.82" cy="475.62" r="1.75" fill="#000"/>
<line x1="434.80" y1="460.50" x2="454.80" y2="460.50" stroke="#000" stroke-width="0.95"/>
<line x1="444.50" y1="457.00" x2="444.50" y2="463.00" stroke="#000" stroke-width="0.95"/>
<line x1="441.10" y1="457.50" x2="448.50" y2="457.50" stroke="#000" stroke-width="0.95"/>
<line x1="441.10" y1="462.50" x2="448.50" y2="462.50" stroke="#000" stroke-width="0.95"/>
<circle cx="481.14" cy="458.30" r="1.75" fill="#0A14FF"/>
<circle cx="469.65" cy="461.06" r="1.75" fill="#0A14FF"/>
<circle cx="475.17" cy="461.06" r="1.75" fill="#0A14FF"/>
<circle cx="483.90" cy="466.88" r="1.75" fill="#0A14FF"/>
<circle cx="466.58" cy="469.49" r="1.75" fill="#0A14FF"/>
<circle cx="472.41" cy="470.56" r="1.75" fill="#0A14FF"/>
<circle cx="478.08" cy="470.56" r="1.75" fill="#0A14FF"/>
<circle cx="466.58" cy="472.55" r="1.75" fill="#0A14FF"/>
<circle cx="483.90" cy="472.55" r="1.75" fill="#0A14FF"/>
<circle cx="475.17" cy="472.55" r="1.75" fill="#0A14FF"/>
<circle cx="472.41" cy="475.62" r="1.75" fill="#0A14FF"/>
<circle cx="478.08" cy="475.62" r="1.75" fill="#0A14FF"/>
<circle cx="475.17" cy="481.44" r="1.75" fill="#0A14FF"/>
<line x1="465.20" y1="470.50" x2="485.20" y2="470.50" stroke="#000" stroke-width="0.95"/>
<line x1="475.50" y1="468.00" x2="475.50" y2="473.00" stroke="#000" stroke-width="0.95"/>
<line x1="471.50" y1="468.50" x2="478.90" y2="468.50" stroke="#000" stroke-width="0.95"/>
<line x1="471.50" y1="472.50" x2="478.90" y2="472.50" stroke="#000" stroke-width="0.95"/>
<text class="s" x="414.90" y="444.43" font-size="5.15" text-anchor="middle" stroke="#000" stroke-width="0.14">0.0002</text>
<text class="s" x="415.20" y="453.49" font-size="5.9" font-weight="bold" text-anchor="middle" stroke="#000" stroke-width="0.1">***</text>
<text class="s" x="475.50" y="444.43" font-size="5.15" text-anchor="middle" stroke="#000" stroke-width="0.14">0.0035</text>
<text class="s" x="475.80" y="453.49" font-size="5.9" font-weight="bold" text-anchor="middle" stroke="#000" stroke-width="0.1">**</text>
<text class="s" x="414.30" y="520.99" font-size="5.6" font-weight="bold" text-anchor="middle" stroke="#000" stroke-width="0.1">Ve</text>
<text class="s" x="444.80" y="520.99" font-size="5.6" font-weight="bold" text-anchor="middle" stroke="#000" stroke-width="0.1">Isotype</text>
<text class="s" x="444.80" y="526.79" font-size="5.6" font-weight="bold" text-anchor="middle" stroke="#000" stroke-width="0.1">ctrl.</text>
<text class="s" x="475.20" y="520.99" font-size="5.6" font-weight="bold" text-anchor="middle" stroke="#000" stroke-width="0.1">SOF10</text>
<text class="s" x="475.20" y="526.79" font-size="5.6" font-weight="bold" text-anchor="middle" stroke="#000" stroke-width="0.1">(mFc)</text>
<line x1="433.60" y1="531.40" x2="484.60" y2="531.40" stroke="#000" stroke-width="0.8"/>
<text class="s" x="414.30" y="540.84" font-size="6.3" text-anchor="middle" stroke="#000" stroke-width="0.14">Wild type</text>
<text class="s" x="459.50" y="540.84" font-size="6.3" text-anchor="middle" stroke="#000" stroke-width="0.14">Col4A3 KO</text>
<text class="r" x="0.40" y="586.70" font-size="24.6">e)</text>
<text class="s" x="109.20" y="579.59" font-size="7.0" font-weight="bold" text-anchor="middle" stroke="#000" stroke-width="0.1"><tspan font-style="italic">Serpine1</tspan><tspan font-style="normal"> mRNA</tspan></text>
<line x1="59.00" y1="592.10" x2="59.00" y2="665.00" stroke="#000" stroke-width="1.0"/>
<line x1="58.50" y1="664.50" x2="159.20" y2="664.50" stroke="#000" stroke-width="1.0"/>
<line x1="56.00" y1="664.50" x2="59.00" y2="664.50" stroke="#000" stroke-width="0.9"/>
<text class="s" x="55.50" y="666.49" font-size="5.6" font-weight="bold" text-anchor="end" stroke="#000" stroke-width="0.1">0</text>
<line x1="56.00" y1="646.52" x2="59.00" y2="646.52" stroke="#000" stroke-width="0.9"/>
<text class="s" x="55.50" y="648.51" font-size="5.6" font-weight="bold" text-anchor="end" stroke="#000" stroke-width="0.1">20</text>
<line x1="56.00" y1="628.55" x2="59.00" y2="628.55" stroke="#000" stroke-width="0.9"/>
<text class="s" x="55.50" y="630.54" font-size="5.6" font-weight="bold" text-anchor="end" stroke="#000" stroke-width="0.1">40</text>
<line x1="56.00" y1="610.58" x2="59.00" y2="610.58" stroke="#000" stroke-width="0.9"/>
<text class="s" x="55.50" y="612.56" font-size="5.6" font-weight="bold" text-anchor="end" stroke="#000" stroke-width="0.1">60</text>
<line x1="56.00" y1="592.60" x2="59.00" y2="592.60" stroke="#000" stroke-width="0.9"/>
<text class="s" x="55.50" y="594.59" font-size="5.6" font-weight="bold" text-anchor="end" stroke="#000" stroke-width="0.1">80</text>
<text class="s" transform="translate(42.29,628.70) rotate(-90)" font-size="5.9" font-weight="bold" text-anchor="middle" stroke="#000" stroke-width="0.1">Relative expression vs WT</text>
<circle cx="70.42" cy="664.03" r="1.35" fill="#fff" stroke="#000" stroke-width="1.05"/>
<circle cx="76.09" cy="664.03" r="1.35" fill="#fff" stroke="#000" stroke-width="1.05"/>
<circle cx="81.77" cy="664.03" r="1.35" fill="#fff" stroke="#000" stroke-width="1.05"/>
<circle cx="87.28" cy="664.03" r="1.35" fill="#fff" stroke="#000" stroke-width="1.05"/>
<line x1="68.60" y1="664.50" x2="89.60" y2="664.50" stroke="#000" stroke-width="0.95"/>
<circle cx="103.38" cy="597.97" r="1.75" fill="#000"/>
<circle cx="114.72" cy="597.66" r="1.75" fill="#000"/>
<circle cx="109.05" cy="600.27" r="1.75" fill="#000"/>
<circle cx="109.05" cy="603.49" r="1.75" fill="#000"/>
<circle cx="103.38" cy="605.33" r="1.75" fill="#000"/>
<circle cx="114.72" cy="605.79" r="1.75" fill="#000"/>
<circle cx="109.05" cy="609.16" r="1.75" fill="#000"/>
<circle cx="109.05" cy="617.59" r="1.75" fill="#000"/>
<circle cx="103.38" cy="620.35" r="1.75" fill="#000"/>
<circle cx="114.72" cy="621.42" r="1.75" fill="#000"/>
<circle cx="109.05" cy="623.42" r="1.75" fill="#000"/>
<circle cx="109.05" cy="630.62" r="1.75" fill="#000"/>
<line x1="98.90" y1="611.50" x2="118.90" y2="611.50" stroke="#000" stroke-width="0.95"/>
<line x1="108.50" y1="608.00" x2="108.50" y2="615.00" stroke="#000" stroke-width="0.95"/>
<line x1="105.20" y1="608.50" x2="112.60" y2="608.50" stroke="#000" stroke-width="0.95"/>
<line x1="105.20" y1="614.50" x2="112.60" y2="614.50" stroke="#000" stroke-width="0.95"/>
<circle cx="137.10" cy="622.50" r="1.75" fill="#0A14FF"/>
<circle cx="140.78" cy="622.50" r="1.75" fill="#0A14FF"/>
<circle cx="137.10" cy="626.02" r="1.75" fill="#0A14FF"/>
<circle cx="140.78" cy="626.02" r="1.75" fill="#0A14FF"/>
<circle cx="130.51" cy="631.08" r="1.75" fill="#0A14FF"/>
<circle cx="147.68" cy="629.55" r="1.75" fill="#0A14FF"/>
<circle cx="133.57" cy="632.61" r="1.75" fill="#0A14FF"/>
<circle cx="137.10" cy="631.69" r="1.75" fill="#0A14FF"/>
<circle cx="140.78" cy="631.69" r="1.75" fill="#0A14FF"/>
<circle cx="144.30" cy="631.69" r="1.75" fill="#0A14FF"/>
<circle cx="147.68" cy="632.15" r="1.75" fill="#0A14FF"/>
<circle cx="135.41" cy="636.75" r="1.75" fill="#0A14FF"/>
<circle cx="138.94" cy="635.52" r="1.75" fill="#0A14FF"/>
<circle cx="142.46" cy="636.75" r="1.75" fill="#0A14FF"/>
<line x1="128.90" y1="630.50" x2="148.90" y2="630.50" stroke="#000" stroke-width="0.95"/>
<line x1="138.50" y1="629.00" x2="138.50" y2="632.00" stroke="#000" stroke-width="0.95"/>
<line x1="135.20" y1="629.50" x2="142.60" y2="629.50" stroke="#000" stroke-width="0.95"/>
<line x1="135.20" y1="631.50" x2="142.60" y2="631.50" stroke="#000" stroke-width="0.95"/>
<text class="s" x="77.80" y="598.73" font-size="5.15" text-anchor="middle" stroke="#000" stroke-width="0.14">&lt;0.0001</text>
<text class="s" x="79.00" y="608.19" font-size="5.9" font-weight="bold" text-anchor="middle" stroke="#000" stroke-width="0.1">****</text>
<text class="s" x="138.80" y="598.73" font-size="5.15" text-anchor="middle" stroke="#000" stroke-width="0.14">&lt;0.0001</text>
<text class="s" x="139.50" y="608.19" font-size="5.9" font-weight="bold" text-anchor="middle" stroke="#000" stroke-width="0.1">****</text>
<text class="s" x="79.10" y="673.89" font-size="5.6" font-weight="bold" text-anchor="middle" stroke="#000" stroke-width="0.1">Ve</text>
<text class="s" x="108.90" y="673.89" font-size="5.6" font-weight="bold" text-anchor="middle" stroke="#000" stroke-width="0.1">Isotype</text>
<text class="s" x="108.90" y="679.69" font-size="5.6" font-weight="bold" text-anchor="middle" stroke="#000" stroke-width="0.1">ctrl.</text>
<text class="s" x="138.90" y="673.89" font-size="5.6" font-weight="bold" text-anchor="middle" stroke="#000" stroke-width="0.1">SOF10</text>
<text class="s" x="138.90" y="679.69" font-size="5.6" font-weight="bold" text-anchor="middle" stroke="#000" stroke-width="0.1">(mFc)</text>
<line x1="97.90" y1="682.90" x2="148.10" y2="682.90" stroke="#000" stroke-width="0.8"/>
<text class="s" x="79.10" y="691.64" font-size="6.3" text-anchor="middle" stroke="#000" stroke-width="0.14">Wild type</text>
<text class="s" x="123.00" y="691.64" font-size="6.3" text-anchor="middle" stroke="#000" stroke-width="0.14">Col4A3 KO</text>
<text class="s" x="266.20" y="579.59" font-size="7.0" font-weight="bold" text-anchor="middle" stroke="#000" stroke-width="0.1"><tspan font-style="italic">Col1a1</tspan><tspan font-style="normal"> mRNA</tspan></text>
<line x1="215.80" y1="592.00" x2="215.80" y2="666.00" stroke="#000" stroke-width="1.0"/>
<line x1="215.30" y1="665.50" x2="316.80" y2="665.50" stroke="#000" stroke-width="1.0"/>
<line x1="212.80" y1="665.50" x2="215.80" y2="665.50" stroke="#000" stroke-width="0.9"/>
<text class="s" x="212.30" y="667.49" font-size="5.6" font-weight="bold" text-anchor="end" stroke="#000" stroke-width="0.1">0</text>
<line x1="212.80" y1="647.25" x2="215.80" y2="647.25" stroke="#000" stroke-width="0.9"/>
<text class="s" x="212.30" y="649.24" font-size="5.6" font-weight="bold" text-anchor="end" stroke="#000" stroke-width="0.1">20</text>
<line x1="212.80" y1="629.00" x2="215.80" y2="629.00" stroke="#000" stroke-width="0.9"/>
<text class="s" x="212.30" y="630.99" font-size="5.6" font-weight="bold" text-anchor="end" stroke="#000" stroke-width="0.1">40</text>
<line x1="212.80" y1="610.75" x2="215.80" y2="610.75" stroke="#000" stroke-width="0.9"/>
<text class="s" x="212.30" y="612.74" font-size="5.6" font-weight="bold" text-anchor="end" stroke="#000" stroke-width="0.1">60</text>
<line x1="212.80" y1="592.50" x2="215.80" y2="592.50" stroke="#000" stroke-width="0.9"/>
<text class="s" x="212.30" y="594.49" font-size="5.6" font-weight="bold" text-anchor="end" stroke="#000" stroke-width="0.1">80</text>
<text class="s" transform="translate(199.19,628.70) rotate(-90)" font-size="5.9" font-weight="bold" text-anchor="middle" stroke="#000" stroke-width="0.1">Relative expression vs WT</text>
<circle cx="227.42" cy="664.65" r="1.35" fill="#fff" stroke="#000" stroke-width="1.05"/>
<circle cx="233.09" cy="664.65" r="1.35" fill="#fff" stroke="#000" stroke-width="1.05"/>
<circle cx="238.77" cy="664.65" r="1.35" fill="#fff" stroke="#000" stroke-width="1.05"/>
<circle cx="244.28" cy="664.65" r="1.35" fill="#fff" stroke="#000" stroke-width="1.05"/>
<line x1="225.50" y1="664.50" x2="246.50" y2="664.50" stroke="#000" stroke-width="0.95"/>
<circle cx="266.05" cy="597.66" r="1.75" fill="#000"/>
<circle cx="266.05" cy="603.49" r="1.75" fill="#000"/>
<circle cx="260.38" cy="605.33" r="1.75" fill="#000"/>
<circle cx="266.05" cy="606.09" r="1.75" fill="#000"/>
<circle cx="260.38" cy="608.09" r="1.75" fill="#000"/>
<circle cx="271.72" cy="607.63" r="1.75" fill="#000"/>
<circle cx="266.05" cy="609.16" r="1.75" fill="#000"/>
<circle cx="266.05" cy="612.99" r="1.75" fill="#000"/>
<circle cx="271.72" cy="621.42" r="1.75" fill="#000"/>
<circle cx="266.05" cy="623.42" r="1.75" fill="#000"/>
<circle cx="269.12" cy="626.48" r="1.75" fill="#000"/>
<circle cx="263.29" cy="629.39" r="1.75" fill="#000"/>
<line x1="256.10" y1="612.50" x2="276.10" y2="612.50" stroke="#000" stroke-width="0.95"/>
<line x1="266.50" y1="609.00" x2="266.50" y2="616.00" stroke="#000" stroke-width="0.95"/>
<line x1="262.40" y1="609.50" x2="269.80" y2="609.50" stroke="#000" stroke-width="0.95"/>
<line x1="262.40" y1="615.50" x2="269.80" y2="615.50" stroke="#000" stroke-width="0.95"/>
<circle cx="292.11" cy="622.19" r="1.75" fill="#0A14FF"/>
<circle cx="300.54" cy="623.42" r="1.75" fill="#0A14FF"/>
<circle cx="296.25" cy="626.02" r="1.75" fill="#0A14FF"/>
<circle cx="287.51" cy="631.39" r="1.75" fill="#0A14FF"/>
<circle cx="292.11" cy="632.61" r="1.75" fill="#0A14FF"/>
<circle cx="300.54" cy="632.61" r="1.75" fill="#0A14FF"/>
<circle cx="287.51" cy="634.45" r="1.75" fill="#0A14FF"/>
<circle cx="296.25" cy="633.68" r="1.75" fill="#0A14FF"/>
<circle cx="304.83" cy="634.14" r="1.75" fill="#0A14FF"/>
<circle cx="300.54" cy="635.22" r="1.75" fill="#0A14FF"/>
<circle cx="292.11" cy="637.52" r="1.75" fill="#0A14FF"/>
<circle cx="296.25" cy="637.52" r="1.75" fill="#0A14FF"/>
<circle cx="304.83" cy="636.75" r="1.75" fill="#0A14FF"/>
<circle cx="300.54" cy="639.05" r="1.75" fill="#0A14FF"/>
<circle cx="292.11" cy="639.82" r="1.75" fill="#0A14FF"/>
<line x1="286.20" y1="633.50" x2="306.20" y2="633.50" stroke="#000" stroke-width="0.95"/>
<line x1="296.50" y1="631.00" x2="296.50" y2="635.00" stroke="#000" stroke-width="0.95"/>
<line x1="292.50" y1="631.50" x2="299.90" y2="631.50" stroke="#000" stroke-width="0.95"/>
<line x1="292.50" y1="634.50" x2="299.90" y2="634.50" stroke="#000" stroke-width="0.95"/>
<text class="s" x="234.80" y="598.93" font-size="5.15" text-anchor="middle" stroke="#000" stroke-width="0.14">&lt;0.0001</text>
<text class="s" x="236.50" y="608.29" font-size="5.9" font-weight="bold" text-anchor="middle" stroke="#000" stroke-width="0.1">****</text>
<text class="s" x="295.00" y="598.93" font-size="5.15" text-anchor="middle" stroke="#000" stroke-width="0.14">&lt;0.0001</text>
<text class="s" x="296.50" y="608.29" font-size="5.9" font-weight="bold" text-anchor="middle" stroke="#000" stroke-width="0.1">****</text>
<text class="s" x="236.00" y="674.79" font-size="5.6" font-weight="bold" text-anchor="middle" stroke="#000" stroke-width="0.1">Ve</text>
<text class="s" x="266.10" y="674.79" font-size="5.6" font-weight="bold" text-anchor="middle" stroke="#000" stroke-width="0.1">Isotype</text>
<text class="s" x="266.10" y="680.59" font-size="5.6" font-weight="bold" text-anchor="middle" stroke="#000" stroke-width="0.1">ctrl.</text>
<text class="s" x="296.20" y="674.79" font-size="5.6" font-weight="bold" text-anchor="middle" stroke="#000" stroke-width="0.1">SOF10</text>
<text class="s" x="296.20" y="680.59" font-size="5.6" font-weight="bold" text-anchor="middle" stroke="#000" stroke-width="0.1">(mFc)</text>
<line x1="254.90" y1="684.20" x2="305.10" y2="684.20" stroke="#000" stroke-width="0.8"/>
<text class="s" x="235.50" y="692.84" font-size="6.3" text-anchor="middle" stroke="#000" stroke-width="0.14">Wild type</text>
<text class="s" x="280.50" y="692.84" font-size="6.3" text-anchor="middle" stroke="#000" stroke-width="0.14">Col4A3 KO</text>
<text class="s" x="422.90" y="579.59" font-size="7.0" font-weight="bold" text-anchor="middle" stroke="#000" stroke-width="0.1"><tspan font-style="italic">Col3a1</tspan><tspan font-style="normal"> mRNA</tspan></text>
<line x1="372.00" y1="592.00" x2="372.00" y2="666.00" stroke="#000" stroke-width="1.0"/>
<line x1="371.50" y1="665.50" x2="473.30" y2="665.50" stroke="#000" stroke-width="1.0"/>
<line x1="369.00" y1="665.50" x2="372.00" y2="665.50" stroke="#000" stroke-width="0.9"/>
<text class="s" x="368.50" y="667.49" font-size="5.6" font-weight="bold" text-anchor="end" stroke="#000" stroke-width="0.1">0</text>
<line x1="369.00" y1="647.25" x2="372.00" y2="647.25" stroke="#000" stroke-width="0.9"/>
<text class="s" x="368.50" y="649.24" font-size="5.6" font-weight="bold" text-anchor="end" stroke="#000" stroke-width="0.1">20</text>
<line x1="369.00" y1="629.00" x2="372.00" y2="629.00" stroke="#000" stroke-width="0.9"/>
<text class="s" x="368.50" y="630.99" font-size="5.6" font-weight="bold" text-anchor="end" stroke="#000" stroke-width="0.1">40</text>
<line x1="369.00" y1="610.75" x2="372.00" y2="610.75" stroke="#000" stroke-width="0.9"/>
<text class="s" x="368.50" y="612.74" font-size="5.6" font-weight="bold" text-anchor="end" stroke="#000" stroke-width="0.1">60</text>
<line x1="369.00" y1="592.50" x2="372.00" y2="592.50" stroke="#000" stroke-width="0.9"/>
<text class="s" x="368.50" y="594.49" font-size="5.6" font-weight="bold" text-anchor="end" stroke="#000" stroke-width="0.1">80</text>
<text class="s" transform="translate(355.39,628.70) rotate(-90)" font-size="5.9" font-weight="bold" text-anchor="middle" stroke="#000" stroke-width="0.1">Relative expression vs WT</text>
<circle cx="383.73" cy="664.65" r="1.35" fill="#fff" stroke="#000" stroke-width="1.05"/>
<circle cx="389.40" cy="664.65" r="1.35" fill="#fff" stroke="#000" stroke-width="1.05"/>
<circle cx="395.23" cy="664.65" r="1.35" fill="#fff" stroke="#000" stroke-width="1.05"/>
<circle cx="400.90" cy="664.65" r="1.35" fill="#fff" stroke="#000" stroke-width="1.05"/>
<line x1="381.80" y1="664.50" x2="402.80" y2="664.50" stroke="#000" stroke-width="0.95"/>
<circle cx="422.36" cy="600.27" r="1.75" fill="#000"/>
<circle cx="416.68" cy="607.63" r="1.75" fill="#000"/>
<circle cx="422.36" cy="610.69" r="1.75" fill="#000"/>
<circle cx="428.18" cy="610.23" r="1.75" fill="#000"/>
<circle cx="416.68" cy="620.96" r="1.75" fill="#000"/>
<circle cx="428.18" cy="620.66" r="1.75" fill="#000"/>
<circle cx="422.36" cy="622.19" r="1.75" fill="#000"/>
<circle cx="422.36" cy="625.56" r="1.75" fill="#000"/>
<circle cx="416.68" cy="630.62" r="1.75" fill="#000"/>
<circle cx="416.68" cy="634.45" r="1.75" fill="#000"/>
<circle cx="422.36" cy="633.23" r="1.75" fill="#000"/>
<circle cx="428.18" cy="633.68" r="1.75" fill="#000"/>
<line x1="412.20" y1="620.50" x2="432.60" y2="620.50" stroke="#000" stroke-width="0.95"/>
<line x1="422.50" y1="617.00" x2="422.50" y2="624.00" stroke="#000" stroke-width="0.95"/>
<line x1="418.70" y1="617.50" x2="426.10" y2="617.50" stroke="#000" stroke-width="0.95"/>
<line x1="418.70" y1="623.50" x2="426.10" y2="623.50" stroke="#000" stroke-width="0.95"/>
<circle cx="452.71" cy="626.02" r="1.75" fill="#0A14FF"/>
<circle cx="444.28" cy="633.38" r="1.75" fill="#0A14FF"/>
<circle cx="461.44" cy="634.91" r="1.75" fill="#0A14FF"/>
<circle cx="447.65" cy="635.98" r="1.75" fill="#0A14FF"/>
<circle cx="451.17" cy="635.68" r="1.75" fill="#0A14FF"/>
<circle cx="454.55" cy="636.29" r="1.75" fill="#0A14FF"/>
<circle cx="444.28" cy="637.98" r="1.75" fill="#0A14FF"/>
<circle cx="458.07" cy="637.52" r="1.75" fill="#0A14FF"/>
<circle cx="461.44" cy="637.98" r="1.75" fill="#0A14FF"/>
<circle cx="447.65" cy="639.82" r="1.75" fill="#0A14FF"/>
<circle cx="451.17" cy="639.82" r="1.75" fill="#0A14FF"/>
<circle cx="454.55" cy="639.82" r="1.75" fill="#0A14FF"/>
<circle cx="458.07" cy="641.81" r="1.75" fill="#0A14FF"/>
<circle cx="452.71" cy="644.87" r="1.75" fill="#0A14FF"/>
<line x1="442.70" y1="637.50" x2="462.70" y2="637.50" stroke="#000" stroke-width="0.95"/>
<line x1="452.50" y1="636.00" x2="452.50" y2="639.00" stroke="#000" stroke-width="0.95"/>
<line x1="449.00" y1="636.50" x2="456.40" y2="636.50" stroke="#000" stroke-width="0.95"/>
<line x1="449.00" y1="638.50" x2="456.40" y2="638.50" stroke="#000" stroke-width="0.95"/>
<text class="s" x="389.60" y="598.93" font-size="5.15" text-anchor="middle" stroke="#000" stroke-width="0.14">&lt;0.0001</text>
<text class="s" x="390.40" y="608.29" font-size="5.9" font-weight="bold" text-anchor="middle" stroke="#000" stroke-width="0.1">****</text>
<text class="s" x="453.00" y="598.93" font-size="5.15" text-anchor="middle" stroke="#000" stroke-width="0.14">&lt;0.0001</text>
<text class="s" x="453.90" y="608.29" font-size="5.9" font-weight="bold" text-anchor="middle" stroke="#000" stroke-width="0.1">****</text>
<text class="s" x="392.30" y="674.79" font-size="5.6" font-weight="bold" text-anchor="middle" stroke="#000" stroke-width="0.1">Ve</text>
<text class="s" x="422.40" y="674.79" font-size="5.6" font-weight="bold" text-anchor="middle" stroke="#000" stroke-width="0.1">Isotype</text>
<text class="s" x="422.40" y="680.59" font-size="5.6" font-weight="bold" text-anchor="middle" stroke="#000" stroke-width="0.1">ctrl.</text>
<text class="s" x="452.70" y="674.79" font-size="5.6" font-weight="bold" text-anchor="middle" stroke="#000" stroke-width="0.1">SOF10</text>
<text class="s" x="452.70" y="680.59" font-size="5.6" font-weight="bold" text-anchor="middle" stroke="#000" stroke-width="0.1">(mFc)</text>
<line x1="411.10" y1="684.20" x2="461.80" y2="684.20" stroke="#000" stroke-width="0.8"/>
<text class="s" x="392.00" y="692.84" font-size="6.3" text-anchor="middle" stroke="#000" stroke-width="0.14">Wild type</text>
<text class="s" x="437.50" y="692.84" font-size="6.3" text-anchor="middle" stroke="#000" stroke-width="0.14">Col4A3 KO</text>
<text class="s" x="588.70" y="579.59" font-size="7.0" font-weight="bold" text-anchor="middle" stroke="#000" stroke-width="0.1">Hydroxyproline</text>
<line x1="538.00" y1="592.00" x2="538.00" y2="666.00" stroke="#000" stroke-width="1.0"/>
<line x1="537.50" y1="665.50" x2="640.20" y2="665.50" stroke="#000" stroke-width="1.0"/>
<line x1="535.00" y1="665.50" x2="538.00" y2="665.50" stroke="#000" stroke-width="0.9"/>
<text class="s" x="534.50" y="667.49" font-size="5.6" font-weight="bold" text-anchor="end" stroke="#000" stroke-width="0.1">0</text>
<line x1="535.00" y1="641.17" x2="538.00" y2="641.17" stroke="#000" stroke-width="0.9"/>
<text class="s" x="534.50" y="643.15" font-size="5.6" font-weight="bold" text-anchor="end" stroke="#000" stroke-width="0.1">5000</text>
<line x1="535.00" y1="616.83" x2="538.00" y2="616.83" stroke="#000" stroke-width="0.9"/>
<text class="s" x="534.50" y="618.82" font-size="5.6" font-weight="bold" text-anchor="end" stroke="#000" stroke-width="0.1">10000</text>
<line x1="535.00" y1="592.50" x2="538.00" y2="592.50" stroke="#000" stroke-width="0.9"/>
<text class="s" x="534.50" y="594.49" font-size="5.6" font-weight="bold" text-anchor="end" stroke="#000" stroke-width="0.1">15000</text>
<text class="s" transform="translate(514.23,629.00) rotate(-90)" font-size="6.0" font-weight="bold" text-anchor="middle" stroke="#000" stroke-width="0.1">µg/g dry tissue</text>
<circle cx="549.96" cy="652.08" r="1.35" fill="#fff" stroke="#000" stroke-width="1.05"/>
<circle cx="555.79" cy="650.55" r="1.35" fill="#fff" stroke="#000" stroke-width="1.05"/>
<circle cx="561.46" cy="651.62" r="1.35" fill="#fff" stroke="#000" stroke-width="1.05"/>
<circle cx="567.28" cy="651.01" r="1.35" fill="#fff" stroke="#000" stroke-width="1.05"/>
<line x1="548.10" y1="651.50" x2="569.10" y2="651.50" stroke="#000" stroke-width="0.95"/>
<circle cx="589.05" cy="610.23" r="1.75" fill="#000"/>
<circle cx="584.76" cy="613.30" r="1.75" fill="#000"/>
<circle cx="589.05" cy="615.29" r="1.75" fill="#000"/>
<circle cx="580.62" cy="621.12" r="1.75" fill="#000"/>
<circle cx="597.48" cy="621.42" r="1.75" fill="#000"/>
<circle cx="584.76" cy="622.96" r="1.75" fill="#000"/>
<circle cx="589.05" cy="622.19" r="1.75" fill="#000"/>
<circle cx="593.34" cy="622.50" r="1.75" fill="#000"/>
<circle cx="586.29" cy="626.79" r="1.75" fill="#000"/>
<circle cx="582.15" cy="630.16" r="1.75" fill="#000"/>
<circle cx="591.35" cy="629.09" r="1.75" fill="#000"/>
<circle cx="595.18" cy="628.32" r="1.75" fill="#000"/>
<line x1="579.00" y1="621.50" x2="599.00" y2="621.50" stroke="#000" stroke-width="0.95"/>
<line x1="589.50" y1="620.00" x2="589.50" y2="624.00" stroke="#000" stroke-width="0.95"/>
<line x1="585.30" y1="620.50" x2="592.70" y2="620.50" stroke="#000" stroke-width="0.95"/>
<line x1="585.30" y1="623.50" x2="592.70" y2="623.50" stroke="#000" stroke-width="0.95"/>
<circle cx="614.65" cy="622.96" r="1.75" fill="#0A14FF"/>
<circle cx="619.25" cy="623.72" r="1.75" fill="#0A14FF"/>
<circle cx="623.54" cy="623.26" r="1.75" fill="#0A14FF"/>
<circle cx="627.83" cy="627.09" r="1.75" fill="#0A14FF"/>
<circle cx="614.65" cy="629.09" r="1.75" fill="#0A14FF"/>
<circle cx="623.54" cy="629.09" r="1.75" fill="#0A14FF"/>
<circle cx="627.83" cy="630.16" r="1.75" fill="#0A14FF"/>
<circle cx="619.25" cy="630.62" r="1.75" fill="#0A14FF"/>
<circle cx="614.65" cy="632.92" r="1.75" fill="#0A14FF"/>
<circle cx="623.54" cy="634.76" r="1.75" fill="#0A14FF"/>
<circle cx="610.51" cy="636.75" r="1.75" fill="#0A14FF"/>
<circle cx="619.25" cy="636.44" r="1.75" fill="#0A14FF"/>
<circle cx="627.83" cy="636.75" r="1.75" fill="#0A14FF"/>
<line x1="609.30" y1="630.50" x2="629.30" y2="630.50" stroke="#000" stroke-width="0.95"/>
<line x1="619.50" y1="629.00" x2="619.50" y2="632.00" stroke="#000" stroke-width="0.95"/>
<line x1="615.60" y1="629.50" x2="623.00" y2="629.50" stroke="#000" stroke-width="0.95"/>
<line x1="615.60" y1="631.50" x2="623.00" y2="631.50" stroke="#000" stroke-width="0.95"/>
<text class="s" x="557.60" y="598.93" font-size="5.15" text-anchor="middle" stroke="#000" stroke-width="0.14">&lt;0.0001</text>
<text class="s" x="559.20" y="608.29" font-size="5.9" font-weight="bold" text-anchor="middle" stroke="#000" stroke-width="0.1">****</text>
<text class="s" x="619.70" y="598.93" font-size="5.15" text-anchor="middle" stroke="#000" stroke-width="0.14">0.0007</text>
<text class="s" x="619.70" y="608.29" font-size="5.9" font-weight="bold" text-anchor="middle" stroke="#000" stroke-width="0.1">***</text>
<text class="s" x="558.60" y="674.79" font-size="5.6" font-weight="bold" text-anchor="middle" stroke="#000" stroke-width="0.1">Ve</text>
<text class="s" x="589.00" y="674.79" font-size="5.6" font-weight="bold" text-anchor="middle" stroke="#000" stroke-width="0.1">Isotype</text>
<text class="s" x="589.00" y="680.59" font-size="5.6" font-weight="bold" text-anchor="middle" stroke="#000" stroke-width="0.1">ctrl.</text>
<text class="s" x="619.30" y="674.79" font-size="5.6" font-weight="bold" text-anchor="middle" stroke="#000" stroke-width="0.1">SOF10</text>
<text class="s" x="619.30" y="680.59" font-size="5.6" font-weight="bold" text-anchor="middle" stroke="#000" stroke-width="0.1">(mFc)</text>
<line x1="577.90" y1="684.20" x2="628.10" y2="684.20" stroke="#000" stroke-width="0.8"/>
<text class="s" x="558.30" y="692.84" font-size="6.3" text-anchor="middle" stroke="#000" stroke-width="0.14">Wild type</text>
<text class="s" x="603.70" y="692.84" font-size="6.3" text-anchor="middle" stroke="#000" stroke-width="0.14">Col4A3 KO</text>
<text class="r" x="-0.60" y="740.40" font-size="24.6">f)</text>
<text class="s" x="107.30" y="725.68" font-size="7.840000000000001" font-weight="bold" text-anchor="middle" stroke="#000" stroke-width="0.1">Fibortic area</text>
<line x1="50.80" y1="740.34" x2="50.80" y2="823.86" stroke="#000" stroke-width="1.12"/>
<line x1="50.24" y1="823.30" x2="164.20" y2="823.30" stroke="#000" stroke-width="1.12"/>
<line x1="47.44" y1="823.30" x2="50.80" y2="823.30" stroke="#000" stroke-width="1.0080000000000002"/>
<text class="s" x="46.88" y="825.53" font-size="6.272" font-weight="bold" text-anchor="end" stroke="#000" stroke-width="0.1">0</text>
<line x1="47.44" y1="802.70" x2="50.80" y2="802.70" stroke="#000" stroke-width="1.0080000000000002"/>
<text class="s" x="46.88" y="804.93" font-size="6.272" font-weight="bold" text-anchor="end" stroke="#000" stroke-width="0.1">2</text>
<line x1="47.44" y1="782.10" x2="50.80" y2="782.10" stroke="#000" stroke-width="1.0080000000000002"/>
<text class="s" x="46.88" y="784.33" font-size="6.272" font-weight="bold" text-anchor="end" stroke="#000" stroke-width="0.1">4</text>
<line x1="47.44" y1="761.50" x2="50.80" y2="761.50" stroke="#000" stroke-width="1.0080000000000002"/>
<text class="s" x="46.88" y="763.73" font-size="6.272" font-weight="bold" text-anchor="end" stroke="#000" stroke-width="0.1">6</text>
<line x1="47.44" y1="740.90" x2="50.80" y2="740.90" stroke="#000" stroke-width="1.0080000000000002"/>
<text class="s" x="46.88" y="743.13" font-size="6.272" font-weight="bold" text-anchor="end" stroke="#000" stroke-width="0.1">8</text>
<text class="s" transform="translate(35.65,781.70) rotate(-90)" font-size="6.608000000000001" font-weight="bold" text-anchor="middle" stroke="#000" stroke-width="0.1">%</text>
<circle cx="63.39" cy="818.59" r="1.40" fill="#fff" stroke="#000" stroke-width="1.05"/>
<circle cx="70.04" cy="817.36" r="1.40" fill="#fff" stroke="#000" stroke-width="1.05"/>
<circle cx="76.53" cy="818.59" r="1.40" fill="#fff" stroke="#000" stroke-width="1.05"/>
<circle cx="83.01" cy="818.24" r="1.40" fill="#fff" stroke="#000" stroke-width="1.05"/>
<line x1="61.70" y1="818.50" x2="84.70" y2="818.50" stroke="#000" stroke-width="0.95"/>
<circle cx="104.03" cy="757.27" r="1.8" fill="#000"/>
<circle cx="110.69" cy="759.37" r="1.8" fill="#000"/>
<circle cx="104.03" cy="762.00" r="1.8" fill="#000"/>
<circle cx="104.03" cy="766.91" r="1.8" fill="#000"/>
<circle cx="104.03" cy="770.41" r="1.8" fill="#000"/>
<circle cx="110.69" cy="770.06" r="1.8" fill="#000"/>
<circle cx="110.69" cy="774.79" r="1.8" fill="#000"/>
<circle cx="104.03" cy="778.64" r="1.8" fill="#000"/>
<circle cx="110.69" cy="779.52" r="1.8" fill="#000"/>
<circle cx="104.03" cy="782.15" r="1.8" fill="#000"/>
<circle cx="110.69" cy="783.55" r="1.8" fill="#000"/>
<circle cx="107.19" cy="792.31" r="1.8" fill="#000"/>
<line x1="95.90" y1="773.50" x2="118.90" y2="773.50" stroke="#000" stroke-width="0.95"/>
<line x1="107.50" y1="770.00" x2="107.50" y2="777.00" stroke="#000" stroke-width="0.95"/>
<line x1="102.20" y1="770.50" x2="112.60" y2="770.50" stroke="#000" stroke-width="0.95"/>
<line x1="102.20" y1="776.50" x2="112.60" y2="776.50" stroke="#000" stroke-width="0.95"/>
<circle cx="141.35" cy="770.76" r="1.8" fill="#0A14FF"/>
<circle cx="139.07" cy="775.67" r="1.8" fill="#0A14FF"/>
<circle cx="143.98" cy="777.77" r="1.8" fill="#0A14FF"/>
<circle cx="131.71" cy="793.71" r="1.8" fill="#0A14FF"/>
<circle cx="136.62" cy="794.94" r="1.8" fill="#0A14FF"/>
<circle cx="141.35" cy="792.31" r="1.8" fill="#0A14FF"/>
<circle cx="146.60" cy="794.94" r="1.8" fill="#0A14FF"/>
<circle cx="151.33" cy="790.21" r="1.8" fill="#0A14FF"/>
<circle cx="151.33" cy="794.41" r="1.8" fill="#0A14FF"/>
<circle cx="131.71" cy="797.57" r="1.8" fill="#0A14FF"/>
<circle cx="141.35" cy="796.69" r="1.8" fill="#0A14FF"/>
<circle cx="151.33" cy="798.79" r="1.8" fill="#0A14FF"/>
<circle cx="136.62" cy="791.43" r="1.8" fill="#0A14FF"/>
<circle cx="146.60" cy="791.08" r="1.8" fill="#0A14FF"/>
<line x1="129.90" y1="790.50" x2="152.90" y2="790.50" stroke="#000" stroke-width="0.95"/>
<line x1="141.50" y1="787.00" x2="141.50" y2="793.00" stroke="#000" stroke-width="0.95"/>
<line x1="136.20" y1="787.50" x2="146.60" y2="787.50" stroke="#000" stroke-width="0.95"/>
<line x1="136.20" y1="792.50" x2="146.60" y2="792.50" stroke="#000" stroke-width="0.95"/>
<text class="s" x="71.20" y="748.05" font-size="5.768000000000001" text-anchor="middle" stroke="#000" stroke-width="0.14">&lt;0.0001</text>
<text class="s" x="73.80" y="759.55" font-size="6.608000000000001" font-weight="bold" text-anchor="middle" stroke="#000" stroke-width="0.1">****</text>
<text class="s" x="140.30" y="748.05" font-size="5.768000000000001" text-anchor="middle" stroke="#000" stroke-width="0.14">0.0002</text>
<text class="s" x="141.40" y="759.55" font-size="6.608000000000001" font-weight="bold" text-anchor="middle" stroke="#000" stroke-width="0.1">***</text>
<text class="s" x="73.20" y="834.23" font-size="6.272" font-weight="bold" text-anchor="middle" stroke="#000" stroke-width="0.1">Ve</text>
<text class="s" x="107.40" y="834.23" font-size="6.272" font-weight="bold" text-anchor="middle" stroke="#000" stroke-width="0.1">Isotype</text>
<text class="s" x="107.40" y="840.72" font-size="6.272" font-weight="bold" text-anchor="middle" stroke="#000" stroke-width="0.1">ctrl.</text>
<text class="s" x="141.40" y="834.23" font-size="6.272" font-weight="bold" text-anchor="middle" stroke="#000" stroke-width="0.1">SOF10</text>
<text class="s" x="141.40" y="840.72" font-size="6.272" font-weight="bold" text-anchor="middle" stroke="#000" stroke-width="0.1">(mFc)</text>
<line x1="95.10" y1="844.70" x2="152.20" y2="844.70" stroke="#000" stroke-width="0.8960000000000001"/>
<text class="s" x="73.10" y="854.60" font-size="7.056" text-anchor="middle" stroke="#000" stroke-width="0.14">Wild type</text>
<text class="s" x="123.40" y="854.60" font-size="7.056" text-anchor="middle" stroke="#000" stroke-width="0.14">Col4A3 KO</text>
<text class="r" x="-2.20" y="893.80" font-size="24.6">g)</text>
<text class="s" x="110.80" y="879.48" font-size="7.840000000000001" font-weight="bold" text-anchor="middle" stroke="#000" stroke-width="0.1">Percentage of sclerotic glomeruli</text>
<line x1="54.70" y1="893.54" x2="54.70" y2="977.06" stroke="#000" stroke-width="1.12"/>
<line x1="54.14" y1="976.50" x2="168.50" y2="976.50" stroke="#000" stroke-width="1.12"/>
<line x1="51.34" y1="976.50" x2="54.70" y2="976.50" stroke="#000" stroke-width="1.0080000000000002"/>
<text class="s" x="50.78" y="978.73" font-size="6.272" font-weight="bold" text-anchor="end" stroke="#000" stroke-width="0.1">0</text>
<line x1="51.34" y1="960.02" x2="54.70" y2="960.02" stroke="#000" stroke-width="1.0080000000000002"/>
<text class="s" x="50.78" y="962.25" font-size="6.272" font-weight="bold" text-anchor="end" stroke="#000" stroke-width="0.1">10</text>
<line x1="51.34" y1="943.54" x2="54.70" y2="943.54" stroke="#000" stroke-width="1.0080000000000002"/>
<text class="s" x="50.78" y="945.77" font-size="6.272" font-weight="bold" text-anchor="end" stroke="#000" stroke-width="0.1">20</text>
<line x1="51.34" y1="927.06" x2="54.70" y2="927.06" stroke="#000" stroke-width="1.0080000000000002"/>
<text class="s" x="50.78" y="929.29" font-size="6.272" font-weight="bold" text-anchor="end" stroke="#000" stroke-width="0.1">30</text>
<line x1="51.34" y1="910.58" x2="54.70" y2="910.58" stroke="#000" stroke-width="1.0080000000000002"/>
<text class="s" x="50.78" y="912.81" font-size="6.272" font-weight="bold" text-anchor="end" stroke="#000" stroke-width="0.1">40</text>
<line x1="51.34" y1="894.10" x2="54.70" y2="894.10" stroke="#000" stroke-width="1.0080000000000002"/>
<text class="s" x="50.78" y="896.33" font-size="6.272" font-weight="bold" text-anchor="end" stroke="#000" stroke-width="0.1">50</text>
<text class="s" transform="translate(35.65,935.20) rotate(-90)" font-size="6.608000000000001" font-weight="bold" text-anchor="middle" stroke="#000" stroke-width="0.1">%</text>
<circle cx="67.04" cy="976.79" r="1.40" fill="#fff" stroke="#000" stroke-width="1.05"/>
<circle cx="73.52" cy="976.79" r="1.40" fill="#fff" stroke="#000" stroke-width="1.05"/>
<circle cx="80.18" cy="976.79" r="1.40" fill="#fff" stroke="#000" stroke-width="1.05"/>
<circle cx="86.66" cy="976.79" r="1.40" fill="#fff" stroke="#000" stroke-width="1.05"/>
<line x1="65.40" y1="976.50" x2="88.40" y2="976.50" stroke="#000" stroke-width="0.95"/>
<circle cx="111.19" cy="906.89" r="1.8" fill="#000"/>
<circle cx="104.53" cy="923.53" r="1.8" fill="#000"/>
<circle cx="117.67" cy="923.01" r="1.8" fill="#000"/>
<circle cx="111.19" cy="925.29" r="1.8" fill="#000"/>
<circle cx="104.53" cy="934.40" r="1.8" fill="#000"/>
<circle cx="117.67" cy="934.40" r="1.8" fill="#000"/>
<circle cx="111.19" cy="937.55" r="1.8" fill="#000"/>
<circle cx="104.53" cy="943.33" r="1.8" fill="#000"/>
<circle cx="111.19" cy="945.08" r="1.8" fill="#000"/>
<circle cx="111.19" cy="952.79" r="1.8" fill="#000"/>
<circle cx="114.34" cy="957.35" r="1.8" fill="#000"/>
<circle cx="107.68" cy="960.33" r="1.8" fill="#000"/>
<line x1="99.70" y1="937.50" x2="122.70" y2="937.50" stroke="#000" stroke-width="0.95"/>
<line x1="111.50" y1="932.00" x2="111.50" y2="942.00" stroke="#000" stroke-width="0.95"/>
<line x1="106.00" y1="932.50" x2="116.40" y2="932.50" stroke="#000" stroke-width="0.95"/>
<line x1="106.00" y1="941.50" x2="116.40" y2="941.50" stroke="#000" stroke-width="0.95"/>
<circle cx="145.00" cy="930.89" r="1.8" fill="#0A14FF"/>
<circle cx="147.10" cy="942.28" r="1.8" fill="#0A14FF"/>
<circle cx="143.07" cy="944.56" r="1.8" fill="#0A14FF"/>
<circle cx="145.00" cy="950.34" r="1.8" fill="#0A14FF"/>
<circle cx="145.00" cy="954.19" r="1.8" fill="#0A14FF"/>
<circle cx="143.07" cy="955.95" r="1.8" fill="#0A14FF"/>
<circle cx="147.10" cy="956.82" r="1.8" fill="#0A14FF"/>
<circle cx="139.22" cy="958.22" r="1.8" fill="#0A14FF"/>
<circle cx="135.36" cy="959.97" r="1.8" fill="#0A14FF"/>
<circle cx="143.07" cy="960.33" r="1.8" fill="#0A14FF"/>
<circle cx="151.48" cy="960.33" r="1.8" fill="#0A14FF"/>
<circle cx="154.98" cy="960.33" r="1.8" fill="#0A14FF"/>
<circle cx="147.10" cy="962.08" r="1.8" fill="#0A14FF"/>
<circle cx="143.07" cy="965.23" r="1.8" fill="#0A14FF"/>
<line x1="134.10" y1="954.50" x2="157.10" y2="954.50" stroke="#000" stroke-width="0.95"/>
<line x1="145.50" y1="951.00" x2="145.50" y2="957.00" stroke="#000" stroke-width="0.95"/>
<line x1="140.40" y1="951.50" x2="150.80" y2="951.50" stroke="#000" stroke-width="0.95"/>
<line x1="140.40" y1="956.50" x2="150.80" y2="956.50" stroke="#000" stroke-width="0.95"/>
<text class="s" x="76.90" y="901.35" font-size="5.768000000000001" text-anchor="middle" stroke="#000" stroke-width="0.14">0.0002</text>
<text class="s" x="76.70" y="913.25" font-size="6.608000000000001" font-weight="bold" text-anchor="middle" stroke="#000" stroke-width="0.1">***</text>
<text class="s" x="145.70" y="901.35" font-size="5.768000000000001" text-anchor="middle" stroke="#000" stroke-width="0.14">0.0020</text>
<text class="s" x="146.00" y="913.25" font-size="6.608000000000001" font-weight="bold" text-anchor="middle" stroke="#000" stroke-width="0.1">**</text>
<text class="s" x="76.90" y="987.83" font-size="6.272" font-weight="bold" text-anchor="middle" stroke="#000" stroke-width="0.1">Ve</text>
<text class="s" x="111.20" y="987.83" font-size="6.272" font-weight="bold" text-anchor="middle" stroke="#000" stroke-width="0.1">Isotype</text>
<text class="s" x="111.20" y="994.32" font-size="6.272" font-weight="bold" text-anchor="middle" stroke="#000" stroke-width="0.1">ctrl.</text>
<text class="s" x="145.60" y="987.83" font-size="6.272" font-weight="bold" text-anchor="middle" stroke="#000" stroke-width="0.1">SOF10</text>
<text class="s" x="145.60" y="994.32" font-size="6.272" font-weight="bold" text-anchor="middle" stroke="#000" stroke-width="0.1">(mFc)</text>
<line x1="99.80" y1="997.80" x2="156.00" y2="997.80" stroke="#000" stroke-width="0.8960000000000001"/>
<text class="s" x="76.90" y="1008.10" font-size="7.056" text-anchor="middle" stroke="#000" stroke-width="0.14">Wild type</text>
<text class="s" x="127.10" y="1008.10" font-size="7.056" text-anchor="middle" stroke="#000" stroke-width="0.14">Col4A3 KO</text>
<text class="r" x="216.80" y="740.40" font-size="24.6">h)</text>
<text class="r" x="301.60" y="759.60" font-size="14.1" textLength="55.6" lengthAdjust="spacingAndGlyphs">Wild type</text>
<text class="r" x="408.10" y="752.90" font-size="14.1" textLength="82.4" lengthAdjust="spacingAndGlyphs">Col4A3 KO +</text>
<text class="r" x="415.10" y="770.90" font-size="14.1" textLength="67.1" lengthAdjust="spacingAndGlyphs">Isotype ctrl.</text>
<text class="r" x="528.10" y="752.90" font-size="14.1" textLength="82.4" lengthAdjust="spacingAndGlyphs">Col4A3 KO +</text>
<text class="r" x="531.60" y="770.90" font-size="14.1" textLength="74.8" lengthAdjust="spacingAndGlyphs">SOF10(mFc)</text>
<text class="r" x="260.40" y="824.60" font-size="14.2" text-anchor="end" textLength="18.4" lengthAdjust="spacingAndGlyphs">HE</text>
<text class="r" x="260.40" y="895.10" font-size="14.2" text-anchor="end" textLength="16.6" lengthAdjust="spacingAndGlyphs">SR</text>
<text class="r" x="260.40" y="968.60" font-size="14.2" text-anchor="end" textLength="28.5" lengthAdjust="spacingAndGlyphs">PAM</text>
<rect x="271.2" y="780" width="115.6" height="66.6" fill="#888" filter="url(#he1b)"/>
<rect x="271.2" y="780" width="115.6" height="66.6" fill="#888" filter="url(#he1n)"/>
<rect x="271.2" y="780" width="115.6" height="66.6" fill="#888" filter="url(#he1c)"/>
<g clip-path="url(#cp00)">
<g filter="url(#soft)">
<ellipse cx="325.9" cy="795.0" rx="1.6" ry="1.4" fill="#F3EFF7"/>
<ellipse cx="332.3" cy="806.0" rx="0.6" ry="6.2" fill="#F3EFF7" transform="rotate(5 332.3 806.0)"/>
<ellipse cx="353.1" cy="842.1" rx="4.5" ry="2.8" fill="#F3EFF7"/>
<ellipse cx="355.8" cy="836.0" rx="1.6" ry="1.5" fill="#F3EFF7"/>
<ellipse cx="382.0" cy="796.0" rx="1.4" ry="4.5" fill="#F3EFF7" transform="rotate(8 382.0 796.0)"/>
<ellipse cx="379.6" cy="816.5" rx="1.2" ry="5" fill="#F3EFF7" transform="rotate(10 379.6 816.5)"/>
<ellipse cx="386.0" cy="803.0" rx="1.2" ry="7" fill="#F3EFF7"/>
<ellipse cx="300.0" cy="812.0" rx="0.5" ry="2.5" fill="#F3EFF7" transform="rotate(30 300.0 812.0)"/>
<ellipse cx="345.0" cy="800.0" rx="0.5" ry="2.2" fill="#F3EFF7" transform="rotate(-20 345.0 800.0)"/>
<ellipse cx="312.0" cy="833.0" rx="0.5" ry="2" fill="#F3EFF7" transform="rotate(40 312.0 833.0)"/>
<ellipse cx="366.0" cy="826.0" rx="0.5" ry="2.2" fill="#F3EFF7" transform="rotate(10 366.0 826.0)"/>
</g>
</g>
<rect x="272.0" y="844.7" width="8.8" height="1" fill="#111"/>
<rect x="391.3" y="780" width="115.6" height="66.6" fill="#888" filter="url(#he2b)"/>
<rect x="391.3" y="780" width="115.6" height="66.6" fill="#888" filter="url(#he2n)"/>
<rect x="391.3" y="780" width="115.6" height="66.6" fill="#888" filter="url(#he2c)"/>
<rect x="391.3" y="780" width="115.6" height="66.6" fill="#888" filter="url(#he2h)"/>
<g clip-path="url(#cp01)">
<g filter="url(#soft)">
<path d="M391 779.5 L400 779.5 Q404 790 401 799.5 Q396 804.5 391 803 Z" fill="#E8A8D0"/>
<ellipse cx="407.5" cy="790.0" rx="3.8" ry="7.6" fill="#E488C0" transform="rotate(-8 407.5 790.0)"/>
<ellipse cx="417.0" cy="792.3" rx="3.4" ry="2.6" fill="#E67CB6"/>
<ellipse cx="489.0" cy="791.5" rx="11.5" ry="7.6" fill="#EE5E9A" transform="rotate(-12 489.0 791.5)"/>
<ellipse cx="497.0" cy="785.0" rx="8" ry="4.6" fill="#F088B4" transform="rotate(10 497.0 785.0)"/>
<ellipse cx="470.5" cy="788.0" rx="2.2" ry="4.5" fill="#EC6CA4" transform="rotate(10 470.5 788.0)"/>
<ellipse cx="466.5" cy="783.0" rx="2.5" ry="1.6" fill="#F08CB8"/>
<ellipse cx="442.3" cy="813.1" rx="1.5" ry="1.4" fill="#F3EFF7"/>
<ellipse cx="459.5" cy="799.5" rx="1.1" ry="2.6" fill="#F3EFF7" transform="rotate(5 459.5 799.5)"/>
<ellipse cx="455.9" cy="814.9" rx="1.1" ry="3.2" fill="#F3EFF7" transform="rotate(10 455.9 814.9)"/>
<ellipse cx="440.5" cy="820.4" rx="1.6" ry="1.5" fill="#F3EFF7"/>
<ellipse cx="446.8" cy="834.8" rx="1.5" ry="1.4" fill="#F3EFF7"/>
<ellipse cx="415.2" cy="803.2" rx="3" ry="1.3" fill="#F3EFF7" transform="rotate(25 415.2 803.2)"/>
<ellipse cx="482.1" cy="814.9" rx="2.6" ry="1.1" fill="#F3EFF7" transform="rotate(20 482.1 814.9)"/>
<ellipse cx="429.6" cy="825.8" rx="0.9" ry="3.6" fill="#F3EFF7" transform="rotate(15 429.6 825.8)"/>
<ellipse cx="437.0" cy="791.0" rx="0.8" ry="2.6" fill="#F3EFF7" transform="rotate(-10 437.0 791.0)"/>
<ellipse cx="412.0" cy="829.0" rx="1.4" ry="1.1" fill="#F3EFF7"/>
<ellipse cx="421.0" cy="838.0" rx="1.5" ry="1.2" fill="#F3EFF7"/>
<ellipse cx="465.0" cy="828.0" rx="1.3" ry="1.2" fill="#F3EFF7"/>
<ellipse cx="474.0" cy="834.0" rx="1.2" ry="1.1" fill="#F3EFF7"/>
<ellipse cx="497.0" cy="836.0" rx="2.5" ry="1" fill="#F3EFF7" transform="rotate(-30 497.0 836.0)"/>
<ellipse cx="452.0" cy="841.0" rx="2.2" ry="1.8" fill="#F3EFF7"/>
<ellipse cx="426.0" cy="812.0" rx="1" ry="1" fill="#F3EFF7"/>
<ellipse cx="470.0" cy="808.0" rx="1" ry="1.3" fill="#F3EFF7"/>
<ellipse cx="490.0" cy="822.0" rx="1.1" ry="1" fill="#F3EFF7"/>
<ellipse cx="404.0" cy="816.0" rx="0.9" ry="2.2" fill="#F3EFF7"/>
<ellipse cx="448.0" cy="826.0" rx="1.2" ry="1" fill="#F3EFF7"/>
</g>
</g>
<rect x="392.1" y="844.7" width="8.8" height="1" fill="#111"/>
<rect x="511.4" y="780" width="115.6" height="66.6" fill="#888" filter="url(#he3b)"/>
<rect x="511.4" y="780" width="115.6" height="66.6" fill="#888" filter="url(#he3n)"/>
<rect x="511.4" y="780" width="115.6" height="66.6" fill="#888" filter="url(#he3c)"/>
<rect x="511.4" y="780" width="115.6" height="66.6" fill="#888" filter="url(#he3h)"/>
<g clip-path="url(#cp02)">
<g filter="url(#soft)">
<ellipse cx="598.5" cy="805.9" rx="2.3" ry="2.1" fill="#F3EFF7"/>
<ellipse cx="577.7" cy="816.7" rx="1.9" ry="3" fill="#F3EFF7" transform="rotate(20 577.7 816.7)"/>
<ellipse cx="587.7" cy="823.4" rx="3" ry="1.4" fill="#F3EFF7" transform="rotate(15 587.7 823.4)"/>
<ellipse cx="533.3" cy="786.9" rx="1.5" ry="3.2" fill="#F3EFF7" transform="rotate(20 533.3 786.9)"/>
<ellipse cx="514.3" cy="818.5" rx="3" ry="1.4" fill="#F3EFF7"/>
<ellipse cx="604.9" cy="840.3" rx="2.5" ry="2.2" fill="#F3EFF7"/>
<ellipse cx="513.4" cy="841.2" rx="2.4" ry="2" fill="#F3EFF7"/>
<ellipse cx="549.0" cy="807.0" rx="2.2" ry="1" fill="#F3EFF7" transform="rotate(-30 549.0 807.0)"/>
<ellipse cx="560.0" cy="795.0" rx="2.4" ry="0.9" fill="#F3EFF7" transform="rotate(20 560.0 795.0)"/>
<ellipse cx="556.0" cy="803.0" rx="1.5" ry="1.3" fill="#F3EFF7"/>
<ellipse cx="571.0" cy="801.0" rx="0.9" ry="2.6" fill="#F3EFF7" transform="rotate(30 571.0 801.0)"/>
<ellipse cx="538.0" cy="812.0" rx="2" ry="0.9" fill="#F3EFF7" transform="rotate(-35 538.0 812.0)"/>
<ellipse cx="592.0" cy="787.0" rx="0.9" ry="2.4" fill="#F3EFF7" transform="rotate(-10 592.0 787.0)"/>
<ellipse cx="606.0" cy="786.0" rx="1" ry="2.4" fill="#F3EFF7" transform="rotate(10 606.0 786.0)"/>
<ellipse cx="613.0" cy="820.0" rx="0.9" ry="2.2" fill="#F3EFF7"/>
<ellipse cx="584.0" cy="838.0" rx="1.5" ry="1.2" fill="#F3EFF7"/>
<ellipse cx="545.0" cy="835.0" rx="2.2" ry="0.9" fill="#F3EFF7" transform="rotate(-20 545.0 835.0)"/>
<ellipse cx="566.0" cy="829.0" rx="1.3" ry="1.2" fill="#F3EFF7"/>
<ellipse cx="620.0" cy="800.0" rx="1" ry="1.2" fill="#F3EFF7"/>
<ellipse cx="527.0" cy="829.0" rx="1" ry="2" fill="#F3EFF7" transform="rotate(20 527.0 829.0)"/>
<ellipse cx="518.9" cy="826.0" rx="2" ry="3.6" fill="#E8A8D4"/>
<ellipse cx="526.0" cy="833.0" rx="1.5" ry="3" fill="#E8A8D4" transform="rotate(30 526.0 833.0)"/>
<ellipse cx="517.0" cy="808.0" rx="1.4" ry="2.4" fill="#ECB8DC"/>
</g>
</g>
<rect x="512.2" y="844.7" width="8.8" height="1" fill="#111"/>
<rect x="271.2" y="853" width="115.6" height="66.6" fill="#888" filter="url(#sr1b)"/>
<rect x="271.2" y="853" width="115.6" height="66.6" fill="#888" filter="url(#sr1r)"/>
<rect x="271.2" y="853" width="115.6" height="66.6" fill="#888" filter="url(#sr1c)"/>
<g clip-path="url(#cp10)">
<g filter="url(#soft)">
<path d="M283.4 878 Q290 882 295.2 887 T306.9 903.3" fill="none" stroke="#D8607C" stroke-width="0.6" opacity="0.7"/>
<path d="M276 890 Q281 896 279 905" fill="none" stroke="#D8607C" stroke-width="0.5" opacity="0.6"/>
<ellipse cx="288.3" cy="883.8" rx="2.6" ry="3.4" fill="#F3EFF7" transform="rotate(-20 288.3 883.8)"/>
<ellipse cx="279.2" cy="886.1" rx="1.5" ry="2.7" fill="#F3EFF7" transform="rotate(10 279.2 886.1)"/>
<ellipse cx="276.1" cy="897.5" rx="1.3" ry="1.5" fill="#F3EFF7"/>
<ellipse cx="330.5" cy="893.4" rx="0.9" ry="2.6" fill="#F3EFF7"/>
<ellipse cx="343.1" cy="900.6" rx="1.4" ry="2.1" fill="#F3EFF7"/>
<ellipse cx="306.9" cy="905.1" rx="1.3" ry="1.3" fill="#F3EFF7"/>
<ellipse cx="347.7" cy="909.6" rx="1.3" ry="1.3" fill="#F3EFF7"/>
<ellipse cx="305.0" cy="870.0" rx="0.5" ry="1.6" fill="#F3EFF7" transform="rotate(20 305.0 870.0)"/>
<ellipse cx="320.0" cy="880.0" rx="0.5" ry="1.8" fill="#F3EFF7" transform="rotate(-30 320.0 880.0)"/>
<ellipse cx="352.0" cy="885.0" rx="0.5" ry="1.6" fill="#F3EFF7" transform="rotate(10 352.0 885.0)"/>
<ellipse cx="362.0" cy="896.0" rx="0.5" ry="1.8" fill="#F3EFF7" transform="rotate(40 362.0 896.0)"/>
<ellipse cx="372.0" cy="890.0" rx="0.5" ry="1.5" fill="#F3EFF7"/>
<ellipse cx="338.0" cy="872.0" rx="0.5" ry="1.5" fill="#F3EFF7" transform="rotate(60 338.0 872.0)"/>
<ellipse cx="296.0" cy="900.0" rx="0.5" ry="1.5" fill="#F3EFF7" transform="rotate(-20 296.0 900.0)"/>
<ellipse cx="318.0" cy="908.0" rx="0.5" ry="1.6" fill="#F3EFF7" transform="rotate(30 318.0 908.0)"/>
<ellipse cx="360.0" cy="905.0" rx="0.5" ry="1.6" fill="#F3EFF7" transform="rotate(-40 360.0 905.0)"/>
<ellipse cx="380.0" cy="880.0" rx="0.5" ry="1.5" fill="#F3EFF7"/>
<path d="M373 920 Q381 918.6 388 914.2 L388 920 Z" fill="#ECE8F2"/>
</g>
</g>
<rect x="272.0" y="917.7" width="8.8" height="1" fill="#111"/>
<rect x="391.3" y="853" width="115.6" height="66.6" fill="#888" filter="url(#sr2b)"/>
<rect x="391.3" y="853" width="115.6" height="66.6" fill="#888" filter="url(#sr2w)"/>
<rect x="391.3" y="853" width="115.6" height="66.6" fill="#888" filter="url(#sr2c)"/>
<g clip-path="url(#cp11)">
<g filter="url(#soft)">
<path d="M391 852.5 L409.5 852.5 Q402 857.5 397 859 Q393 860 391 862.5 Z" fill="#ECE9F2"/>
<path d="M474.5 852.5 L507 852.5 L507 872 L501.1 870.9 Q497 869.5 496.4 866 Q496.6 860.5 490 860 Q484.6 861 482.6 866 Q477.5 863.5 475.8 857.1 Z" fill="#EEEBF4"/>
<path d="M496.4 866 Q496.6 860.5 490 860 Q484.6 861 482.6 866" fill="none" stroke="#E0607C" stroke-width="0.7"/>
<ellipse cx="499.3" cy="861.6" rx="3.5" ry="4.1" fill="#E6DE74" transform="rotate(-20 499.3 861.6)"/>
<ellipse cx="499.3" cy="861.6" rx="3.7" ry="4.3" transform="rotate(-20 499.3 861.6)" fill="none" stroke="#E07088" stroke-width="0.5"/>
<path d="M480 920 Q495 914 507 902.5 L507 920 Z" fill="#ECE9F2"/>
<path d="M391 918.6 L482 918.6 L482 920 L391 920 Z" fill="#ECE9F2" opacity="0.7"/>
<ellipse cx="433.3" cy="900.8" rx="1.9" ry="3.8" fill="#F3EFF7"/>
<ellipse cx="433.3" cy="900.8" rx="2.2" ry="4.1" fill="none" stroke="#E06080" stroke-width="0.5"/>
<ellipse cx="436.0" cy="889.0" rx="1.2" ry="2.2" fill="#F0E8EC"/>
</g>
<path d="M412.5 872.2V879.0M409.9 874.0L415.1 877.2M409.9 877.2L415.1 874.0" stroke="#241018" stroke-width="1.15" stroke-linecap="round" fill="none"/>
<path d="M488.3 903.2V910.0M485.7 905.0L490.90000000000003 908.2M485.7 908.2L490.90000000000003 905.0" stroke="#241018" stroke-width="1.15" stroke-linecap="round" fill="none"/>
</g>
<rect x="392.1" y="917.7" width="8.8" height="1" fill="#111"/>
<rect x="511.4" y="853" width="115.6" height="66.6" fill="#888" filter="url(#sr3b)"/>
<rect x="511.4" y="853" width="115.6" height="66.6" fill="#888" filter="url(#sr3c)"/>
<rect x="511.4" y="853" width="115.6" height="66.6" fill="#888" filter="url(#sr3h)"/>
<g clip-path="url(#cp12)">
<g filter="url(#soft)">
<ellipse cx="518.0" cy="898.8" rx="3.8" ry="5" fill="#F0D2B2" transform="rotate(10 518.0 898.8)"/>
<ellipse cx="525.2" cy="906.9" rx="2.5" ry="3" fill="#F0D2B2"/>
<ellipse cx="517.0" cy="911.0" rx="4" ry="2.8" fill="#F0D2B2"/>
<ellipse cx="514.3" cy="873.4" rx="2" ry="2.5" fill="#F3EFF7"/>
<ellipse cx="527.9" cy="877.1" rx="2.4" ry="3.4" fill="#F3EFF7" transform="rotate(15 527.9 877.1)"/>
<ellipse cx="541.5" cy="883.4" rx="0.9" ry="4" fill="#F3EFF7" transform="rotate(5 541.5 883.4)"/>
<ellipse cx="556.9" cy="870.7" rx="4" ry="1.1" fill="#F3EFF7" transform="rotate(30 556.9 870.7)"/>
<ellipse cx="566.8" cy="861.7" rx="4" ry="1.1" fill="#F3EFF7" transform="rotate(25 566.8 861.7)"/>
<ellipse cx="596.7" cy="860.8" rx="3" ry="1.3" fill="#F3EFF7" transform="rotate(-25 596.7 860.8)"/>
<ellipse cx="613.9" cy="878.9" rx="1.4" ry="3" fill="#F3EFF7"/>
<ellipse cx="548.7" cy="898.8" rx="1.4" ry="4" fill="#F3EFF7" transform="rotate(10 548.7 898.8)"/>
<ellipse cx="535.2" cy="900.6" rx="0.9" ry="4" fill="#F3EFF7" transform="rotate(10 535.2 900.6)"/>
<ellipse cx="568.6" cy="901.5" rx="1.4" ry="3.4" fill="#F3EFF7" transform="rotate(-15 568.6 901.5)"/>
<ellipse cx="550.5" cy="911.5" rx="2" ry="2.5" fill="#F3EFF7"/>
<ellipse cx="585.8" cy="911.5" rx="1.4" ry="3" fill="#F3EFF7" transform="rotate(-20 585.8 911.5)"/>
<ellipse cx="606.7" cy="905.1" rx="2.5" ry="1.4" fill="#F3EFF7"/>
<ellipse cx="553.3" cy="887.0" rx="1.5" ry="1.4" fill="#F3EFF7"/>
<ellipse cx="516.0" cy="858.0" rx="1.5" ry="1.2" fill="#F3EFF7"/>
<ellipse cx="537.0" cy="862.0" rx="1.8" ry="1" fill="#F3EFF7" transform="rotate(20 537.0 862.0)"/>
<ellipse cx="578.0" cy="874.0" rx="1" ry="2" fill="#F3EFF7"/>
<ellipse cx="590.0" cy="886.0" rx="1.2" ry="1" fill="#F3EFF7"/>
<ellipse cx="602.0" cy="893.0" rx="2" ry="0.9" fill="#F3EFF7" transform="rotate(30 602.0 893.0)"/>
<ellipse cx="621.0" cy="865.0" rx="1" ry="1.5" fill="#F3EFF7"/>
<ellipse cx="574.0" cy="890.0" rx="0.9" ry="2" fill="#F3EFF7" transform="rotate(30 574.0 890.0)"/>
<ellipse cx="561.0" cy="880.0" rx="1.4" ry="0.9" fill="#F3EFF7"/>
</g>
</g>
<rect x="512.2" y="917.7" width="8.8" height="1" fill="#111"/>
<rect x="271.2" y="927" width="115.6" height="66.6" fill="#888" filter="url(#pm1b)"/>
<rect x="271.2" y="927" width="115.6" height="66.6" fill="#888" filter="url(#pm1w)"/>
<rect x="271.2" y="927" width="115.6" height="66.6" fill="#888" filter="url(#pm1d)"/>
<g clip-path="url(#cp20)">
<g filter="url(#soft)">
<path d="M327.7 939 Q333 950 337 958 T341.5 975 Q342 984 342.5 992" fill="none" stroke="#ECD4EA" stroke-width="1" opacity="0.9"/>
<ellipse cx="289.7" cy="941.1" rx="5" ry="1.1" fill="#F4E8F4" transform="rotate(30 289.7 941.1)"/>
<ellipse cx="294.0" cy="946.0" rx="3" ry="0.8" fill="#F4E8F4" transform="rotate(50 294.0 946.0)"/>
<circle cx="310.0" cy="939.3" r="5.5" fill="none" stroke="#2A0C30" stroke-width="0.6" opacity="0.8"/>
<circle cx="310.0" cy="939.3" r="5.2" fill="#84448A"/>
<circle cx="310.2" cy="942.3" r="0.80" fill="#2A0C32" opacity="0.79"/>
<circle cx="309.3" cy="938.6" r="0.61" fill="#2A0C32" opacity="0.88"/>
<circle cx="309.9" cy="941.3" r="1.15" fill="#2A0C32" opacity="0.74"/>
<circle cx="311.4" cy="936.9" r="0.95" fill="#2A0C32" opacity="0.61"/>
<circle cx="307.5" cy="936.5" r="0.89" fill="#2A0C32" opacity="0.85"/>
<circle cx="309.5" cy="938.4" r="1.02" fill="#2A0C32" opacity="0.79"/>
<circle cx="309.8" cy="940.0" r="1.08" fill="#2A0C32" opacity="0.74"/>
<circle cx="309.3" cy="935.6" r="0.99" fill="#2A0C32" opacity="0.92"/>
<circle cx="307.1" cy="941.5" r="0.84" fill="#2A0C32" opacity="0.92"/>
<circle cx="310.9" cy="938.4" r="0.67" fill="#2A0C32" opacity="0.64"/>
<circle cx="312.6" cy="938.7" r="0.94" fill="#2A0C32" opacity="0.67"/>
<circle cx="307.5" cy="939.2" r="0.79" fill="#2A0C32" opacity="0.78"/>
<circle cx="306.7" cy="937.4" r="0.98" fill="#2A0C32" opacity="0.92"/>
<circle cx="312.5" cy="936.1" r="0.97" fill="#2A0C32" opacity="0.62"/>
<circle cx="312.6" cy="936.2" r="1.10" fill="#2A0C32" opacity="0.78"/>
<circle cx="309.6" cy="937.5" r="1.06" fill="#2A0C32" opacity="0.78"/>
<circle cx="309.8" cy="940.3" r="1.07" fill="#2A0C32" opacity="0.95"/>
<circle cx="313.1" cy="941.2" r="0.83" fill="#2A0C32" opacity="0.61"/>
<circle cx="309.0" cy="942.7" r="1.08" fill="#2A0C32" opacity="0.57"/>
<circle cx="309.4" cy="938.7" r="1.00" fill="#2A0C32" opacity="0.68"/>
<circle cx="313.0" cy="936.5" r="0.55" fill="#E8C8E8" opacity="0.7"/>
<circle cx="312.3" cy="939.3" r="0.42" fill="#E8C8E8" opacity="0.7"/>
<circle cx="309.4" cy="938.9" r="0.46" fill="#E8C8E8" opacity="0.7"/>
<circle cx="307.3" cy="941.1" r="0.45" fill="#E8C8E8" opacity="0.7"/>
<circle cx="313.7" cy="940.3" r="0.49" fill="#E8C8E8" opacity="0.7"/>
<circle cx="313.8" cy="938.3" r="0.51" fill="#E8C8E8" opacity="0.7"/>
<circle cx="307.1" cy="940.0" r="0.59" fill="#E8C8E8" opacity="0.7"/>
<circle cx="293.3" cy="964.6" r="5.3" fill="none" stroke="#2A0C30" stroke-width="0.6" opacity="0.8"/>
<circle cx="293.3" cy="964.6" r="5.0" fill="#84448A"/>
<circle cx="293.4" cy="965.8" r="0.82" fill="#2A0C32" opacity="0.61"/>
<circle cx="295.6" cy="965.6" r="1.10" fill="#2A0C32" opacity="0.87"/>
<circle cx="293.5" cy="962.8" r="0.90" fill="#2A0C32" opacity="0.66"/>
<circle cx="293.9" cy="965.7" r="0.72" fill="#2A0C32" opacity="0.92"/>
<circle cx="295.0" cy="961.5" r="1.04" fill="#2A0C32" opacity="0.63"/>
<circle cx="292.2" cy="967.5" r="1.00" fill="#2A0C32" opacity="0.89"/>
<circle cx="294.1" cy="963.8" r="0.93" fill="#2A0C32" opacity="0.82"/>
<circle cx="291.7" cy="964.5" r="0.86" fill="#2A0C32" opacity="0.59"/>
<circle cx="296.6" cy="963.1" r="0.90" fill="#2A0C32" opacity="0.67"/>
<circle cx="295.8" cy="963.0" r="1.09" fill="#2A0C32" opacity="0.89"/>
<circle cx="290.8" cy="964.5" r="0.93" fill="#2A0C32" opacity="0.72"/>
<circle cx="294.4" cy="966.4" r="1.05" fill="#2A0C32" opacity="0.57"/>
<circle cx="296.3" cy="965.5" r="0.75" fill="#2A0C32" opacity="0.76"/>
<circle cx="291.1" cy="965.0" r="1.15" fill="#2A0C32" opacity="0.63"/>
<circle cx="291.8" cy="965.5" r="0.95" fill="#2A0C32" opacity="0.66"/>
<circle cx="291.2" cy="967.3" r="0.78" fill="#2A0C32" opacity="0.77"/>
<circle cx="294.3" cy="963.9" r="0.63" fill="#2A0C32" opacity="0.64"/>
<circle cx="293.6" cy="961.6" r="0.73" fill="#2A0C32" opacity="0.68"/>
<circle cx="294.5" cy="967.0" r="0.41" fill="#E8C8E8" opacity="0.7"/>
<circle cx="292.1" cy="961.0" r="0.69" fill="#E8C8E8" opacity="0.7"/>
<circle cx="292.9" cy="960.7" r="0.41" fill="#E8C8E8" opacity="0.7"/>
<circle cx="292.3" cy="968.4" r="0.63" fill="#E8C8E8" opacity="0.7"/>
<circle cx="290.0" cy="966.7" r="0.59" fill="#E8C8E8" opacity="0.7"/>
<circle cx="294.2" cy="962.6" r="0.46" fill="#E8C8E8" opacity="0.7"/>
<circle cx="325.0" cy="973.7" r="5.5" fill="none" stroke="#2A0C30" stroke-width="0.6" opacity="0.8"/>
<circle cx="325.0" cy="973.7" r="5.2" fill="#84448A"/>
<circle cx="322.5" cy="971.3" r="1.04" fill="#2A0C32" opacity="0.93"/>
<circle cx="324.8" cy="969.8" r="0.62" fill="#2A0C32" opacity="0.74"/>
<circle cx="328.1" cy="972.6" r="1.10" fill="#2A0C32" opacity="0.60"/>
<circle cx="323.0" cy="974.1" r="0.90" fill="#2A0C32" opacity="0.78"/>
<circle cx="326.9" cy="973.9" r="0.75" fill="#2A0C32" opacity="0.92"/>
<circle cx="325.2" cy="972.1" r="1.04" fill="#2A0C32" opacity="0.61"/>
<circle cx="323.9" cy="972.7" r="0.60" fill="#2A0C32" opacity="0.90"/>
<circle cx="325.5" cy="975.5" r="1.14" fill="#2A0C32" opacity="0.90"/>
<circle cx="324.0" cy="977.6" r="0.90" fill="#2A0C32" opacity="0.82"/>
<circle cx="326.1" cy="977.5" r="0.98" fill="#2A0C32" opacity="0.94"/>
<circle cx="326.7" cy="972.3" r="0.80" fill="#2A0C32" opacity="0.62"/>
<circle cx="325.6" cy="974.5" r="0.77" fill="#2A0C32" opacity="0.79"/>
<circle cx="328.3" cy="973.8" r="0.79" fill="#2A0C32" opacity="0.67"/>
<circle cx="326.2" cy="971.1" r="0.77" fill="#2A0C32" opacity="0.74"/>
<circle cx="324.7" cy="972.8" r="1.14" fill="#2A0C32" opacity="0.56"/>
<circle cx="325.0" cy="970.0" r="0.61" fill="#2A0C32" opacity="0.87"/>
<circle cx="322.9" cy="976.0" r="0.60" fill="#2A0C32" opacity="0.57"/>
<circle cx="326.7" cy="977.3" r="0.71" fill="#2A0C32" opacity="0.85"/>
<circle cx="328.6" cy="972.0" r="0.79" fill="#2A0C32" opacity="0.69"/>
<circle cx="321.5" cy="973.1" r="0.66" fill="#2A0C32" opacity="0.85"/>
<circle cx="326.1" cy="970.0" r="0.41" fill="#E8C8E8" opacity="0.7"/>
<circle cx="326.2" cy="973.3" r="0.50" fill="#E8C8E8" opacity="0.7"/>
<circle cx="321.9" cy="971.1" r="0.50" fill="#E8C8E8" opacity="0.7"/>
<circle cx="327.7" cy="972.3" r="0.49" fill="#E8C8E8" opacity="0.7"/>
<circle cx="324.3" cy="975.3" r="0.42" fill="#E8C8E8" opacity="0.7"/>
<circle cx="327.0" cy="976.5" r="0.70" fill="#E8C8E8" opacity="0.7"/>
<circle cx="325.5" cy="974.5" r="0.70" fill="#E8C8E8" opacity="0.7"/>
<circle cx="364.9" cy="945.6" r="5.3" fill="none" stroke="#2A0C30" stroke-width="0.6" opacity="0.8"/>
<circle cx="364.9" cy="945.6" r="5.0" fill="#84448A"/>
<circle cx="365.9" cy="942.2" r="0.87" fill="#2A0C32" opacity="0.65"/>
<circle cx="368.1" cy="945.6" r="0.86" fill="#2A0C32" opacity="0.85"/>
<circle cx="362.5" cy="948.0" r="0.75" fill="#2A0C32" opacity="0.87"/>
<circle cx="364.6" cy="943.1" r="0.90" fill="#2A0C32" opacity="0.82"/>
<circle cx="365.9" cy="948.3" r="1.04" fill="#2A0C32" opacity="0.66"/>
<circle cx="366.0" cy="942.6" r="1.06" fill="#2A0C32" opacity="0.68"/>
<circle cx="367.8" cy="947.5" r="1.04" fill="#2A0C32" opacity="0.73"/>
<circle cx="366.3" cy="946.6" r="0.95" fill="#2A0C32" opacity="0.67"/>
<circle cx="367.8" cy="944.7" r="0.71" fill="#2A0C32" opacity="0.81"/>
<circle cx="362.5" cy="948.5" r="1.10" fill="#2A0C32" opacity="0.76"/>
<circle cx="362.9" cy="943.0" r="1.04" fill="#2A0C32" opacity="0.94"/>
<circle cx="367.2" cy="946.0" r="0.93" fill="#2A0C32" opacity="0.67"/>
<circle cx="363.9" cy="945.0" r="1.08" fill="#2A0C32" opacity="0.76"/>
<circle cx="367.3" cy="947.7" r="0.77" fill="#2A0C32" opacity="0.63"/>
<circle cx="363.5" cy="945.7" r="0.72" fill="#2A0C32" opacity="0.90"/>
<circle cx="364.8" cy="945.2" r="1.03" fill="#2A0C32" opacity="0.56"/>
<circle cx="363.1" cy="948.8" r="0.94" fill="#2A0C32" opacity="0.67"/>
<circle cx="363.2" cy="947.3" r="0.67" fill="#2A0C32" opacity="0.95"/>
<circle cx="367.4" cy="946.5" r="0.62" fill="#E8C8E8" opacity="0.7"/>
<circle cx="361.7" cy="948.0" r="0.47" fill="#E8C8E8" opacity="0.7"/>
<circle cx="368.6" cy="945.1" r="0.60" fill="#E8C8E8" opacity="0.7"/>
<circle cx="367.0" cy="943.9" r="0.65" fill="#E8C8E8" opacity="0.7"/>
<circle cx="365.7" cy="942.8" r="0.54" fill="#E8C8E8" opacity="0.7"/>
<circle cx="364.2" cy="943.1" r="0.43" fill="#E8C8E8" opacity="0.7"/>
<circle cx="369.4" cy="980.9" r="4.9" fill="none" stroke="#2A0C30" stroke-width="0.6" opacity="0.8"/>
<circle cx="369.4" cy="980.9" r="4.6" fill="#84448A"/>
<circle cx="368.8" cy="982.1" r="0.96" fill="#2A0C32" opacity="0.58"/>
<circle cx="367.3" cy="980.4" r="0.63" fill="#2A0C32" opacity="0.75"/>
<circle cx="371.7" cy="981.5" r="0.64" fill="#2A0C32" opacity="0.59"/>
<circle cx="366.5" cy="982.4" r="0.67" fill="#2A0C32" opacity="0.64"/>
<circle cx="367.0" cy="978.4" r="0.92" fill="#2A0C32" opacity="0.71"/>
<circle cx="370.2" cy="980.8" r="1.07" fill="#2A0C32" opacity="0.67"/>
<circle cx="370.2" cy="981.9" r="0.77" fill="#2A0C32" opacity="0.88"/>
<circle cx="370.6" cy="983.4" r="0.95" fill="#2A0C32" opacity="0.70"/>
<circle cx="368.5" cy="980.6" r="0.63" fill="#2A0C32" opacity="0.63"/>
<circle cx="368.4" cy="978.8" r="0.77" fill="#2A0C32" opacity="0.78"/>
<circle cx="367.5" cy="981.5" r="1.04" fill="#2A0C32" opacity="0.83"/>
<circle cx="369.5" cy="983.6" r="0.89" fill="#2A0C32" opacity="0.90"/>
<circle cx="369.2" cy="979.0" r="1.14" fill="#2A0C32" opacity="0.60"/>
<circle cx="366.7" cy="982.4" r="0.68" fill="#2A0C32" opacity="0.75"/>
<circle cx="372.2" cy="981.6" r="1.02" fill="#2A0C32" opacity="0.78"/>
<circle cx="370.9" cy="979.4" r="0.61" fill="#E8C8E8" opacity="0.7"/>
<circle cx="367.1" cy="979.3" r="0.54" fill="#E8C8E8" opacity="0.7"/>
<circle cx="371.3" cy="977.9" r="0.54" fill="#E8C8E8" opacity="0.7"/>
<circle cx="368.9" cy="980.1" r="0.61" fill="#E8C8E8" opacity="0.7"/>
<circle cx="367.2" cy="978.0" r="0.65" fill="#E8C8E8" opacity="0.7"/>
<path d="M288.6 962.5 A5.4 5.4 0 0 1 296.5 960.2" fill="none" stroke="#F6EEF6" stroke-width="0.9"/>
<circle cx="369.4" cy="980.9" r="5.1" fill="none" stroke="#F2E6F2" stroke-width="0.7"/>
</g>
</g>
<rect x="272.0" y="991.7" width="8.8" height="1" fill="#111"/>
<rect x="391.3" y="927" width="115.6" height="66.6" fill="#888" filter="url(#pm2b)"/>
<rect x="391.3" y="927" width="115.6" height="66.6" fill="#888" filter="url(#pm2w)"/>
<rect x="391.3" y="927" width="115.6" height="66.6" fill="#888" filter="url(#pm2d)"/>
<g clip-path="url(#cp21)">
<g filter="url(#soft)">
<ellipse cx="481.2" cy="939.3" rx="3.6" ry="4.8" fill="#F2E4F0" transform="rotate(-20 481.2 939.3)"/>
<ellipse cx="483.0" cy="946.8" rx="3" ry="1.8" fill="#F4ECF4"/>
<ellipse cx="426.0" cy="936.6" rx="1.5" ry="1.5" fill="#F3EFF7"/>
<ellipse cx="395.2" cy="961.0" rx="2" ry="3" fill="#F3EFF7"/>
<ellipse cx="394.3" cy="970.1" rx="3.4" ry="2.8" fill="#ECD0E6"/>
<ellipse cx="467.7" cy="952.0" rx="2" ry="1.4" fill="#F3EFF7"/>
<ellipse cx="457.7" cy="950.2" rx="2" ry="1" fill="#F3EFF7"/>
<ellipse cx="500.0" cy="965.0" rx="1.5" ry="4" fill="#E0A0D0" transform="rotate(10 500.0 965.0)"/>
<ellipse cx="420.0" cy="985.0" rx="3" ry="1.2" fill="#F3EFF7" transform="rotate(-20 420.0 985.0)"/>
<circle cx="410.6" cy="962.8" r="6.9" fill="#F4ECF6" opacity="1"/>
<circle cx="410.6" cy="962.8" r="7.4" fill="none" stroke="#3A1844" stroke-width="0.5" opacity="0.7"/>
<circle cx="410.6" cy="963.1" r="5.8" fill="#84448A"/>
<circle cx="413.3" cy="961.7" r="0.88" fill="#2A0C32" opacity="0.78"/>
<circle cx="411.8" cy="966.1" r="0.95" fill="#2A0C32" opacity="0.87"/>
<circle cx="412.6" cy="964.5" r="0.65" fill="#2A0C32" opacity="0.87"/>
<circle cx="410.2" cy="962.3" r="1.14" fill="#2A0C32" opacity="0.94"/>
<circle cx="408.5" cy="960.2" r="0.69" fill="#2A0C32" opacity="0.56"/>
<circle cx="409.5" cy="962.9" r="0.70" fill="#2A0C32" opacity="0.65"/>
<circle cx="413.6" cy="963.7" r="0.84" fill="#2A0C32" opacity="0.89"/>
<circle cx="407.0" cy="962.7" r="0.87" fill="#2A0C32" opacity="0.81"/>
<circle cx="408.3" cy="963.8" r="1.15" fill="#2A0C32" opacity="0.95"/>
<circle cx="412.6" cy="959.9" r="0.77" fill="#2A0C32" opacity="0.64"/>
<circle cx="410.3" cy="964.3" r="1.02" fill="#2A0C32" opacity="0.71"/>
<circle cx="412.2" cy="960.8" r="1.13" fill="#2A0C32" opacity="0.89"/>
<circle cx="412.6" cy="963.1" r="1.10" fill="#2A0C32" opacity="0.74"/>
<circle cx="413.4" cy="962.8" r="0.64" fill="#2A0C32" opacity="0.80"/>
<circle cx="411.0" cy="960.8" r="0.65" fill="#2A0C32" opacity="0.68"/>
<circle cx="414.4" cy="962.3" r="0.66" fill="#2A0C32" opacity="0.65"/>
<circle cx="411.4" cy="963.8" r="1.04" fill="#2A0C32" opacity="0.62"/>
<circle cx="407.7" cy="962.0" r="0.70" fill="#2A0C32" opacity="0.84"/>
<circle cx="413.0" cy="965.8" r="0.66" fill="#2A0C32" opacity="0.72"/>
<circle cx="411.1" cy="965.4" r="1.13" fill="#2A0C32" opacity="0.87"/>
<circle cx="409.1" cy="967.1" r="0.72" fill="#2A0C32" opacity="0.71"/>
<circle cx="412.8" cy="960.3" r="0.66" fill="#2A0C32" opacity="0.95"/>
<circle cx="411.1" cy="965.4" r="1.02" fill="#2A0C32" opacity="0.68"/>
<circle cx="410.2" cy="964.3" r="0.65" fill="#2A0C32" opacity="0.78"/>
<circle cx="410.7" cy="966.6" r="0.80" fill="#2A0C32" opacity="0.73"/>
<circle cx="413.7" cy="962.3" r="0.57" fill="#E8C8E8" opacity="0.7"/>
<circle cx="411.9" cy="961.7" r="0.45" fill="#E8C8E8" opacity="0.7"/>
<circle cx="414.1" cy="960.9" r="0.47" fill="#E8C8E8" opacity="0.7"/>
<circle cx="412.0" cy="966.8" r="0.68" fill="#E8C8E8" opacity="0.7"/>
<circle cx="412.0" cy="967.4" r="0.66" fill="#E8C8E8" opacity="0.7"/>
<circle cx="408.2" cy="961.3" r="0.43" fill="#E8C8E8" opacity="0.7"/>
<circle cx="415.0" cy="964.2" r="0.47" fill="#E8C8E8" opacity="0.7"/>
<circle cx="409.9" cy="960.9" r="0.65" fill="#E8C8E8" opacity="0.7"/>
<circle cx="429.6" cy="948.3" r="6.8" fill="none" stroke="#2A0C30" stroke-width="0.6" opacity="0.8"/>
<circle cx="429.6" cy="948.3" r="6.5" fill="#84448A"/>
<circle cx="425.5" cy="949.0" r="0.97" fill="#2A0C32" opacity="0.61"/>
<circle cx="432.7" cy="948.5" r="0.75" fill="#2A0C32" opacity="0.87"/>
<circle cx="428.2" cy="944.6" r="0.91" fill="#2A0C32" opacity="0.81"/>
<circle cx="431.7" cy="951.0" r="0.69" fill="#2A0C32" opacity="0.91"/>
<circle cx="433.9" cy="950.0" r="0.64" fill="#2A0C32" opacity="0.82"/>
<circle cx="427.9" cy="951.1" r="1.06" fill="#2A0C32" opacity="0.56"/>
<circle cx="434.1" cy="950.1" r="0.88" fill="#2A0C32" opacity="0.59"/>
<circle cx="434.5" cy="947.9" r="0.66" fill="#2A0C32" opacity="0.72"/>
<circle cx="431.5" cy="950.4" r="0.94" fill="#2A0C32" opacity="0.62"/>
<circle cx="429.2" cy="947.2" r="0.69" fill="#2A0C32" opacity="0.88"/>
<circle cx="426.9" cy="950.2" r="0.93" fill="#2A0C32" opacity="0.74"/>
<circle cx="428.9" cy="948.9" r="1.00" fill="#2A0C32" opacity="0.94"/>
<circle cx="433.7" cy="947.7" r="0.80" fill="#2A0C32" opacity="0.70"/>
<circle cx="428.1" cy="944.4" r="0.66" fill="#2A0C32" opacity="0.64"/>
<circle cx="427.2" cy="951.0" r="1.05" fill="#2A0C32" opacity="0.75"/>
<circle cx="434.1" cy="949.1" r="0.84" fill="#2A0C32" opacity="0.76"/>
<circle cx="430.2" cy="951.6" r="0.81" fill="#2A0C32" opacity="0.86"/>
<circle cx="432.6" cy="950.6" r="0.70" fill="#2A0C32" opacity="0.83"/>
<circle cx="432.2" cy="948.9" r="0.79" fill="#2A0C32" opacity="0.80"/>
<circle cx="432.9" cy="949.4" r="0.71" fill="#2A0C32" opacity="0.66"/>
<circle cx="424.7" cy="949.0" r="0.86" fill="#2A0C32" opacity="0.93"/>
<circle cx="432.0" cy="952.5" r="0.80" fill="#2A0C32" opacity="0.63"/>
<circle cx="429.6" cy="943.5" r="0.60" fill="#2A0C32" opacity="0.66"/>
<circle cx="430.0" cy="945.4" r="0.73" fill="#2A0C32" opacity="0.55"/>
<circle cx="433.5" cy="949.3" r="1.14" fill="#2A0C32" opacity="0.95"/>
<circle cx="428.8" cy="948.3" r="0.78" fill="#2A0C32" opacity="0.86"/>
<circle cx="431.6" cy="944.8" r="0.73" fill="#2A0C32" opacity="0.76"/>
<circle cx="425.6" cy="948.9" r="0.74" fill="#2A0C32" opacity="0.93"/>
<circle cx="431.2" cy="947.0" r="0.76" fill="#2A0C32" opacity="0.90"/>
<circle cx="428.7" cy="953.1" r="0.88" fill="#2A0C32" opacity="0.83"/>
<circle cx="428.9" cy="946.0" r="0.76" fill="#2A0C32" opacity="0.65"/>
<circle cx="427.8" cy="944.3" r="0.44" fill="#E8C8E8" opacity="0.7"/>
<circle cx="432.1" cy="946.1" r="0.47" fill="#E8C8E8" opacity="0.7"/>
<circle cx="424.9" cy="950.3" r="0.57" fill="#E8C8E8" opacity="0.7"/>
<circle cx="426.1" cy="944.8" r="0.69" fill="#E8C8E8" opacity="0.7"/>
<circle cx="429.8" cy="944.9" r="0.58" fill="#E8C8E8" opacity="0.7"/>
<circle cx="433.4" cy="945.6" r="0.57" fill="#E8C8E8" opacity="0.7"/>
<circle cx="427.8" cy="950.9" r="0.62" fill="#E8C8E8" opacity="0.7"/>
<circle cx="429.0" cy="948.0" r="0.61" fill="#E8C8E8" opacity="0.7"/>
<circle cx="433.4" cy="945.7" r="0.67" fill="#E8C8E8" opacity="0.7"/>
<circle cx="432.8" cy="946.3" r="0.64" fill="#E8C8E8" opacity="0.7"/>
<circle cx="455.0" cy="971.9" r="8.0" fill="#F4ECF6" opacity="1"/>
<circle cx="455.0" cy="971.9" r="8.5" fill="none" stroke="#3A1844" stroke-width="0.5" opacity="0.7"/>
<circle cx="454.8" cy="972.3" r="6.9" fill="#84448A"/>
<circle cx="452.8" cy="967.8" r="0.70" fill="#2A0C32" opacity="0.64"/>
<circle cx="456.3" cy="974.4" r="1.00" fill="#2A0C32" opacity="0.60"/>
<circle cx="452.3" cy="971.8" r="0.76" fill="#2A0C32" opacity="0.72"/>
<circle cx="457.0" cy="968.7" r="0.61" fill="#2A0C32" opacity="0.66"/>
<circle cx="457.8" cy="976.3" r="1.05" fill="#2A0C32" opacity="0.87"/>
<circle cx="456.9" cy="968.2" r="1.12" fill="#2A0C32" opacity="0.87"/>
<circle cx="454.6" cy="977.3" r="0.87" fill="#2A0C32" opacity="0.85"/>
<circle cx="451.5" cy="970.9" r="0.80" fill="#2A0C32" opacity="0.72"/>
<circle cx="454.0" cy="974.0" r="1.05" fill="#2A0C32" opacity="0.87"/>
<circle cx="459.2" cy="971.9" r="0.90" fill="#2A0C32" opacity="0.85"/>
<circle cx="457.7" cy="975.6" r="0.84" fill="#2A0C32" opacity="0.62"/>
<circle cx="455.9" cy="976.0" r="0.74" fill="#2A0C32" opacity="0.73"/>
<circle cx="452.1" cy="970.2" r="0.67" fill="#2A0C32" opacity="0.75"/>
<circle cx="455.0" cy="974.9" r="0.71" fill="#2A0C32" opacity="0.70"/>
<circle cx="458.7" cy="974.2" r="1.12" fill="#2A0C32" opacity="0.71"/>
<circle cx="453.7" cy="967.2" r="0.62" fill="#2A0C32" opacity="0.61"/>
<circle cx="456.5" cy="967.7" r="0.95" fill="#2A0C32" opacity="0.61"/>
<circle cx="450.5" cy="974.9" r="1.09" fill="#2A0C32" opacity="0.87"/>
<circle cx="456.2" cy="977.1" r="0.81" fill="#2A0C32" opacity="0.84"/>
<circle cx="458.2" cy="976.3" r="0.93" fill="#2A0C32" opacity="0.84"/>
<circle cx="455.8" cy="976.4" r="0.92" fill="#2A0C32" opacity="0.79"/>
<circle cx="451.8" cy="975.9" r="0.79" fill="#2A0C32" opacity="0.67"/>
<circle cx="457.0" cy="976.1" r="0.66" fill="#2A0C32" opacity="0.64"/>
<circle cx="458.7" cy="974.1" r="0.91" fill="#2A0C32" opacity="0.77"/>
<circle cx="458.2" cy="973.2" r="0.79" fill="#2A0C32" opacity="0.59"/>
<circle cx="460.1" cy="972.4" r="0.67" fill="#2A0C32" opacity="0.67"/>
<circle cx="454.3" cy="976.4" r="0.64" fill="#2A0C32" opacity="0.74"/>
<circle cx="451.5" cy="976.0" r="0.60" fill="#2A0C32" opacity="0.68"/>
<circle cx="449.5" cy="972.4" r="0.88" fill="#2A0C32" opacity="0.74"/>
<circle cx="453.3" cy="969.7" r="0.62" fill="#2A0C32" opacity="0.75"/>
<circle cx="458.7" cy="969.8" r="0.74" fill="#2A0C32" opacity="0.82"/>
<circle cx="456.4" cy="970.1" r="0.92" fill="#2A0C32" opacity="0.69"/>
<circle cx="454.9" cy="975.2" r="0.71" fill="#2A0C32" opacity="0.69"/>
<circle cx="458.1" cy="973.1" r="0.65" fill="#2A0C32" opacity="0.85"/>
<circle cx="454.5" cy="972.1" r="1.03" fill="#2A0C32" opacity="0.63"/>
<circle cx="450.7" cy="972.8" r="0.50" fill="#E8C8E8" opacity="0.7"/>
<circle cx="453.9" cy="975.8" r="0.44" fill="#E8C8E8" opacity="0.7"/>
<circle cx="456.0" cy="970.9" r="0.65" fill="#E8C8E8" opacity="0.7"/>
<circle cx="455.4" cy="975.3" r="0.52" fill="#E8C8E8" opacity="0.7"/>
<circle cx="456.7" cy="972.7" r="0.51" fill="#E8C8E8" opacity="0.7"/>
<circle cx="449.9" cy="974.2" r="0.70" fill="#E8C8E8" opacity="0.7"/>
<circle cx="458.6" cy="973.4" r="0.44" fill="#E8C8E8" opacity="0.7"/>
<circle cx="455.8" cy="969.4" r="0.67" fill="#E8C8E8" opacity="0.7"/>
<circle cx="452.9" cy="971.8" r="0.40" fill="#E8C8E8" opacity="0.7"/>
<circle cx="454.8" cy="977.5" r="0.44" fill="#E8C8E8" opacity="0.7"/>
<circle cx="451.4" cy="972.8" r="0.50" fill="#E8C8E8" opacity="0.7"/>
<circle cx="455.6" cy="969.9" r="0.62" fill="#E8C8E8" opacity="0.7"/>
<circle cx="433.3" cy="977.3" r="6.4" fill="#F4ECF6" opacity="0.75"/>
<circle cx="433.3" cy="977.3" r="6.9" fill="none" stroke="#3A1844" stroke-width="0.5" opacity="0.7"/>
<circle cx="432.9" cy="977.7" r="5.3" fill="#84448A"/>
<circle cx="430.6" cy="974.4" r="0.75" fill="#2A0C32" opacity="0.65"/>
<circle cx="432.6" cy="974.4" r="0.77" fill="#2A0C32" opacity="0.82"/>
<circle cx="430.0" cy="979.9" r="0.67" fill="#2A0C32" opacity="0.64"/>
<circle cx="434.9" cy="976.3" r="0.74" fill="#2A0C32" opacity="0.87"/>
<circle cx="431.8" cy="976.5" r="0.90" fill="#2A0C32" opacity="0.82"/>
<circle cx="434.6" cy="980.6" r="0.67" fill="#2A0C32" opacity="0.68"/>
<circle cx="434.5" cy="978.7" r="1.14" fill="#2A0C32" opacity="0.71"/>
<circle cx="435.6" cy="977.6" r="0.93" fill="#2A0C32" opacity="0.90"/>
<circle cx="432.4" cy="976.4" r="0.92" fill="#2A0C32" opacity="0.80"/>
<circle cx="433.4" cy="978.9" r="1.08" fill="#2A0C32" opacity="0.76"/>
<circle cx="433.9" cy="980.3" r="0.72" fill="#2A0C32" opacity="0.87"/>
<circle cx="431.6" cy="977.7" r="1.05" fill="#2A0C32" opacity="0.59"/>
<circle cx="432.8" cy="978.4" r="1.01" fill="#2A0C32" opacity="0.60"/>
<circle cx="431.7" cy="977.5" r="0.86" fill="#2A0C32" opacity="0.82"/>
<circle cx="430.2" cy="977.1" r="0.87" fill="#2A0C32" opacity="0.72"/>
<circle cx="431.9" cy="977.0" r="0.86" fill="#2A0C32" opacity="0.64"/>
<circle cx="435.6" cy="974.7" r="0.64" fill="#2A0C32" opacity="0.61"/>
<circle cx="432.0" cy="974.7" r="0.61" fill="#2A0C32" opacity="0.83"/>
<circle cx="435.4" cy="976.8" r="0.79" fill="#2A0C32" opacity="0.78"/>
<circle cx="434.9" cy="976.9" r="0.77" fill="#2A0C32" opacity="0.63"/>
<circle cx="430.9" cy="975.7" r="0.74" fill="#2A0C32" opacity="0.71"/>
<circle cx="435.2" cy="978.2" r="0.69" fill="#E8C8E8" opacity="0.7"/>
<circle cx="431.0" cy="976.6" r="0.68" fill="#E8C8E8" opacity="0.7"/>
<circle cx="431.6" cy="979.4" r="0.41" fill="#E8C8E8" opacity="0.7"/>
<circle cx="434.1" cy="979.2" r="0.47" fill="#E8C8E8" opacity="0.7"/>
<circle cx="434.4" cy="976.2" r="0.47" fill="#E8C8E8" opacity="0.7"/>
<circle cx="429.7" cy="975.3" r="0.49" fill="#E8C8E8" opacity="0.7"/>
<circle cx="433.1" cy="975.2" r="0.57" fill="#E8C8E8" opacity="0.7"/>
<circle cx="483.0" cy="959.2" r="7.3" fill="none" stroke="#2A0C30" stroke-width="0.6" opacity="0.8"/>
<circle cx="483.0" cy="959.2" r="7.0" fill="#84448A"/>
<circle cx="483.6" cy="959.1" r="1.00" fill="#2A0C32" opacity="0.61"/>
<circle cx="483.7" cy="959.1" r="1.08" fill="#2A0C32" opacity="0.82"/>
<circle cx="486.4" cy="954.9" r="0.73" fill="#2A0C32" opacity="0.69"/>
<circle cx="482.2" cy="956.4" r="0.74" fill="#2A0C32" opacity="0.64"/>
<circle cx="486.2" cy="955.2" r="1.04" fill="#2A0C32" opacity="0.64"/>
<circle cx="486.5" cy="957.4" r="0.73" fill="#2A0C32" opacity="0.73"/>
<circle cx="481.7" cy="959.9" r="0.91" fill="#2A0C32" opacity="0.69"/>
<circle cx="478.2" cy="957.0" r="0.96" fill="#2A0C32" opacity="0.71"/>
<circle cx="486.6" cy="955.1" r="0.87" fill="#2A0C32" opacity="0.93"/>
<circle cx="485.0" cy="959.4" r="0.69" fill="#2A0C32" opacity="0.93"/>
<circle cx="481.3" cy="954.9" r="0.76" fill="#2A0C32" opacity="0.75"/>
<circle cx="484.3" cy="958.1" r="0.66" fill="#2A0C32" opacity="0.57"/>
<circle cx="478.1" cy="960.2" r="0.91" fill="#2A0C32" opacity="0.71"/>
<circle cx="480.7" cy="959.2" r="1.12" fill="#2A0C32" opacity="0.69"/>
<circle cx="483.3" cy="962.2" r="1.05" fill="#2A0C32" opacity="0.68"/>
<circle cx="485.6" cy="957.4" r="0.84" fill="#2A0C32" opacity="0.58"/>
<circle cx="487.1" cy="956.5" r="0.86" fill="#2A0C32" opacity="0.60"/>
<circle cx="479.7" cy="959.4" r="1.06" fill="#2A0C32" opacity="0.92"/>
<circle cx="482.8" cy="956.3" r="0.62" fill="#2A0C32" opacity="0.91"/>
<circle cx="485.0" cy="958.5" r="0.87" fill="#2A0C32" opacity="0.74"/>
<circle cx="484.1" cy="959.0" r="0.63" fill="#2A0C32" opacity="0.89"/>
<circle cx="479.6" cy="957.6" r="1.03" fill="#2A0C32" opacity="0.79"/>
<circle cx="482.0" cy="956.6" r="0.65" fill="#2A0C32" opacity="0.55"/>
<circle cx="480.8" cy="963.0" r="0.81" fill="#2A0C32" opacity="0.69"/>
<circle cx="479.6" cy="956.1" r="0.93" fill="#2A0C32" opacity="0.67"/>
<circle cx="485.1" cy="954.8" r="1.09" fill="#2A0C32" opacity="0.91"/>
<circle cx="487.4" cy="959.6" r="0.79" fill="#2A0C32" opacity="0.71"/>
<circle cx="480.9" cy="959.0" r="0.74" fill="#2A0C32" opacity="0.94"/>
<circle cx="480.5" cy="963.8" r="0.98" fill="#2A0C32" opacity="0.68"/>
<circle cx="481.2" cy="963.1" r="0.99" fill="#2A0C32" opacity="0.69"/>
<circle cx="485.1" cy="960.0" r="1.07" fill="#2A0C32" opacity="0.84"/>
<circle cx="486.9" cy="962.3" r="0.92" fill="#2A0C32" opacity="0.68"/>
<circle cx="484.5" cy="958.0" r="0.65" fill="#2A0C32" opacity="0.69"/>
<circle cx="482.7" cy="955.2" r="0.87" fill="#2A0C32" opacity="0.91"/>
<circle cx="479.2" cy="962.2" r="0.60" fill="#2A0C32" opacity="0.86"/>
<circle cx="485.5" cy="962.9" r="1.06" fill="#2A0C32" opacity="0.81"/>
<circle cx="479.3" cy="957.2" r="0.63" fill="#E8C8E8" opacity="0.7"/>
<circle cx="481.2" cy="961.2" r="0.57" fill="#E8C8E8" opacity="0.7"/>
<circle cx="481.1" cy="959.0" r="0.56" fill="#E8C8E8" opacity="0.7"/>
<circle cx="480.8" cy="959.7" r="0.61" fill="#E8C8E8" opacity="0.7"/>
<circle cx="483.6" cy="956.0" r="0.66" fill="#E8C8E8" opacity="0.7"/>
<circle cx="487.5" cy="958.8" r="0.52" fill="#E8C8E8" opacity="0.7"/>
<circle cx="482.7" cy="961.2" r="0.48" fill="#E8C8E8" opacity="0.7"/>
<circle cx="484.4" cy="959.2" r="0.67" fill="#E8C8E8" opacity="0.7"/>
<circle cx="481.4" cy="954.5" r="0.43" fill="#E8C8E8" opacity="0.7"/>
<circle cx="481.5" cy="957.2" r="0.60" fill="#E8C8E8" opacity="0.7"/>
<circle cx="484.3" cy="954.6" r="0.56" fill="#E8C8E8" opacity="0.7"/>
<circle cx="485.0" cy="957.4" r="0.45" fill="#E8C8E8" opacity="0.7"/>
</g>
<path d="M435.6 934.8 L443.2 939.6 L435.4 943.0 Z" fill="#F6EE14"/>
<path d="M489.8 944.8 L496.8 949.2 L489.0 952.8 Z" fill="#F6EE14"/>
<g>
</g>
</g>
<rect x="392.1" y="991.7" width="8.8" height="1" fill="#111"/>
<rect x="511.4" y="927" width="115.6" height="66.6" fill="#888" filter="url(#pm3b)"/>
<rect x="511.4" y="927" width="115.6" height="66.6" fill="#888" filter="url(#pm3w)"/>
<rect x="511.4" y="927" width="115.6" height="66.6" fill="#888" filter="url(#pm3d)"/>
<g clip-path="url(#cp22)">
<g filter="url(#soft)">
<ellipse cx="531.5" cy="933.9" rx="1.4" ry="5" fill="#F3EFF7" transform="rotate(35 531.5 933.9)"/>
<ellipse cx="541.5" cy="941.1" rx="1.4" ry="5" fill="#F3EFF7" transform="rotate(20 541.5 941.1)"/>
<ellipse cx="585.8" cy="967.4" rx="2.8" ry="5.6" fill="#F3EFF7" transform="rotate(-25 585.8 967.4)"/>
<ellipse cx="518.0" cy="967.4" rx="3.6" ry="1.5" fill="#E8B0D8" transform="rotate(-30 518.0 967.4)"/>
<ellipse cx="608.5" cy="942.9" rx="1.4" ry="4" fill="#F3EFF7" transform="rotate(10 608.5 942.9)"/>
<ellipse cx="616.0" cy="950.0" rx="1.2" ry="3" fill="#F3EFF7"/>
<ellipse cx="575.0" cy="950.0" rx="2.5" ry="1" fill="#F3EFF7" transform="rotate(-40 575.0 950.0)"/>
<ellipse cx="548.0" cy="962.0" rx="1" ry="2.5" fill="#F3EFF7" transform="rotate(30 548.0 962.0)"/>
<ellipse cx="600.0" cy="975.0" rx="1" ry="3" fill="#F3EFF7" transform="rotate(-40 600.0 975.0)"/>
<ellipse cx="522.0" cy="985.0" rx="1" ry="3" fill="#F3EFF7" transform="rotate(10 522.0 985.0)"/>
<ellipse cx="575.0" cy="988.0" rx="3" ry="1" fill="#F3EFF7" transform="rotate(-30 575.0 988.0)"/>
<ellipse cx="626.5" cy="970.1" rx="3" ry="5.2" fill="#E060A8"/>
<ellipse cx="598.5" cy="984.6" rx="5.4" ry="1.5" fill="#DC78B8" transform="rotate(-40 598.5 984.6)"/>
<circle cx="555.1" cy="941.1" r="8.0" fill="#F4ECF6" opacity="1"/>
<circle cx="555.1" cy="941.1" r="8.5" fill="none" stroke="#3A1844" stroke-width="0.5" opacity="0.7"/>
<circle cx="554.8" cy="941.5" r="6.9" fill="#84448A"/>
<circle cx="552.3" cy="938.7" r="0.72" fill="#2A0C32" opacity="0.87"/>
<circle cx="556.1" cy="937.9" r="0.88" fill="#2A0C32" opacity="0.64"/>
<circle cx="558.0" cy="941.6" r="0.92" fill="#2A0C32" opacity="0.58"/>
<circle cx="555.5" cy="939.0" r="0.73" fill="#2A0C32" opacity="0.57"/>
<circle cx="559.4" cy="941.4" r="1.08" fill="#2A0C32" opacity="0.80"/>
<circle cx="557.8" cy="942.2" r="0.87" fill="#2A0C32" opacity="0.60"/>
<circle cx="557.9" cy="940.5" r="0.69" fill="#2A0C32" opacity="0.88"/>
<circle cx="558.4" cy="945.2" r="0.85" fill="#2A0C32" opacity="0.77"/>
<circle cx="552.7" cy="944.6" r="0.70" fill="#2A0C32" opacity="0.56"/>
<circle cx="556.5" cy="939.6" r="1.03" fill="#2A0C32" opacity="0.63"/>
<circle cx="559.8" cy="940.5" r="1.02" fill="#2A0C32" opacity="0.86"/>
<circle cx="550.7" cy="939.3" r="0.67" fill="#2A0C32" opacity="0.74"/>
<circle cx="555.9" cy="939.4" r="1.11" fill="#2A0C32" opacity="0.91"/>
<circle cx="552.0" cy="943.3" r="0.85" fill="#2A0C32" opacity="0.70"/>
<circle cx="558.1" cy="941.4" r="0.61" fill="#2A0C32" opacity="0.59"/>
<circle cx="553.7" cy="936.3" r="0.87" fill="#2A0C32" opacity="0.75"/>
<circle cx="550.3" cy="940.1" r="0.72" fill="#2A0C32" opacity="0.79"/>
<circle cx="550.8" cy="940.0" r="0.70" fill="#2A0C32" opacity="0.62"/>
<circle cx="551.8" cy="945.7" r="0.79" fill="#2A0C32" opacity="0.79"/>
<circle cx="554.2" cy="943.1" r="0.64" fill="#2A0C32" opacity="0.88"/>
<circle cx="555.3" cy="938.3" r="0.98" fill="#2A0C32" opacity="0.82"/>
<circle cx="559.0" cy="938.4" r="0.82" fill="#2A0C32" opacity="0.95"/>
<circle cx="558.8" cy="940.5" r="1.09" fill="#2A0C32" opacity="0.75"/>
<circle cx="552.9" cy="943.4" r="1.08" fill="#2A0C32" opacity="0.61"/>
<circle cx="559.1" cy="943.6" r="1.03" fill="#2A0C32" opacity="0.74"/>
<circle cx="555.4" cy="940.5" r="0.74" fill="#2A0C32" opacity="0.67"/>
<circle cx="552.8" cy="942.6" r="0.64" fill="#2A0C32" opacity="0.69"/>
<circle cx="559.1" cy="938.4" r="1.01" fill="#2A0C32" opacity="0.74"/>
<circle cx="554.7" cy="946.8" r="0.89" fill="#2A0C32" opacity="0.84"/>
<circle cx="557.2" cy="942.0" r="1.06" fill="#2A0C32" opacity="0.87"/>
<circle cx="557.8" cy="938.7" r="0.83" fill="#2A0C32" opacity="0.78"/>
<circle cx="556.5" cy="939.1" r="0.89" fill="#2A0C32" opacity="0.66"/>
<circle cx="554.8" cy="941.0" r="0.98" fill="#2A0C32" opacity="0.93"/>
<circle cx="558.9" cy="942.1" r="0.95" fill="#2A0C32" opacity="0.89"/>
<circle cx="552.4" cy="940.1" r="0.82" fill="#2A0C32" opacity="0.93"/>
<circle cx="556.4" cy="940.4" r="0.43" fill="#E8C8E8" opacity="0.7"/>
<circle cx="555.5" cy="942.0" r="0.53" fill="#E8C8E8" opacity="0.7"/>
<circle cx="558.0" cy="945.5" r="0.60" fill="#E8C8E8" opacity="0.7"/>
<circle cx="557.6" cy="944.4" r="0.50" fill="#E8C8E8" opacity="0.7"/>
<circle cx="552.2" cy="941.6" r="0.45" fill="#E8C8E8" opacity="0.7"/>
<circle cx="556.1" cy="944.6" r="0.61" fill="#E8C8E8" opacity="0.7"/>
<circle cx="553.6" cy="941.1" r="0.61" fill="#E8C8E8" opacity="0.7"/>
<circle cx="558.2" cy="938.1" r="0.64" fill="#E8C8E8" opacity="0.7"/>
<circle cx="558.5" cy="941.7" r="0.42" fill="#E8C8E8" opacity="0.7"/>
<circle cx="555.0" cy="939.2" r="0.61" fill="#E8C8E8" opacity="0.7"/>
<circle cx="554.7" cy="946.1" r="0.49" fill="#E8C8E8" opacity="0.7"/>
<circle cx="558.1" cy="942.4" r="0.49" fill="#E8C8E8" opacity="0.7"/>
<circle cx="527.0" cy="952.9" r="7.5" fill="#F4ECF6" opacity="1"/>
<circle cx="527.0" cy="952.9" r="8.0" fill="none" stroke="#3A1844" stroke-width="0.5" opacity="0.7"/>
<circle cx="527.5" cy="953.0" r="6.4" fill="#84448A"/>
<circle cx="532.4" cy="953.7" r="0.70" fill="#2A0C32" opacity="0.60"/>
<circle cx="525.8" cy="950.6" r="1.09" fill="#2A0C32" opacity="0.64"/>
<circle cx="530.2" cy="952.3" r="0.93" fill="#2A0C32" opacity="0.92"/>
<circle cx="525.6" cy="948.6" r="0.99" fill="#2A0C32" opacity="0.57"/>
<circle cx="530.3" cy="950.4" r="0.77" fill="#2A0C32" opacity="0.63"/>
<circle cx="529.7" cy="949.9" r="1.12" fill="#2A0C32" opacity="0.86"/>
<circle cx="531.1" cy="952.1" r="0.98" fill="#2A0C32" opacity="0.79"/>
<circle cx="527.2" cy="957.9" r="0.77" fill="#2A0C32" opacity="0.86"/>
<circle cx="531.3" cy="951.9" r="0.68" fill="#2A0C32" opacity="0.88"/>
<circle cx="526.4" cy="951.1" r="0.63" fill="#2A0C32" opacity="0.76"/>
<circle cx="532.2" cy="954.0" r="0.88" fill="#2A0C32" opacity="0.76"/>
<circle cx="524.0" cy="955.2" r="1.10" fill="#2A0C32" opacity="0.67"/>
<circle cx="524.8" cy="955.7" r="0.76" fill="#2A0C32" opacity="0.79"/>
<circle cx="524.3" cy="952.1" r="0.97" fill="#2A0C32" opacity="0.76"/>
<circle cx="531.7" cy="955.6" r="0.80" fill="#2A0C32" opacity="0.72"/>
<circle cx="523.5" cy="955.7" r="1.12" fill="#2A0C32" opacity="0.75"/>
<circle cx="526.2" cy="953.9" r="1.09" fill="#2A0C32" opacity="0.62"/>
<circle cx="524.6" cy="952.1" r="0.78" fill="#2A0C32" opacity="0.69"/>
<circle cx="527.8" cy="953.9" r="0.89" fill="#2A0C32" opacity="0.87"/>
<circle cx="526.1" cy="951.2" r="0.98" fill="#2A0C32" opacity="0.57"/>
<circle cx="523.6" cy="955.4" r="1.11" fill="#2A0C32" opacity="0.73"/>
<circle cx="529.5" cy="950.1" r="0.89" fill="#2A0C32" opacity="0.78"/>
<circle cx="531.8" cy="952.7" r="0.86" fill="#2A0C32" opacity="0.84"/>
<circle cx="525.6" cy="950.7" r="1.03" fill="#2A0C32" opacity="0.88"/>
<circle cx="523.7" cy="949.9" r="0.61" fill="#2A0C32" opacity="0.75"/>
<circle cx="525.5" cy="950.8" r="0.69" fill="#2A0C32" opacity="0.83"/>
<circle cx="525.1" cy="954.0" r="0.62" fill="#2A0C32" opacity="0.94"/>
<circle cx="526.4" cy="954.4" r="0.72" fill="#2A0C32" opacity="0.65"/>
<circle cx="528.9" cy="951.4" r="0.75" fill="#2A0C32" opacity="0.59"/>
<circle cx="525.2" cy="953.4" r="0.79" fill="#2A0C32" opacity="0.84"/>
<circle cx="531.6" cy="950.9" r="0.41" fill="#E8C8E8" opacity="0.7"/>
<circle cx="524.1" cy="956.3" r="0.41" fill="#E8C8E8" opacity="0.7"/>
<circle cx="528.5" cy="956.4" r="0.51" fill="#E8C8E8" opacity="0.7"/>
<circle cx="527.5" cy="948.6" r="0.54" fill="#E8C8E8" opacity="0.7"/>
<circle cx="527.5" cy="955.4" r="0.48" fill="#E8C8E8" opacity="0.7"/>
<circle cx="531.3" cy="954.6" r="0.45" fill="#E8C8E8" opacity="0.7"/>
<circle cx="530.6" cy="950.3" r="0.42" fill="#E8C8E8" opacity="0.7"/>
<circle cx="523.5" cy="953.0" r="0.41" fill="#E8C8E8" opacity="0.7"/>
<circle cx="526.6" cy="953.1" r="0.63" fill="#E8C8E8" opacity="0.7"/>
<circle cx="531.5" cy="953.1" r="0.70" fill="#E8C8E8" opacity="0.7"/>
<circle cx="594.9" cy="953.8" r="8.5" fill="#F4ECF6" opacity="1"/>
<circle cx="594.9" cy="953.8" r="9.0" fill="none" stroke="#3A1844" stroke-width="0.5" opacity="0.7"/>
<circle cx="595.3" cy="954.4" r="7.4" fill="#84448A"/>
<circle cx="596.6" cy="953.3" r="0.93" fill="#2A0C32" opacity="0.72"/>
<circle cx="593.3" cy="954.0" r="0.71" fill="#2A0C32" opacity="0.73"/>
<circle cx="596.0" cy="958.2" r="0.61" fill="#2A0C32" opacity="0.58"/>
<circle cx="594.4" cy="950.7" r="0.88" fill="#2A0C32" opacity="0.84"/>
<circle cx="594.4" cy="955.4" r="1.03" fill="#2A0C32" opacity="0.79"/>
<circle cx="592.8" cy="950.6" r="1.13" fill="#2A0C32" opacity="0.70"/>
<circle cx="595.5" cy="950.9" r="0.91" fill="#2A0C32" opacity="0.81"/>
<circle cx="594.7" cy="955.9" r="0.86" fill="#2A0C32" opacity="0.84"/>
<circle cx="592.1" cy="952.3" r="0.95" fill="#2A0C32" opacity="0.62"/>
<circle cx="596.7" cy="957.3" r="1.05" fill="#2A0C32" opacity="0.63"/>
<circle cx="596.7" cy="955.6" r="0.62" fill="#2A0C32" opacity="0.66"/>
<circle cx="590.6" cy="952.1" r="0.78" fill="#2A0C32" opacity="0.70"/>
<circle cx="594.6" cy="957.5" r="1.03" fill="#2A0C32" opacity="0.77"/>
<circle cx="595.2" cy="956.3" r="1.03" fill="#2A0C32" opacity="0.83"/>
<circle cx="596.7" cy="951.9" r="0.90" fill="#2A0C32" opacity="0.92"/>
<circle cx="590.6" cy="951.3" r="0.69" fill="#2A0C32" opacity="0.94"/>
<circle cx="598.8" cy="955.7" r="0.61" fill="#2A0C32" opacity="0.87"/>
<circle cx="593.1" cy="949.1" r="1.04" fill="#2A0C32" opacity="0.93"/>
<circle cx="589.8" cy="953.0" r="1.01" fill="#2A0C32" opacity="0.69"/>
<circle cx="598.8" cy="953.8" r="0.71" fill="#2A0C32" opacity="0.58"/>
<circle cx="592.8" cy="954.9" r="1.11" fill="#2A0C32" opacity="0.93"/>
<circle cx="595.7" cy="956.2" r="0.89" fill="#2A0C32" opacity="0.62"/>
<circle cx="590.3" cy="953.0" r="0.74" fill="#2A0C32" opacity="0.72"/>
<circle cx="598.5" cy="952.1" r="0.79" fill="#2A0C32" opacity="0.91"/>
<circle cx="597.5" cy="949.3" r="0.98" fill="#2A0C32" opacity="0.72"/>
<circle cx="593.5" cy="949.4" r="0.95" fill="#2A0C32" opacity="0.65"/>
<circle cx="594.3" cy="957.9" r="1.02" fill="#2A0C32" opacity="0.77"/>
<circle cx="590.3" cy="952.8" r="0.66" fill="#2A0C32" opacity="0.80"/>
<circle cx="593.2" cy="958.1" r="1.06" fill="#2A0C32" opacity="0.65"/>
<circle cx="596.9" cy="953.9" r="0.91" fill="#2A0C32" opacity="0.77"/>
<circle cx="595.7" cy="958.7" r="0.86" fill="#2A0C32" opacity="0.73"/>
<circle cx="595.3" cy="954.0" r="0.81" fill="#2A0C32" opacity="0.86"/>
<circle cx="598.7" cy="958.6" r="0.71" fill="#2A0C32" opacity="0.82"/>
<circle cx="597.1" cy="957.8" r="0.83" fill="#2A0C32" opacity="0.58"/>
<circle cx="594.1" cy="950.6" r="0.98" fill="#2A0C32" opacity="0.77"/>
<circle cx="591.4" cy="952.9" r="0.76" fill="#2A0C32" opacity="0.91"/>
<circle cx="600.0" cy="957.2" r="1.07" fill="#2A0C32" opacity="0.75"/>
<circle cx="596.1" cy="949.7" r="0.93" fill="#2A0C32" opacity="0.67"/>
<circle cx="593.9" cy="957.5" r="0.77" fill="#2A0C32" opacity="0.93"/>
<circle cx="593.4" cy="957.4" r="0.83" fill="#2A0C32" opacity="0.88"/>
<circle cx="591.1" cy="955.0" r="0.74" fill="#2A0C32" opacity="0.66"/>
<circle cx="597.7" cy="955.8" r="0.48" fill="#E8C8E8" opacity="0.7"/>
<circle cx="597.8" cy="951.0" r="0.43" fill="#E8C8E8" opacity="0.7"/>
<circle cx="593.3" cy="954.8" r="0.57" fill="#E8C8E8" opacity="0.7"/>
<circle cx="590.2" cy="956.3" r="0.48" fill="#E8C8E8" opacity="0.7"/>
<circle cx="597.1" cy="952.0" r="0.69" fill="#E8C8E8" opacity="0.7"/>
<circle cx="594.5" cy="953.5" r="0.64" fill="#E8C8E8" opacity="0.7"/>
<circle cx="594.8" cy="957.9" r="0.44" fill="#E8C8E8" opacity="0.7"/>
<circle cx="596.3" cy="952.9" r="0.62" fill="#E8C8E8" opacity="0.7"/>
<circle cx="591.5" cy="957.3" r="0.49" fill="#E8C8E8" opacity="0.7"/>
<circle cx="600.3" cy="957.0" r="0.60" fill="#E8C8E8" opacity="0.7"/>
<circle cx="598.2" cy="959.5" r="0.67" fill="#E8C8E8" opacity="0.7"/>
<circle cx="595.7" cy="955.1" r="0.58" fill="#E8C8E8" opacity="0.7"/>
<circle cx="598.6" cy="958.3" r="0.54" fill="#E8C8E8" opacity="0.7"/>
<circle cx="594.2" cy="950.0" r="0.63" fill="#E8C8E8" opacity="0.7"/>
<circle cx="562.3" cy="973.7" r="8.0" fill="#F4ECF6" opacity="1"/>
<circle cx="562.3" cy="973.7" r="8.5" fill="none" stroke="#3A1844" stroke-width="0.5" opacity="0.7"/>
<circle cx="562.5" cy="974.2" r="6.9" fill="#84448A"/>
<circle cx="564.7" cy="979.1" r="0.71" fill="#2A0C32" opacity="0.82"/>
<circle cx="566.4" cy="976.8" r="0.68" fill="#2A0C32" opacity="0.83"/>
<circle cx="561.8" cy="969.6" r="0.84" fill="#2A0C32" opacity="0.90"/>
<circle cx="564.3" cy="974.1" r="0.88" fill="#2A0C32" opacity="0.93"/>
<circle cx="562.3" cy="970.6" r="0.77" fill="#2A0C32" opacity="0.93"/>
<circle cx="566.6" cy="976.6" r="1.06" fill="#2A0C32" opacity="0.61"/>
<circle cx="561.1" cy="976.8" r="0.90" fill="#2A0C32" opacity="0.70"/>
<circle cx="566.6" cy="971.0" r="0.77" fill="#2A0C32" opacity="0.91"/>
<circle cx="564.0" cy="974.9" r="0.97" fill="#2A0C32" opacity="0.87"/>
<circle cx="564.8" cy="969.3" r="1.07" fill="#2A0C32" opacity="0.66"/>
<circle cx="562.3" cy="969.0" r="0.65" fill="#2A0C32" opacity="0.75"/>
<circle cx="563.7" cy="975.9" r="0.86" fill="#2A0C32" opacity="0.82"/>
<circle cx="564.4" cy="973.9" r="0.88" fill="#2A0C32" opacity="0.95"/>
<circle cx="562.9" cy="970.3" r="0.73" fill="#2A0C32" opacity="0.80"/>
<circle cx="562.2" cy="978.5" r="0.96" fill="#2A0C32" opacity="0.71"/>
<circle cx="563.5" cy="970.9" r="0.86" fill="#2A0C32" opacity="0.88"/>
<circle cx="562.5" cy="976.5" r="0.92" fill="#2A0C32" opacity="0.72"/>
<circle cx="564.4" cy="972.3" r="0.80" fill="#2A0C32" opacity="0.57"/>
<circle cx="559.6" cy="975.1" r="0.85" fill="#2A0C32" opacity="0.86"/>
<circle cx="567.7" cy="975.5" r="0.99" fill="#2A0C32" opacity="0.87"/>
<circle cx="558.5" cy="973.2" r="0.83" fill="#2A0C32" opacity="0.71"/>
<circle cx="563.1" cy="977.1" r="0.76" fill="#2A0C32" opacity="0.68"/>
<circle cx="566.5" cy="971.6" r="0.95" fill="#2A0C32" opacity="0.56"/>
<circle cx="562.2" cy="978.2" r="0.98" fill="#2A0C32" opacity="0.72"/>
<circle cx="559.1" cy="970.4" r="0.75" fill="#2A0C32" opacity="0.70"/>
<circle cx="562.7" cy="971.2" r="1.00" fill="#2A0C32" opacity="0.71"/>
<circle cx="566.1" cy="974.6" r="0.64" fill="#2A0C32" opacity="0.86"/>
<circle cx="564.7" cy="971.0" r="1.09" fill="#2A0C32" opacity="0.64"/>
<circle cx="560.4" cy="975.0" r="0.63" fill="#2A0C32" opacity="0.88"/>
<circle cx="567.4" cy="975.9" r="0.91" fill="#2A0C32" opacity="0.83"/>
<circle cx="567.4" cy="975.8" r="1.04" fill="#2A0C32" opacity="0.59"/>
<circle cx="563.3" cy="976.0" r="0.88" fill="#2A0C32" opacity="0.58"/>
<circle cx="563.6" cy="970.6" r="0.99" fill="#2A0C32" opacity="0.65"/>
<circle cx="560.5" cy="971.2" r="0.96" fill="#2A0C32" opacity="0.71"/>
<circle cx="567.5" cy="973.9" r="1.06" fill="#2A0C32" opacity="0.69"/>
<circle cx="563.3" cy="976.2" r="0.44" fill="#E8C8E8" opacity="0.7"/>
<circle cx="565.4" cy="973.6" r="0.66" fill="#E8C8E8" opacity="0.7"/>
<circle cx="563.0" cy="978.5" r="0.47" fill="#E8C8E8" opacity="0.7"/>
<circle cx="560.8" cy="978.7" r="0.58" fill="#E8C8E8" opacity="0.7"/>
<circle cx="565.0" cy="973.3" r="0.48" fill="#E8C8E8" opacity="0.7"/>
<circle cx="564.9" cy="975.2" r="0.69" fill="#E8C8E8" opacity="0.7"/>
<circle cx="559.0" cy="972.7" r="0.50" fill="#E8C8E8" opacity="0.7"/>
<circle cx="562.8" cy="969.6" r="0.45" fill="#E8C8E8" opacity="0.7"/>
<circle cx="564.7" cy="974.9" r="0.65" fill="#E8C8E8" opacity="0.7"/>
<circle cx="562.2" cy="971.6" r="0.47" fill="#E8C8E8" opacity="0.7"/>
<circle cx="560.9" cy="978.5" r="0.62" fill="#E8C8E8" opacity="0.7"/>
<circle cx="562.7" cy="977.4" r="0.47" fill="#E8C8E8" opacity="0.7"/>
<circle cx="538.8" cy="982.7" r="7.5" fill="#F4ECF6" opacity="1"/>
<circle cx="538.8" cy="982.7" r="8.0" fill="none" stroke="#3A1844" stroke-width="0.5" opacity="0.7"/>
<circle cx="538.7" cy="983.3" r="6.4" fill="#84448A"/>
<circle cx="540.0" cy="981.3" r="1.08" fill="#2A0C32" opacity="0.80"/>
<circle cx="543.4" cy="984.5" r="0.74" fill="#2A0C32" opacity="0.67"/>
<circle cx="535.3" cy="985.0" r="0.67" fill="#2A0C32" opacity="0.82"/>
<circle cx="540.4" cy="980.1" r="1.04" fill="#2A0C32" opacity="0.80"/>
<circle cx="539.6" cy="981.4" r="0.80" fill="#2A0C32" opacity="0.74"/>
<circle cx="542.6" cy="986.2" r="0.95" fill="#2A0C32" opacity="0.59"/>
<circle cx="535.9" cy="981.7" r="0.70" fill="#2A0C32" opacity="0.61"/>
<circle cx="537.4" cy="983.6" r="0.91" fill="#2A0C32" opacity="0.76"/>
<circle cx="541.9" cy="986.6" r="0.62" fill="#2A0C32" opacity="0.62"/>
<circle cx="539.6" cy="981.1" r="0.83" fill="#2A0C32" opacity="0.77"/>
<circle cx="535.5" cy="984.6" r="0.88" fill="#2A0C32" opacity="0.74"/>
<circle cx="542.9" cy="984.9" r="0.76" fill="#2A0C32" opacity="0.57"/>
<circle cx="534.9" cy="985.7" r="0.95" fill="#2A0C32" opacity="0.73"/>
<circle cx="536.4" cy="983.6" r="0.94" fill="#2A0C32" opacity="0.69"/>
<circle cx="540.3" cy="984.0" r="0.65" fill="#2A0C32" opacity="0.82"/>
<circle cx="541.9" cy="980.3" r="0.72" fill="#2A0C32" opacity="0.61"/>
<circle cx="541.6" cy="982.3" r="0.69" fill="#2A0C32" opacity="0.78"/>
<circle cx="536.0" cy="980.8" r="0.85" fill="#2A0C32" opacity="0.67"/>
<circle cx="535.3" cy="983.4" r="0.97" fill="#2A0C32" opacity="0.73"/>
<circle cx="535.6" cy="987.2" r="0.66" fill="#2A0C32" opacity="0.85"/>
<circle cx="534.8" cy="985.5" r="0.99" fill="#2A0C32" opacity="0.78"/>
<circle cx="536.8" cy="981.7" r="0.61" fill="#2A0C32" opacity="0.85"/>
<circle cx="538.6" cy="984.9" r="1.05" fill="#2A0C32" opacity="0.79"/>
<circle cx="542.2" cy="984.0" r="0.69" fill="#2A0C32" opacity="0.90"/>
<circle cx="538.0" cy="988.1" r="0.94" fill="#2A0C32" opacity="0.58"/>
<circle cx="534.6" cy="985.9" r="0.99" fill="#2A0C32" opacity="0.61"/>
<circle cx="536.9" cy="985.2" r="0.65" fill="#2A0C32" opacity="0.79"/>
<circle cx="537.9" cy="981.1" r="0.90" fill="#2A0C32" opacity="0.89"/>
<circle cx="540.3" cy="982.0" r="0.64" fill="#2A0C32" opacity="0.91"/>
<circle cx="537.7" cy="985.1" r="1.04" fill="#2A0C32" opacity="0.66"/>
<circle cx="537.8" cy="979.1" r="0.49" fill="#E8C8E8" opacity="0.7"/>
<circle cx="536.0" cy="983.9" r="0.64" fill="#E8C8E8" opacity="0.7"/>
<circle cx="538.1" cy="985.9" r="0.66" fill="#E8C8E8" opacity="0.7"/>
<circle cx="538.1" cy="986.6" r="0.55" fill="#E8C8E8" opacity="0.7"/>
<circle cx="541.4" cy="983.3" r="0.62" fill="#E8C8E8" opacity="0.7"/>
<circle cx="541.6" cy="982.9" r="0.54" fill="#E8C8E8" opacity="0.7"/>
<circle cx="542.0" cy="984.5" r="0.51" fill="#E8C8E8" opacity="0.7"/>
<circle cx="535.9" cy="983.2" r="0.49" fill="#E8C8E8" opacity="0.7"/>
<circle cx="542.5" cy="980.9" r="0.51" fill="#E8C8E8" opacity="0.7"/>
<circle cx="539.7" cy="983.8" r="0.43" fill="#E8C8E8" opacity="0.7"/>
<circle cx="616.6" cy="983.6" r="5.5" fill="#F4ECF6" opacity="0.5"/>
<circle cx="616.6" cy="983.6" r="6.0" fill="none" stroke="#3A1844" stroke-width="0.5" opacity="0.7"/>
<circle cx="616.8" cy="983.7" r="4.4" fill="#84448A"/>
<circle cx="617.6" cy="986.3" r="0.63" fill="#2A0C32" opacity="0.86"/>
<circle cx="616.9" cy="983.0" r="0.98" fill="#2A0C32" opacity="0.75"/>
<circle cx="614.6" cy="981.2" r="1.14" fill="#2A0C32" opacity="0.71"/>
<circle cx="618.5" cy="981.2" r="1.13" fill="#2A0C32" opacity="0.56"/>
<circle cx="618.3" cy="983.1" r="0.67" fill="#2A0C32" opacity="0.79"/>
<circle cx="618.6" cy="980.9" r="0.80" fill="#2A0C32" opacity="0.88"/>
<circle cx="620.2" cy="984.4" r="0.76" fill="#2A0C32" opacity="0.77"/>
<circle cx="617.4" cy="984.2" r="0.60" fill="#2A0C32" opacity="0.79"/>
<circle cx="614.0" cy="982.6" r="1.07" fill="#2A0C32" opacity="0.72"/>
<circle cx="617.7" cy="982.5" r="1.08" fill="#2A0C32" opacity="0.65"/>
<circle cx="618.8" cy="982.9" r="0.84" fill="#2A0C32" opacity="0.76"/>
<circle cx="617.7" cy="984.1" r="0.90" fill="#2A0C32" opacity="0.84"/>
<circle cx="619.0" cy="984.3" r="0.80" fill="#2A0C32" opacity="0.86"/>
<circle cx="617.9" cy="983.7" r="0.90" fill="#2A0C32" opacity="0.59"/>
<circle cx="617.6" cy="980.4" r="0.61" fill="#E8C8E8" opacity="0.7"/>
<circle cx="616.2" cy="983.4" r="0.43" fill="#E8C8E8" opacity="0.7"/>
<circle cx="616.9" cy="984.7" r="0.44" fill="#E8C8E8" opacity="0.7"/>
<circle cx="618.9" cy="983.2" r="0.67" fill="#E8C8E8" opacity="0.7"/>
</g>
</g>
<rect x="512.2" y="991.7" width="8.8" height="1" fill="#111"/>
</svg>
</body></html>
